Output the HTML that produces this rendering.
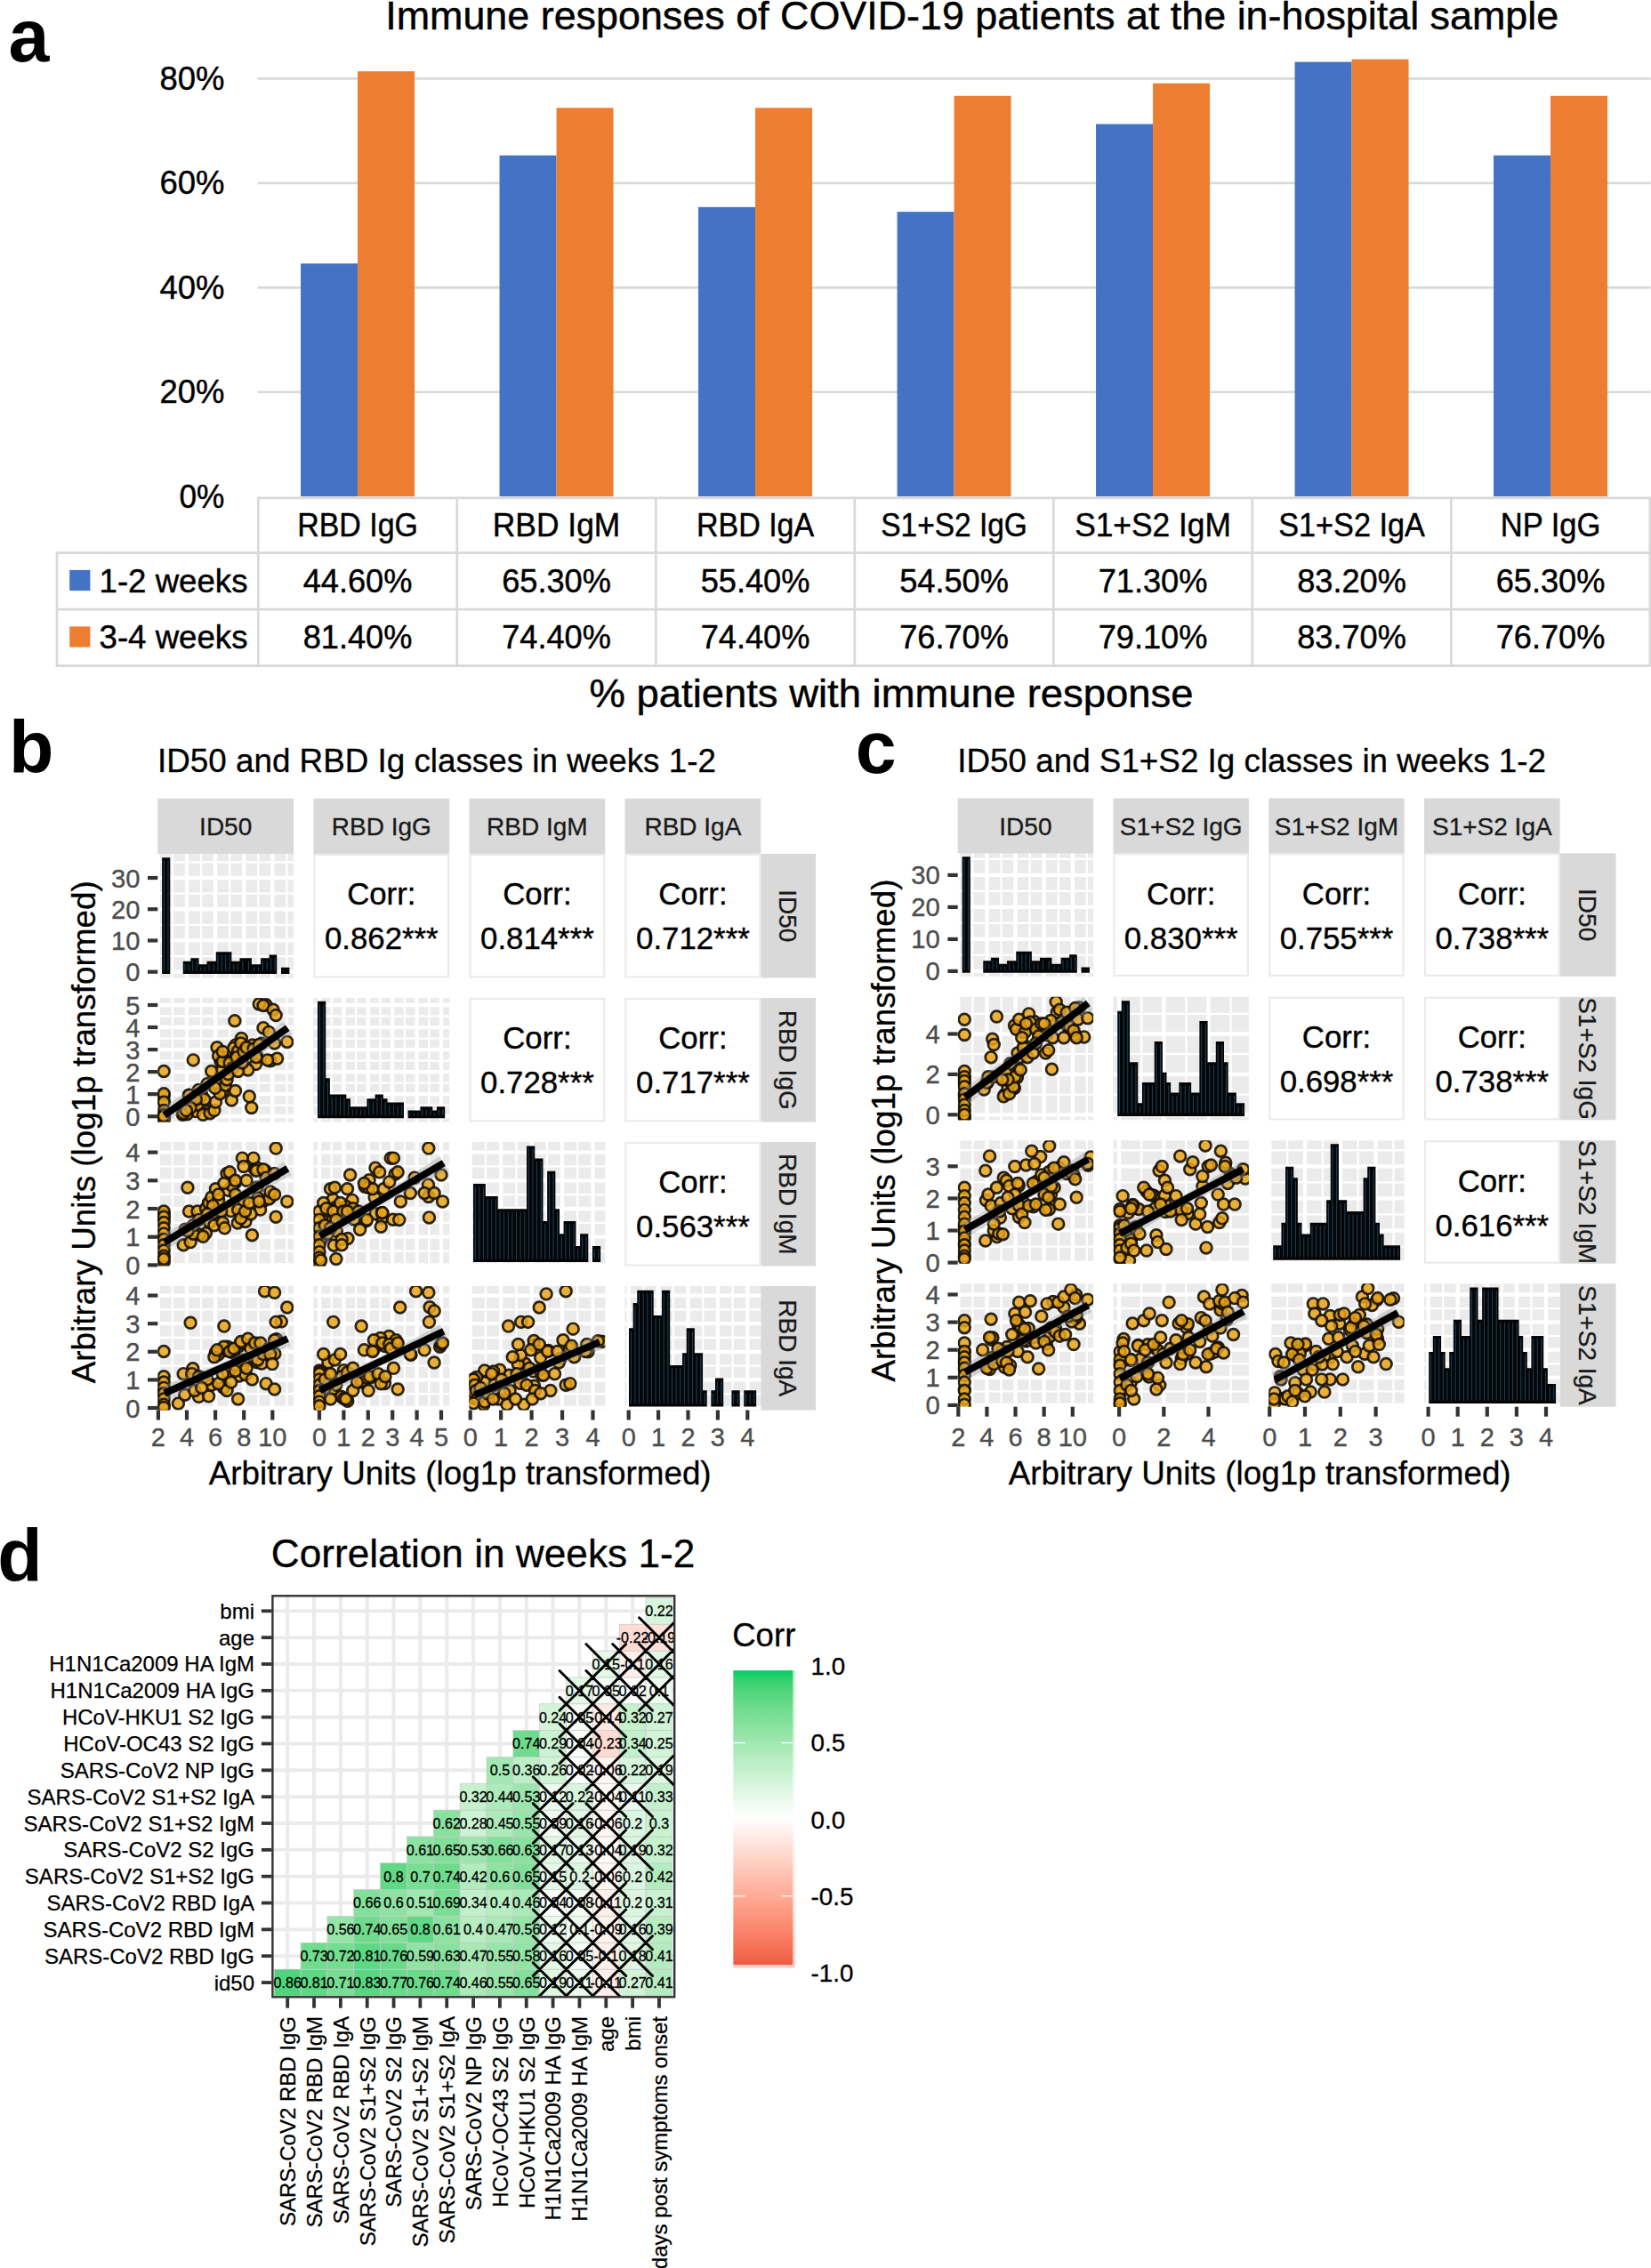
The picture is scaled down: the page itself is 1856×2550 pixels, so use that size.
<!DOCTYPE html>
<html lang="en"><head><meta charset="utf-8"><title>Figure</title>
<style>
html,body{margin:0;padding:0;background:#fff}
body{width:1856px;height:2550px;overflow:hidden}
svg{display:block;font-family:"Liberation Sans",sans-serif}
</style></head><body>
<svg width="1856" height="2550" viewBox="0 0 1856 2550">
<rect width="1856" height="2550" fill="#fff"/>
<g id="pa">
<line x1="289.6" y1="440.75" x2="1855.5" y2="440.75" stroke="#D9D9D9" stroke-width="2.7"/>
<line x1="289.6" y1="323.3" x2="1855.5" y2="323.3" stroke="#D9D9D9" stroke-width="2.7"/>
<line x1="289.6" y1="205.85" x2="1855.5" y2="205.85" stroke="#D9D9D9" stroke-width="2.7"/>
<line x1="289.6" y1="88.4" x2="1855.5" y2="88.4" stroke="#D9D9D9" stroke-width="2.7"/>
<rect x="338.05" y="296.29" width="64" height="261.91" fill="#4472C4"/>
<rect x="402.05" y="80.18" width="64" height="478.02" fill="#ED7D31"/>
<rect x="561.55" y="174.73" width="64" height="383.47" fill="#4472C4"/>
<rect x="625.55" y="121.29" width="64" height="436.91" fill="#ED7D31"/>
<rect x="785.05" y="232.86" width="64" height="325.34" fill="#4472C4"/>
<rect x="849.05" y="121.29" width="64" height="436.91" fill="#ED7D31"/>
<rect x="1008.55" y="238.15" width="64" height="320.05" fill="#4472C4"/>
<rect x="1072.55" y="107.78" width="64" height="450.42" fill="#ED7D31"/>
<rect x="1232.05" y="139.49" width="64" height="418.71" fill="#4472C4"/>
<rect x="1296.05" y="93.69" width="64" height="464.51" fill="#ED7D31"/>
<rect x="1455.55" y="69.61" width="64" height="488.59" fill="#4472C4"/>
<rect x="1519.55" y="66.67" width="64" height="491.53" fill="#ED7D31"/>
<rect x="1679.05" y="174.73" width="64" height="383.47" fill="#4472C4"/>
<rect x="1743.05" y="107.78" width="64" height="450.42" fill="#ED7D31"/>
<line x1="289.1" y1="559.9" x2="1855.5" y2="559.9" stroke="#D9D9D9" stroke-width="2.7"/>
<line x1="62.8" y1="621.6" x2="1855.5" y2="621.6" stroke="#D9D9D9" stroke-width="2.7"/>
<line x1="62.8" y1="685.1" x2="1855.5" y2="685.1" stroke="#D9D9D9" stroke-width="2.7"/>
<line x1="62.8" y1="748.6" x2="1855.5" y2="748.6" stroke="#D9D9D9" stroke-width="2.7"/>
<line x1="290.3" y1="559.9" x2="290.3" y2="748.6" stroke="#D9D9D9" stroke-width="2.7"/>
<line x1="513.8" y1="559.9" x2="513.8" y2="748.6" stroke="#D9D9D9" stroke-width="2.7"/>
<line x1="737.3" y1="559.9" x2="737.3" y2="748.6" stroke="#D9D9D9" stroke-width="2.7"/>
<line x1="960.8" y1="559.9" x2="960.8" y2="748.6" stroke="#D9D9D9" stroke-width="2.7"/>
<line x1="1184.3" y1="559.9" x2="1184.3" y2="748.6" stroke="#D9D9D9" stroke-width="2.7"/>
<line x1="1407.8" y1="559.9" x2="1407.8" y2="748.6" stroke="#D9D9D9" stroke-width="2.7"/>
<line x1="1631.3" y1="559.9" x2="1631.3" y2="748.6" stroke="#D9D9D9" stroke-width="2.7"/>
<line x1="1854.8" y1="559.9" x2="1854.8" y2="748.6" stroke="#D9D9D9" stroke-width="2.7"/>
<line x1="64" y1="621.6" x2="64" y2="748.6" stroke="#D9D9D9" stroke-width="2.7"/>
<text x="252.5" y="570.5" font-size="37" text-anchor="end" stroke="#000" stroke-width="0.45" textLength="51" lengthAdjust="spacingAndGlyphs">0%</text>
<text x="252.5" y="453.05" font-size="37" text-anchor="end" stroke="#000" stroke-width="0.45" textLength="73" lengthAdjust="spacingAndGlyphs">20%</text>
<text x="252.5" y="335.6" font-size="37" text-anchor="end" stroke="#000" stroke-width="0.45" textLength="73" lengthAdjust="spacingAndGlyphs">40%</text>
<text x="252.5" y="218.15" font-size="37" text-anchor="end" stroke="#000" stroke-width="0.45" textLength="73" lengthAdjust="spacingAndGlyphs">60%</text>
<text x="252.5" y="100.7" font-size="37" text-anchor="end" stroke="#000" stroke-width="0.45" textLength="73" lengthAdjust="spacingAndGlyphs">80%</text>
<text x="402.05" y="602.5" font-size="37" text-anchor="middle" stroke="#000" stroke-width="0.45" textLength="135.7" lengthAdjust="spacingAndGlyphs">RBD IgG</text>
<text x="402.05" y="666.2" font-size="37" text-anchor="middle" stroke="#000" stroke-width="0.45" textLength="122.8" lengthAdjust="spacingAndGlyphs">44.60%</text>
<text x="402.05" y="729.4" font-size="37" text-anchor="middle" stroke="#000" stroke-width="0.45" textLength="122.8" lengthAdjust="spacingAndGlyphs">81.40%</text>
<text x="625.55" y="602.5" font-size="37" text-anchor="middle" stroke="#000" stroke-width="0.45" textLength="143.5" lengthAdjust="spacingAndGlyphs">RBD IgM</text>
<text x="625.55" y="666.2" font-size="37" text-anchor="middle" stroke="#000" stroke-width="0.45" textLength="122.8" lengthAdjust="spacingAndGlyphs">65.30%</text>
<text x="625.55" y="729.4" font-size="37" text-anchor="middle" stroke="#000" stroke-width="0.45" textLength="122.8" lengthAdjust="spacingAndGlyphs">74.40%</text>
<text x="849.05" y="602.5" font-size="37" text-anchor="middle" stroke="#000" stroke-width="0.45" textLength="132.3" lengthAdjust="spacingAndGlyphs">RBD IgA</text>
<text x="849.05" y="666.2" font-size="37" text-anchor="middle" stroke="#000" stroke-width="0.45" textLength="122.8" lengthAdjust="spacingAndGlyphs">55.40%</text>
<text x="849.05" y="729.4" font-size="37" text-anchor="middle" stroke="#000" stroke-width="0.45" textLength="122.8" lengthAdjust="spacingAndGlyphs">74.40%</text>
<text x="1072.55" y="602.5" font-size="37" text-anchor="middle" stroke="#000" stroke-width="0.45" textLength="164.6" lengthAdjust="spacingAndGlyphs">S1+S2 IgG</text>
<text x="1072.55" y="666.2" font-size="37" text-anchor="middle" stroke="#000" stroke-width="0.45" textLength="122.8" lengthAdjust="spacingAndGlyphs">54.50%</text>
<text x="1072.55" y="729.4" font-size="37" text-anchor="middle" stroke="#000" stroke-width="0.45" textLength="122.8" lengthAdjust="spacingAndGlyphs">76.70%</text>
<text x="1296.05" y="602.5" font-size="37" text-anchor="middle" stroke="#000" stroke-width="0.45" textLength="175.8" lengthAdjust="spacingAndGlyphs">S1+S2 IgM</text>
<text x="1296.05" y="666.2" font-size="37" text-anchor="middle" stroke="#000" stroke-width="0.45" textLength="122.8" lengthAdjust="spacingAndGlyphs">71.30%</text>
<text x="1296.05" y="729.4" font-size="37" text-anchor="middle" stroke="#000" stroke-width="0.45" textLength="122.8" lengthAdjust="spacingAndGlyphs">79.10%</text>
<text x="1519.55" y="602.5" font-size="37" text-anchor="middle" stroke="#000" stroke-width="0.45" textLength="164.6" lengthAdjust="spacingAndGlyphs">S1+S2 IgA</text>
<text x="1519.55" y="666.2" font-size="37" text-anchor="middle" stroke="#000" stroke-width="0.45" textLength="122.8" lengthAdjust="spacingAndGlyphs">83.20%</text>
<text x="1519.55" y="729.4" font-size="37" text-anchor="middle" stroke="#000" stroke-width="0.45" textLength="122.8" lengthAdjust="spacingAndGlyphs">83.70%</text>
<text x="1743.05" y="602.5" font-size="37" text-anchor="middle" stroke="#000" stroke-width="0.45" textLength="112.7" lengthAdjust="spacingAndGlyphs">NP IgG</text>
<text x="1743.05" y="666.2" font-size="37" text-anchor="middle" stroke="#000" stroke-width="0.45" textLength="122.8" lengthAdjust="spacingAndGlyphs">65.30%</text>
<text x="1743.05" y="729.4" font-size="37" text-anchor="middle" stroke="#000" stroke-width="0.45" textLength="122.8" lengthAdjust="spacingAndGlyphs">76.70%</text>
<rect x="78.2" y="640.9" width="23.2" height="23.2" fill="#4472C4"/>
<rect x="78.2" y="704.4" width="23.2" height="23.2" fill="#ED7D31"/>
<text x="111.5" y="666.2" font-size="37" stroke="#000" stroke-width="0.45" textLength="167" lengthAdjust="spacingAndGlyphs">1-2 weeks</text>
<text x="111.5" y="729.4" font-size="37" stroke="#000" stroke-width="0.45" textLength="167" lengthAdjust="spacingAndGlyphs">3-4 weeks</text>
<text x="433.2" y="33.4" font-size="44.4" stroke="#000" stroke-width="0.45" textLength="1319" lengthAdjust="spacingAndGlyphs">Immune responses of COVID-19 patients at the in-hospital sample</text>
<text x="662.5" y="794.5" font-size="44.4" stroke="#000" stroke-width="0.45" textLength="679" lengthAdjust="spacingAndGlyphs">% patients with immune response</text>
<text x="9.6" y="68.7" font-size="82.5" font-weight="bold">a</text>
</g>
<g id="pb">
<defs>
<clipPath id="clb00"><rect x="177.3" y="960" width="152.8" height="139.5"/></clipPath>
<clipPath id="clb01"><rect x="352.4" y="960" width="152.8" height="139.5"/></clipPath>
<clipPath id="clb02"><rect x="527.5" y="960" width="152.8" height="139.5"/></clipPath>
<clipPath id="clb03"><rect x="702.5" y="960" width="152.8" height="139.5"/></clipPath>
<clipPath id="clb10"><rect x="177.3" y="1122" width="152.8" height="139.5"/></clipPath>
<clipPath id="clb11"><rect x="352.4" y="1122" width="152.8" height="139.5"/></clipPath>
<clipPath id="clb12"><rect x="527.5" y="1122" width="152.8" height="139.5"/></clipPath>
<clipPath id="clb13"><rect x="702.5" y="1122" width="152.8" height="139.5"/></clipPath>
<clipPath id="clb20"><rect x="177.3" y="1284" width="152.8" height="139.5"/></clipPath>
<clipPath id="clb21"><rect x="352.4" y="1284" width="152.8" height="139.5"/></clipPath>
<clipPath id="clb22"><rect x="527.5" y="1284" width="152.8" height="139.5"/></clipPath>
<clipPath id="clb23"><rect x="702.5" y="1284" width="152.8" height="139.5"/></clipPath>
<clipPath id="clb30"><rect x="177.3" y="1446" width="152.8" height="139.5"/></clipPath>
<clipPath id="clb31"><rect x="352.4" y="1446" width="152.8" height="139.5"/></clipPath>
<clipPath id="clb32"><rect x="527.5" y="1446" width="152.8" height="139.5"/></clipPath>
<clipPath id="clb33"><rect x="702.5" y="1446" width="152.8" height="139.5"/></clipPath>
<clipPath id="csb0"><rect x="855.2" y="960" width="61.8" height="139.5"/></clipPath>
<clipPath id="csb1"><rect x="855.2" y="1122" width="61.8" height="139.5"/></clipPath>
<clipPath id="csb2"><rect x="855.2" y="1284" width="61.8" height="139.5"/></clipPath>
<clipPath id="csb3"><rect x="855.2" y="1446" width="61.8" height="139.5"/></clipPath>
</defs>
<text x="177" y="867.5" font-size="36.8" stroke="#000" stroke-width="0.3">ID50 and RBD Ig classes in weeks 1-2</text>
<text x="10" y="869.2" font-size="82.5" font-weight="bold">b</text>
<rect x="177.3" y="897.8" width="152.8" height="62.1" fill="#D9D9D9"/>
<text x="253.7" y="938.8" font-size="28" text-anchor="middle" fill="#1A1A1A" stroke="#1A1A1A" stroke-width="0.3">ID50</text>
<rect x="352.4" y="897.8" width="152.8" height="62.1" fill="#D9D9D9"/>
<text x="428.8" y="938.8" font-size="28" text-anchor="middle" fill="#1A1A1A" stroke="#1A1A1A" stroke-width="0.3">RBD IgG</text>
<rect x="527.5" y="897.8" width="152.8" height="62.1" fill="#D9D9D9"/>
<text x="603.9" y="938.8" font-size="28" text-anchor="middle" fill="#1A1A1A" stroke="#1A1A1A" stroke-width="0.3">RBD IgM</text>
<rect x="702.5" y="897.8" width="152.8" height="62.1" fill="#D9D9D9"/>
<text x="778.9" y="938.8" font-size="28" text-anchor="middle" fill="#1A1A1A" stroke="#1A1A1A" stroke-width="0.3">RBD IgA</text>
<rect x="855.2" y="960" width="61.8" height="139.5" fill="#D9D9D9"/>
<g clip-path="url(#csb0)">
<text x="875.9" y="1029.75" font-size="28" text-anchor="middle" fill="#1A1A1A" transform="rotate(90 875.9 1029.75)" stroke="#1A1A1A" stroke-width="0.3">ID50</text>
</g>
<rect x="855.2" y="1122" width="61.8" height="139.5" fill="#D9D9D9"/>
<g clip-path="url(#csb1)">
<text x="875.9" y="1191.75" font-size="28" text-anchor="middle" fill="#1A1A1A" transform="rotate(90 875.9 1191.75)" stroke="#1A1A1A" stroke-width="0.3">RBD IgG</text>
</g>
<rect x="855.2" y="1284" width="61.8" height="139.5" fill="#D9D9D9"/>
<g clip-path="url(#csb2)">
<text x="875.9" y="1353.75" font-size="28" text-anchor="middle" fill="#1A1A1A" transform="rotate(90 875.9 1353.75)" stroke="#1A1A1A" stroke-width="0.3">RBD IgM</text>
</g>
<rect x="855.2" y="1446" width="61.8" height="139.5" fill="#D9D9D9"/>
<g clip-path="url(#csb3)">
<text x="875.9" y="1515.75" font-size="28" text-anchor="middle" fill="#1A1A1A" transform="rotate(90 875.9 1515.75)" stroke="#1A1A1A" stroke-width="0.3">RBD IgA</text>
</g>
<rect x="177.3" y="960" width="152.8" height="139.5" fill="#EBEBEB"/>
<line x1="193.95" y1="960" x2="193.95" y2="1099.5" stroke="#fff" stroke-width="2.3"/>
<line x1="226.05" y1="960" x2="226.05" y2="1099.5" stroke="#fff" stroke-width="2.3"/>
<line x1="258.15" y1="960" x2="258.15" y2="1099.5" stroke="#fff" stroke-width="2.3"/>
<line x1="290.25" y1="960" x2="290.25" y2="1099.5" stroke="#fff" stroke-width="2.3"/>
<line x1="322.35" y1="960" x2="322.35" y2="1099.5" stroke="#fff" stroke-width="2.3"/>
<line x1="177.3" y1="1075.09" x2="330.1" y2="1075.09" stroke="#fff" stroke-width="2.3"/>
<line x1="177.3" y1="1039.86" x2="330.1" y2="1039.86" stroke="#fff" stroke-width="2.3"/>
<line x1="177.3" y1="1004.62" x2="330.1" y2="1004.62" stroke="#fff" stroke-width="2.3"/>
<line x1="177.3" y1="969.39" x2="330.1" y2="969.39" stroke="#fff" stroke-width="2.3"/>
<line x1="177.9" y1="960" x2="177.9" y2="1099.5" stroke="#fff" stroke-width="4.3"/>
<line x1="210" y1="960" x2="210" y2="1099.5" stroke="#fff" stroke-width="4.3"/>
<line x1="242.1" y1="960" x2="242.1" y2="1099.5" stroke="#fff" stroke-width="4.3"/>
<line x1="274.2" y1="960" x2="274.2" y2="1099.5" stroke="#fff" stroke-width="4.3"/>
<line x1="306.3" y1="960" x2="306.3" y2="1099.5" stroke="#fff" stroke-width="4.3"/>
<line x1="177.3" y1="1092.7" x2="330.1" y2="1092.7" stroke="#fff" stroke-width="4.3"/>
<line x1="177.3" y1="1057.47" x2="330.1" y2="1057.47" stroke="#fff" stroke-width="4.3"/>
<line x1="177.3" y1="1022.24" x2="330.1" y2="1022.24" stroke="#fff" stroke-width="4.3"/>
<line x1="177.3" y1="987.01" x2="330.1" y2="987.01" stroke="#fff" stroke-width="4.3"/>
<rect x="353.4" y="961" width="150.8" height="137.5" fill="#fff" stroke="#EBEBEB" stroke-width="2.2"/>
<text x="428.8" y="1017.3" font-size="34.8" text-anchor="middle" stroke="#000" stroke-width="0.4">Corr:</text>
<text x="428.8" y="1067.3" font-size="34.8" text-anchor="middle" stroke="#000" stroke-width="0.4">0.862***</text>
<rect x="528.5" y="961" width="150.8" height="137.5" fill="#fff" stroke="#EBEBEB" stroke-width="2.2"/>
<text x="603.9" y="1017.3" font-size="34.8" text-anchor="middle" stroke="#000" stroke-width="0.4">Corr:</text>
<text x="603.9" y="1067.3" font-size="34.8" text-anchor="middle" stroke="#000" stroke-width="0.4">0.814***</text>
<rect x="703.5" y="961" width="150.8" height="137.5" fill="#fff" stroke="#EBEBEB" stroke-width="2.2"/>
<text x="778.9" y="1017.3" font-size="34.8" text-anchor="middle" stroke="#000" stroke-width="0.4">Corr:</text>
<text x="778.9" y="1067.3" font-size="34.8" text-anchor="middle" stroke="#000" stroke-width="0.4">0.712***</text>
<rect x="177.3" y="1122" width="152.8" height="139.5" fill="#EBEBEB"/>
<line x1="193.95" y1="1122" x2="193.95" y2="1261.5" stroke="#fff" stroke-width="2.3"/>
<line x1="226.05" y1="1122" x2="226.05" y2="1261.5" stroke="#fff" stroke-width="2.3"/>
<line x1="258.15" y1="1122" x2="258.15" y2="1261.5" stroke="#fff" stroke-width="2.3"/>
<line x1="290.25" y1="1122" x2="290.25" y2="1261.5" stroke="#fff" stroke-width="2.3"/>
<line x1="322.35" y1="1122" x2="322.35" y2="1261.5" stroke="#fff" stroke-width="2.3"/>
<line x1="177.3" y1="1242.68" x2="330.1" y2="1242.68" stroke="#fff" stroke-width="2.3"/>
<line x1="177.3" y1="1217.64" x2="330.1" y2="1217.64" stroke="#fff" stroke-width="2.3"/>
<line x1="177.3" y1="1192.6" x2="330.1" y2="1192.6" stroke="#fff" stroke-width="2.3"/>
<line x1="177.3" y1="1167.56" x2="330.1" y2="1167.56" stroke="#fff" stroke-width="2.3"/>
<line x1="177.3" y1="1142.52" x2="330.1" y2="1142.52" stroke="#fff" stroke-width="2.3"/>
<line x1="177.9" y1="1122" x2="177.9" y2="1261.5" stroke="#fff" stroke-width="4.3"/>
<line x1="210" y1="1122" x2="210" y2="1261.5" stroke="#fff" stroke-width="4.3"/>
<line x1="242.1" y1="1122" x2="242.1" y2="1261.5" stroke="#fff" stroke-width="4.3"/>
<line x1="274.2" y1="1122" x2="274.2" y2="1261.5" stroke="#fff" stroke-width="4.3"/>
<line x1="306.3" y1="1122" x2="306.3" y2="1261.5" stroke="#fff" stroke-width="4.3"/>
<line x1="177.3" y1="1255.2" x2="330.1" y2="1255.2" stroke="#fff" stroke-width="4.3"/>
<line x1="177.3" y1="1230.16" x2="330.1" y2="1230.16" stroke="#fff" stroke-width="4.3"/>
<line x1="177.3" y1="1205.12" x2="330.1" y2="1205.12" stroke="#fff" stroke-width="4.3"/>
<line x1="177.3" y1="1180.08" x2="330.1" y2="1180.08" stroke="#fff" stroke-width="4.3"/>
<line x1="177.3" y1="1155.04" x2="330.1" y2="1155.04" stroke="#fff" stroke-width="4.3"/>
<line x1="177.3" y1="1130" x2="330.1" y2="1130" stroke="#fff" stroke-width="4.3"/>
<rect x="352.4" y="1122" width="152.8" height="139.5" fill="#EBEBEB"/>
<line x1="372.7" y1="1122" x2="372.7" y2="1261.5" stroke="#fff" stroke-width="2.3"/>
<line x1="400.1" y1="1122" x2="400.1" y2="1261.5" stroke="#fff" stroke-width="2.3"/>
<line x1="427.5" y1="1122" x2="427.5" y2="1261.5" stroke="#fff" stroke-width="2.3"/>
<line x1="454.9" y1="1122" x2="454.9" y2="1261.5" stroke="#fff" stroke-width="2.3"/>
<line x1="482.3" y1="1122" x2="482.3" y2="1261.5" stroke="#fff" stroke-width="2.3"/>
<line x1="352.4" y1="1242.68" x2="505.2" y2="1242.68" stroke="#fff" stroke-width="2.3"/>
<line x1="352.4" y1="1217.64" x2="505.2" y2="1217.64" stroke="#fff" stroke-width="2.3"/>
<line x1="352.4" y1="1192.6" x2="505.2" y2="1192.6" stroke="#fff" stroke-width="2.3"/>
<line x1="352.4" y1="1167.56" x2="505.2" y2="1167.56" stroke="#fff" stroke-width="2.3"/>
<line x1="352.4" y1="1142.52" x2="505.2" y2="1142.52" stroke="#fff" stroke-width="2.3"/>
<line x1="359" y1="1122" x2="359" y2="1261.5" stroke="#fff" stroke-width="4.3"/>
<line x1="386.4" y1="1122" x2="386.4" y2="1261.5" stroke="#fff" stroke-width="4.3"/>
<line x1="413.8" y1="1122" x2="413.8" y2="1261.5" stroke="#fff" stroke-width="4.3"/>
<line x1="441.2" y1="1122" x2="441.2" y2="1261.5" stroke="#fff" stroke-width="4.3"/>
<line x1="468.6" y1="1122" x2="468.6" y2="1261.5" stroke="#fff" stroke-width="4.3"/>
<line x1="496" y1="1122" x2="496" y2="1261.5" stroke="#fff" stroke-width="4.3"/>
<line x1="352.4" y1="1255.2" x2="505.2" y2="1255.2" stroke="#fff" stroke-width="4.3"/>
<line x1="352.4" y1="1230.16" x2="505.2" y2="1230.16" stroke="#fff" stroke-width="4.3"/>
<line x1="352.4" y1="1205.12" x2="505.2" y2="1205.12" stroke="#fff" stroke-width="4.3"/>
<line x1="352.4" y1="1180.08" x2="505.2" y2="1180.08" stroke="#fff" stroke-width="4.3"/>
<line x1="352.4" y1="1155.04" x2="505.2" y2="1155.04" stroke="#fff" stroke-width="4.3"/>
<line x1="352.4" y1="1130" x2="505.2" y2="1130" stroke="#fff" stroke-width="4.3"/>
<rect x="528.5" y="1123" width="150.8" height="137.5" fill="#fff" stroke="#EBEBEB" stroke-width="2.2"/>
<text x="603.9" y="1179.3" font-size="34.8" text-anchor="middle" stroke="#000" stroke-width="0.4">Corr:</text>
<text x="603.9" y="1229.3" font-size="34.8" text-anchor="middle" stroke="#000" stroke-width="0.4">0.728***</text>
<rect x="703.5" y="1123" width="150.8" height="137.5" fill="#fff" stroke="#EBEBEB" stroke-width="2.2"/>
<text x="778.9" y="1179.3" font-size="34.8" text-anchor="middle" stroke="#000" stroke-width="0.4">Corr:</text>
<text x="778.9" y="1229.3" font-size="34.8" text-anchor="middle" stroke="#000" stroke-width="0.4">0.717***</text>
<rect x="177.3" y="1284" width="152.8" height="139.5" fill="#EBEBEB"/>
<line x1="193.95" y1="1284" x2="193.95" y2="1423.5" stroke="#fff" stroke-width="2.3"/>
<line x1="226.05" y1="1284" x2="226.05" y2="1423.5" stroke="#fff" stroke-width="2.3"/>
<line x1="258.15" y1="1284" x2="258.15" y2="1423.5" stroke="#fff" stroke-width="2.3"/>
<line x1="290.25" y1="1284" x2="290.25" y2="1423.5" stroke="#fff" stroke-width="2.3"/>
<line x1="322.35" y1="1284" x2="322.35" y2="1423.5" stroke="#fff" stroke-width="2.3"/>
<line x1="177.3" y1="1406.55" x2="330.1" y2="1406.55" stroke="#fff" stroke-width="2.3"/>
<line x1="177.3" y1="1374.85" x2="330.1" y2="1374.85" stroke="#fff" stroke-width="2.3"/>
<line x1="177.3" y1="1343.15" x2="330.1" y2="1343.15" stroke="#fff" stroke-width="2.3"/>
<line x1="177.3" y1="1311.45" x2="330.1" y2="1311.45" stroke="#fff" stroke-width="2.3"/>
<line x1="177.9" y1="1284" x2="177.9" y2="1423.5" stroke="#fff" stroke-width="4.3"/>
<line x1="210" y1="1284" x2="210" y2="1423.5" stroke="#fff" stroke-width="4.3"/>
<line x1="242.1" y1="1284" x2="242.1" y2="1423.5" stroke="#fff" stroke-width="4.3"/>
<line x1="274.2" y1="1284" x2="274.2" y2="1423.5" stroke="#fff" stroke-width="4.3"/>
<line x1="306.3" y1="1284" x2="306.3" y2="1423.5" stroke="#fff" stroke-width="4.3"/>
<line x1="177.3" y1="1422.4" x2="330.1" y2="1422.4" stroke="#fff" stroke-width="4.3"/>
<line x1="177.3" y1="1390.7" x2="330.1" y2="1390.7" stroke="#fff" stroke-width="4.3"/>
<line x1="177.3" y1="1359" x2="330.1" y2="1359" stroke="#fff" stroke-width="4.3"/>
<line x1="177.3" y1="1327.3" x2="330.1" y2="1327.3" stroke="#fff" stroke-width="4.3"/>
<line x1="177.3" y1="1295.6" x2="330.1" y2="1295.6" stroke="#fff" stroke-width="4.3"/>
<rect x="352.4" y="1284" width="152.8" height="139.5" fill="#EBEBEB"/>
<line x1="372.7" y1="1284" x2="372.7" y2="1423.5" stroke="#fff" stroke-width="2.3"/>
<line x1="400.1" y1="1284" x2="400.1" y2="1423.5" stroke="#fff" stroke-width="2.3"/>
<line x1="427.5" y1="1284" x2="427.5" y2="1423.5" stroke="#fff" stroke-width="2.3"/>
<line x1="454.9" y1="1284" x2="454.9" y2="1423.5" stroke="#fff" stroke-width="2.3"/>
<line x1="482.3" y1="1284" x2="482.3" y2="1423.5" stroke="#fff" stroke-width="2.3"/>
<line x1="352.4" y1="1406.55" x2="505.2" y2="1406.55" stroke="#fff" stroke-width="2.3"/>
<line x1="352.4" y1="1374.85" x2="505.2" y2="1374.85" stroke="#fff" stroke-width="2.3"/>
<line x1="352.4" y1="1343.15" x2="505.2" y2="1343.15" stroke="#fff" stroke-width="2.3"/>
<line x1="352.4" y1="1311.45" x2="505.2" y2="1311.45" stroke="#fff" stroke-width="2.3"/>
<line x1="359" y1="1284" x2="359" y2="1423.5" stroke="#fff" stroke-width="4.3"/>
<line x1="386.4" y1="1284" x2="386.4" y2="1423.5" stroke="#fff" stroke-width="4.3"/>
<line x1="413.8" y1="1284" x2="413.8" y2="1423.5" stroke="#fff" stroke-width="4.3"/>
<line x1="441.2" y1="1284" x2="441.2" y2="1423.5" stroke="#fff" stroke-width="4.3"/>
<line x1="468.6" y1="1284" x2="468.6" y2="1423.5" stroke="#fff" stroke-width="4.3"/>
<line x1="496" y1="1284" x2="496" y2="1423.5" stroke="#fff" stroke-width="4.3"/>
<line x1="352.4" y1="1422.4" x2="505.2" y2="1422.4" stroke="#fff" stroke-width="4.3"/>
<line x1="352.4" y1="1390.7" x2="505.2" y2="1390.7" stroke="#fff" stroke-width="4.3"/>
<line x1="352.4" y1="1359" x2="505.2" y2="1359" stroke="#fff" stroke-width="4.3"/>
<line x1="352.4" y1="1327.3" x2="505.2" y2="1327.3" stroke="#fff" stroke-width="4.3"/>
<line x1="352.4" y1="1295.6" x2="505.2" y2="1295.6" stroke="#fff" stroke-width="4.3"/>
<rect x="527.5" y="1284" width="152.8" height="139.5" fill="#EBEBEB"/>
<line x1="545.93" y1="1284" x2="545.93" y2="1423.5" stroke="#fff" stroke-width="2.3"/>
<line x1="580.38" y1="1284" x2="580.38" y2="1423.5" stroke="#fff" stroke-width="2.3"/>
<line x1="614.83" y1="1284" x2="614.83" y2="1423.5" stroke="#fff" stroke-width="2.3"/>
<line x1="649.28" y1="1284" x2="649.28" y2="1423.5" stroke="#fff" stroke-width="2.3"/>
<line x1="527.5" y1="1406.55" x2="680.3" y2="1406.55" stroke="#fff" stroke-width="2.3"/>
<line x1="527.5" y1="1374.85" x2="680.3" y2="1374.85" stroke="#fff" stroke-width="2.3"/>
<line x1="527.5" y1="1343.15" x2="680.3" y2="1343.15" stroke="#fff" stroke-width="2.3"/>
<line x1="527.5" y1="1311.45" x2="680.3" y2="1311.45" stroke="#fff" stroke-width="2.3"/>
<line x1="528.7" y1="1284" x2="528.7" y2="1423.5" stroke="#fff" stroke-width="4.3"/>
<line x1="563.15" y1="1284" x2="563.15" y2="1423.5" stroke="#fff" stroke-width="4.3"/>
<line x1="597.6" y1="1284" x2="597.6" y2="1423.5" stroke="#fff" stroke-width="4.3"/>
<line x1="632.05" y1="1284" x2="632.05" y2="1423.5" stroke="#fff" stroke-width="4.3"/>
<line x1="666.5" y1="1284" x2="666.5" y2="1423.5" stroke="#fff" stroke-width="4.3"/>
<line x1="527.5" y1="1422.4" x2="680.3" y2="1422.4" stroke="#fff" stroke-width="4.3"/>
<line x1="527.5" y1="1390.7" x2="680.3" y2="1390.7" stroke="#fff" stroke-width="4.3"/>
<line x1="527.5" y1="1359" x2="680.3" y2="1359" stroke="#fff" stroke-width="4.3"/>
<line x1="527.5" y1="1327.3" x2="680.3" y2="1327.3" stroke="#fff" stroke-width="4.3"/>
<line x1="527.5" y1="1295.6" x2="680.3" y2="1295.6" stroke="#fff" stroke-width="4.3"/>
<rect x="703.5" y="1285" width="150.8" height="137.5" fill="#fff" stroke="#EBEBEB" stroke-width="2.2"/>
<text x="778.9" y="1341.3" font-size="34.8" text-anchor="middle" stroke="#000" stroke-width="0.4">Corr:</text>
<text x="778.9" y="1391.3" font-size="34.8" text-anchor="middle" stroke="#000" stroke-width="0.4">0.563***</text>
<rect x="177.3" y="1446" width="152.8" height="139.5" fill="#EBEBEB"/>
<line x1="193.95" y1="1446" x2="193.95" y2="1585.5" stroke="#fff" stroke-width="2.3"/>
<line x1="226.05" y1="1446" x2="226.05" y2="1585.5" stroke="#fff" stroke-width="2.3"/>
<line x1="258.15" y1="1446" x2="258.15" y2="1585.5" stroke="#fff" stroke-width="2.3"/>
<line x1="290.25" y1="1446" x2="290.25" y2="1585.5" stroke="#fff" stroke-width="2.3"/>
<line x1="322.35" y1="1446" x2="322.35" y2="1585.5" stroke="#fff" stroke-width="2.3"/>
<line x1="177.3" y1="1567.2" x2="330.1" y2="1567.2" stroke="#fff" stroke-width="2.3"/>
<line x1="177.3" y1="1535.6" x2="330.1" y2="1535.6" stroke="#fff" stroke-width="2.3"/>
<line x1="177.3" y1="1504" x2="330.1" y2="1504" stroke="#fff" stroke-width="2.3"/>
<line x1="177.3" y1="1472.4" x2="330.1" y2="1472.4" stroke="#fff" stroke-width="2.3"/>
<line x1="177.9" y1="1446" x2="177.9" y2="1585.5" stroke="#fff" stroke-width="4.3"/>
<line x1="210" y1="1446" x2="210" y2="1585.5" stroke="#fff" stroke-width="4.3"/>
<line x1="242.1" y1="1446" x2="242.1" y2="1585.5" stroke="#fff" stroke-width="4.3"/>
<line x1="274.2" y1="1446" x2="274.2" y2="1585.5" stroke="#fff" stroke-width="4.3"/>
<line x1="306.3" y1="1446" x2="306.3" y2="1585.5" stroke="#fff" stroke-width="4.3"/>
<line x1="177.3" y1="1583" x2="330.1" y2="1583" stroke="#fff" stroke-width="4.3"/>
<line x1="177.3" y1="1551.4" x2="330.1" y2="1551.4" stroke="#fff" stroke-width="4.3"/>
<line x1="177.3" y1="1519.8" x2="330.1" y2="1519.8" stroke="#fff" stroke-width="4.3"/>
<line x1="177.3" y1="1488.2" x2="330.1" y2="1488.2" stroke="#fff" stroke-width="4.3"/>
<line x1="177.3" y1="1456.6" x2="330.1" y2="1456.6" stroke="#fff" stroke-width="4.3"/>
<rect x="352.4" y="1446" width="152.8" height="139.5" fill="#EBEBEB"/>
<line x1="372.7" y1="1446" x2="372.7" y2="1585.5" stroke="#fff" stroke-width="2.3"/>
<line x1="400.1" y1="1446" x2="400.1" y2="1585.5" stroke="#fff" stroke-width="2.3"/>
<line x1="427.5" y1="1446" x2="427.5" y2="1585.5" stroke="#fff" stroke-width="2.3"/>
<line x1="454.9" y1="1446" x2="454.9" y2="1585.5" stroke="#fff" stroke-width="2.3"/>
<line x1="482.3" y1="1446" x2="482.3" y2="1585.5" stroke="#fff" stroke-width="2.3"/>
<line x1="352.4" y1="1567.2" x2="505.2" y2="1567.2" stroke="#fff" stroke-width="2.3"/>
<line x1="352.4" y1="1535.6" x2="505.2" y2="1535.6" stroke="#fff" stroke-width="2.3"/>
<line x1="352.4" y1="1504" x2="505.2" y2="1504" stroke="#fff" stroke-width="2.3"/>
<line x1="352.4" y1="1472.4" x2="505.2" y2="1472.4" stroke="#fff" stroke-width="2.3"/>
<line x1="359" y1="1446" x2="359" y2="1585.5" stroke="#fff" stroke-width="4.3"/>
<line x1="386.4" y1="1446" x2="386.4" y2="1585.5" stroke="#fff" stroke-width="4.3"/>
<line x1="413.8" y1="1446" x2="413.8" y2="1585.5" stroke="#fff" stroke-width="4.3"/>
<line x1="441.2" y1="1446" x2="441.2" y2="1585.5" stroke="#fff" stroke-width="4.3"/>
<line x1="468.6" y1="1446" x2="468.6" y2="1585.5" stroke="#fff" stroke-width="4.3"/>
<line x1="496" y1="1446" x2="496" y2="1585.5" stroke="#fff" stroke-width="4.3"/>
<line x1="352.4" y1="1583" x2="505.2" y2="1583" stroke="#fff" stroke-width="4.3"/>
<line x1="352.4" y1="1551.4" x2="505.2" y2="1551.4" stroke="#fff" stroke-width="4.3"/>
<line x1="352.4" y1="1519.8" x2="505.2" y2="1519.8" stroke="#fff" stroke-width="4.3"/>
<line x1="352.4" y1="1488.2" x2="505.2" y2="1488.2" stroke="#fff" stroke-width="4.3"/>
<line x1="352.4" y1="1456.6" x2="505.2" y2="1456.6" stroke="#fff" stroke-width="4.3"/>
<rect x="527.5" y="1446" width="152.8" height="139.5" fill="#EBEBEB"/>
<line x1="545.93" y1="1446" x2="545.93" y2="1585.5" stroke="#fff" stroke-width="2.3"/>
<line x1="580.38" y1="1446" x2="580.38" y2="1585.5" stroke="#fff" stroke-width="2.3"/>
<line x1="614.83" y1="1446" x2="614.83" y2="1585.5" stroke="#fff" stroke-width="2.3"/>
<line x1="649.28" y1="1446" x2="649.28" y2="1585.5" stroke="#fff" stroke-width="2.3"/>
<line x1="527.5" y1="1567.2" x2="680.3" y2="1567.2" stroke="#fff" stroke-width="2.3"/>
<line x1="527.5" y1="1535.6" x2="680.3" y2="1535.6" stroke="#fff" stroke-width="2.3"/>
<line x1="527.5" y1="1504" x2="680.3" y2="1504" stroke="#fff" stroke-width="2.3"/>
<line x1="527.5" y1="1472.4" x2="680.3" y2="1472.4" stroke="#fff" stroke-width="2.3"/>
<line x1="528.7" y1="1446" x2="528.7" y2="1585.5" stroke="#fff" stroke-width="4.3"/>
<line x1="563.15" y1="1446" x2="563.15" y2="1585.5" stroke="#fff" stroke-width="4.3"/>
<line x1="597.6" y1="1446" x2="597.6" y2="1585.5" stroke="#fff" stroke-width="4.3"/>
<line x1="632.05" y1="1446" x2="632.05" y2="1585.5" stroke="#fff" stroke-width="4.3"/>
<line x1="666.5" y1="1446" x2="666.5" y2="1585.5" stroke="#fff" stroke-width="4.3"/>
<line x1="527.5" y1="1583" x2="680.3" y2="1583" stroke="#fff" stroke-width="4.3"/>
<line x1="527.5" y1="1551.4" x2="680.3" y2="1551.4" stroke="#fff" stroke-width="4.3"/>
<line x1="527.5" y1="1519.8" x2="680.3" y2="1519.8" stroke="#fff" stroke-width="4.3"/>
<line x1="527.5" y1="1488.2" x2="680.3" y2="1488.2" stroke="#fff" stroke-width="4.3"/>
<line x1="527.5" y1="1456.6" x2="680.3" y2="1456.6" stroke="#fff" stroke-width="4.3"/>
<rect x="702.5" y="1446" width="152.8" height="139.5" fill="#EBEBEB"/>
<line x1="723.4" y1="1446" x2="723.4" y2="1585.5" stroke="#fff" stroke-width="2.3"/>
<line x1="756.8" y1="1446" x2="756.8" y2="1585.5" stroke="#fff" stroke-width="2.3"/>
<line x1="790.2" y1="1446" x2="790.2" y2="1585.5" stroke="#fff" stroke-width="2.3"/>
<line x1="823.6" y1="1446" x2="823.6" y2="1585.5" stroke="#fff" stroke-width="2.3"/>
<line x1="702.5" y1="1567.2" x2="855.3" y2="1567.2" stroke="#fff" stroke-width="2.3"/>
<line x1="702.5" y1="1535.6" x2="855.3" y2="1535.6" stroke="#fff" stroke-width="2.3"/>
<line x1="702.5" y1="1504" x2="855.3" y2="1504" stroke="#fff" stroke-width="2.3"/>
<line x1="702.5" y1="1472.4" x2="855.3" y2="1472.4" stroke="#fff" stroke-width="2.3"/>
<line x1="706.7" y1="1446" x2="706.7" y2="1585.5" stroke="#fff" stroke-width="4.3"/>
<line x1="740.1" y1="1446" x2="740.1" y2="1585.5" stroke="#fff" stroke-width="4.3"/>
<line x1="773.5" y1="1446" x2="773.5" y2="1585.5" stroke="#fff" stroke-width="4.3"/>
<line x1="806.9" y1="1446" x2="806.9" y2="1585.5" stroke="#fff" stroke-width="4.3"/>
<line x1="840.3" y1="1446" x2="840.3" y2="1585.5" stroke="#fff" stroke-width="4.3"/>
<line x1="702.5" y1="1583" x2="855.3" y2="1583" stroke="#fff" stroke-width="4.3"/>
<line x1="702.5" y1="1551.4" x2="855.3" y2="1551.4" stroke="#fff" stroke-width="4.3"/>
<line x1="702.5" y1="1519.8" x2="855.3" y2="1519.8" stroke="#fff" stroke-width="4.3"/>
<line x1="702.5" y1="1488.2" x2="855.3" y2="1488.2" stroke="#fff" stroke-width="4.3"/>
<line x1="702.5" y1="1456.6" x2="855.3" y2="1456.6" stroke="#fff" stroke-width="4.3"/>
<g clip-path="url(#clb00)">
<path d="M182.13 1094.88V964.17H191.26V1094.88ZM205.75 1094.88V1080.71H214.41V1094.88ZM214.41 1094.88V1077.24H223.54V1094.88ZM223.54 1094.88V1084.17H232.52V1094.88ZM232.52 1094.88V1080.71H242.76V1094.88ZM242.76 1094.88V1070.16H251.42V1094.88ZM251.42 1094.88V1070.16H260.39V1094.88ZM260.39 1094.88V1080.71H269.53V1094.88ZM269.53 1094.88V1077.24H276.14V1094.88ZM276.14 1094.88V1077.24H282.91V1094.88ZM282.91 1094.88V1084.17H293.15V1094.88ZM293.15 1094.88V1077.24H302.6V1094.88ZM302.6 1094.88V1073.62H311.26V1094.88ZM315.98 1094.88V1087.8H325.43V1094.88Z" fill="#050505"/>
<path d="M184.41 1091.58V967.47M188.98 1091.58V967.47M207.91 1091.58V1084.01M212.24 1091.58V1084.01M216.69 1091.58V1080.54M221.26 1091.58V1080.54M225.79 1091.58V1087.47M230.28 1091.58V1087.47M235.08 1091.58V1084.01M240.2 1091.58V1084.01M244.92 1091.58V1073.46M249.25 1091.58V1073.46M253.66 1091.58V1073.46M258.15 1091.58V1073.46M262.68 1091.58V1084.01M267.24 1091.58V1084.01M272.83 1091.58V1080.54M279.53 1091.58V1080.54M285.47 1091.58V1087.47M290.59 1091.58V1087.47M295.51 1091.58V1080.54M300.24 1091.58V1080.54M304.76 1091.58V1076.92M309.09 1091.58V1076.92M318.35 1091.58V1091.1M323.07 1091.58V1091.1" stroke="#2D6E9E" stroke-width="0.9" fill="none" opacity="0.65"/>
</g>
<g clip-path="url(#clb11)">
<path d="M357.01 1257.24V1125.75H361.63V1257.24ZM361.63 1257.24V1125.75H366.24V1257.24ZM366.24 1257.24V1212.36H370.86V1257.24ZM370.86 1257.24V1230.47H375.48V1257.24ZM375.48 1257.24V1230.47H380.1V1257.24ZM380.1 1257.24V1230.47H384.71V1257.24ZM384.71 1257.24V1230.47H389.33V1257.24ZM389.33 1257.24V1235.2H393.95V1257.24ZM393.95 1257.24V1244.17H398.57V1257.24ZM398.57 1257.24V1244.17H403.19V1257.24ZM403.19 1257.24V1244.17H407.8V1257.24ZM407.8 1257.24V1244.17H412.42V1257.24ZM412.42 1257.24V1235.2H417.04V1257.24ZM417.04 1257.24V1235.2H421.66V1257.24ZM421.66 1257.24V1230.47H426.27V1257.24ZM426.27 1257.24V1230.47H430.89V1257.24ZM430.89 1257.24V1235.2H435.51V1257.24ZM435.51 1257.24V1239.61H440.13V1257.24ZM440.13 1257.24V1239.61H444.74V1257.24ZM444.74 1257.24V1239.61H449.36V1257.24ZM449.36 1257.24V1239.61H453.98V1257.24ZM458.6 1257.24V1248.58H463.22V1257.24ZM463.22 1257.24V1248.58H467.83V1257.24ZM467.83 1257.24V1248.58H472.45V1257.24ZM472.45 1257.24V1244.17H477.07V1257.24ZM477.07 1257.24V1244.17H481.69V1257.24ZM481.69 1257.24V1244.17H486.3V1257.24ZM486.3 1257.24V1248.58H490.92V1257.24ZM490.92 1257.24V1244.17H495.54V1257.24ZM495.54 1257.24V1244.17H500.16V1257.24Z" fill="#050505"/>
<path d="M359.32 1253.94V1129.05M363.93 1253.94V1129.05M368.55 1253.94V1215.66M373.17 1253.94V1233.77M377.79 1253.94V1233.77M382.41 1253.94V1233.77M387.02 1253.94V1233.77M391.64 1253.94V1238.5M396.26 1253.94V1247.47M400.88 1253.94V1247.47M405.49 1253.94V1247.47M410.11 1253.94V1247.47M414.73 1253.94V1238.5M419.35 1253.94V1238.5M423.96 1253.94V1233.77M428.58 1253.94V1233.77M433.2 1253.94V1238.5M437.82 1253.94V1242.91M442.44 1253.94V1242.91M447.05 1253.94V1242.91M451.67 1253.94V1242.91M460.91 1253.94V1251.88M465.52 1253.94V1251.88M470.14 1253.94V1251.88M474.76 1253.94V1247.47M479.38 1253.94V1247.47M484 1253.94V1247.47M488.61 1253.94V1251.88M493.23 1253.94V1247.47M497.85 1253.94V1247.47" stroke="#2D6E9E" stroke-width="0.9" fill="none" opacity="0.65"/>
</g>
<g clip-path="url(#clb22)">
<path d="M532.01 1419.09V1330.91H536.63V1419.09ZM536.63 1419.09V1330.91H541.24V1419.09ZM541.24 1419.09V1330.91H545.86V1419.09ZM545.86 1419.09V1345.08H550.48V1419.09ZM550.48 1419.09V1345.08H555.1V1419.09ZM555.1 1419.09V1345.08H559.71V1419.09ZM559.71 1419.09V1359.25H564.33V1419.09ZM564.33 1419.09V1359.25H568.95V1419.09ZM568.95 1419.09V1359.25H573.57V1419.09ZM573.57 1419.09V1359.25H578.19V1419.09ZM578.19 1419.09V1359.25H582.8V1419.09ZM582.8 1419.09V1359.25H587.42V1419.09ZM587.42 1419.09V1359.25H592.04V1419.09ZM592.04 1419.09V1288.39H596.66V1419.09ZM596.66 1419.09V1288.39H601.27V1419.09ZM601.27 1419.09V1302.56H605.89V1419.09ZM605.89 1419.09V1302.56H610.51V1419.09ZM610.51 1419.09V1373.11H615.13V1419.09ZM615.13 1419.09V1316.73H619.74V1419.09ZM619.74 1419.09V1316.73H624.36V1419.09ZM624.36 1419.09V1359.25H628.98V1419.09ZM628.98 1419.09V1387.28H633.6V1419.09ZM633.6 1419.09V1373.11H638.22V1419.09ZM638.22 1419.09V1373.11H642.83V1419.09ZM642.83 1419.09V1373.11H647.45V1419.09ZM647.45 1419.09V1400.98H652.07V1419.09ZM652.07 1419.09V1387.28H656.69V1419.09ZM656.69 1419.09V1387.28H661.3V1419.09ZM665.92 1419.09V1400.98H670.54V1419.09ZM670.54 1419.09V1400.98H675.16V1419.09Z" fill="#050505"/>
<path d="M534.32 1415.79V1334.21M538.93 1415.79V1334.21M543.55 1415.79V1334.21M548.17 1415.79V1348.38M552.79 1415.79V1348.38M557.41 1415.79V1348.38M562.02 1415.79V1362.55M566.64 1415.79V1362.55M571.26 1415.79V1362.55M575.88 1415.79V1362.55M580.49 1415.79V1362.55M585.11 1415.79V1362.55M589.73 1415.79V1362.55M594.35 1415.79V1291.69M598.96 1415.79V1291.69M603.58 1415.79V1305.86M608.2 1415.79V1305.86M612.82 1415.79V1376.41M617.44 1415.79V1320.03M622.05 1415.79V1320.03M626.67 1415.79V1362.55M631.29 1415.79V1390.58M635.91 1415.79V1376.41M640.52 1415.79V1376.41M645.14 1415.79V1376.41M649.76 1415.79V1404.28M654.38 1415.79V1390.58M659 1415.79V1390.58M668.23 1415.79V1404.28M672.85 1415.79V1404.28" stroke="#2D6E9E" stroke-width="0.9" fill="none" opacity="0.65"/>
</g>
<g clip-path="url(#clb33)">
<path d="M707.01 1581.46V1493.27H711.63V1581.46ZM711.63 1581.46V1464.92H716.24V1581.46ZM716.24 1581.46V1450.75H720.86V1581.46ZM720.86 1581.46V1450.75H725.48V1581.46ZM725.48 1581.46V1450.75H730.1V1581.46ZM730.1 1581.46V1450.75H734.71V1581.46ZM734.71 1581.46V1479.09H739.33V1581.46ZM739.33 1581.46V1479.09H743.95V1581.46ZM743.95 1581.46V1450.75H748.57V1581.46ZM748.57 1581.46V1450.75H753.19V1581.46ZM753.19 1581.46V1535H757.8V1581.46ZM757.8 1581.46V1535H762.42V1581.46ZM762.42 1581.46V1535H767.04V1581.46ZM767.04 1581.46V1521.14H771.66V1581.46ZM771.66 1581.46V1493.27H776.27V1581.46ZM776.27 1581.46V1493.27H780.89V1581.46ZM780.89 1581.46V1521.14H785.51V1581.46ZM785.51 1581.46V1521.14H790.13V1581.46ZM790.13 1581.46V1563.35H794.74V1581.46ZM799.36 1581.46V1563.35H803.98V1581.46ZM803.98 1581.46V1549.49H808.6V1581.46ZM808.6 1581.46V1549.49H813.22V1581.46ZM822.45 1581.46V1563.35H827.07V1581.46ZM827.07 1581.46V1563.35H831.69V1581.46ZM836.3 1581.46V1563.35H840.92V1581.46ZM840.92 1581.46V1563.35H845.54V1581.46ZM845.54 1581.46V1563.35H850.16V1581.46Z" fill="#050505"/>
<path d="M709.32 1578.16V1496.57M713.93 1578.16V1468.22M718.55 1578.16V1454.05M723.17 1578.16V1454.05M727.79 1578.16V1454.05M732.41 1578.16V1454.05M737.02 1578.16V1482.39M741.64 1578.16V1482.39M746.26 1578.16V1454.05M750.88 1578.16V1454.05M755.49 1578.16V1538.3M760.11 1578.16V1538.3M764.73 1578.16V1538.3M769.35 1578.16V1524.44M773.96 1578.16V1496.57M778.58 1578.16V1496.57M783.2 1578.16V1524.44M787.82 1578.16V1524.44M792.44 1578.16V1566.65M801.67 1578.16V1566.65M806.29 1578.16V1552.79M810.91 1578.16V1552.79M824.76 1578.16V1566.65M829.38 1578.16V1566.65M838.61 1578.16V1566.65M843.23 1578.16V1566.65M847.85 1578.16V1566.65" stroke="#2D6E9E" stroke-width="0.9" fill="none" opacity="0.65"/>
</g>
<g clip-path="url(#clb10)">
<g fill="#E8A317" fill-opacity="0.85" stroke="#150f05" stroke-opacity="0.9" stroke-width="2.7">
<circle cx="184.17" cy="1258.5" r="6.4"/><circle cx="264.87" cy="1174.89" r="6.4"/><circle cx="271.96" cy="1177.73" r="6.4"/><circle cx="288.24" cy="1186.47" r="6.4"/><circle cx="217.9" cy="1241.17" r="6.4"/><circle cx="212.42" cy="1231.4" r="6.4"/><circle cx="205.36" cy="1253.28" r="6.4"/><circle cx="184.17" cy="1231.65" r="6.4"/><circle cx="220.1" cy="1249.59" r="6.4"/><circle cx="184.17" cy="1238.11" r="6.4"/><circle cx="304.09" cy="1192.74" r="6.4"/><circle cx="283.91" cy="1175.01" r="6.4"/><circle cx="226.5" cy="1230.68" r="6.4"/><circle cx="271.4" cy="1167.57" r="6.4"/><circle cx="293.94" cy="1173.18" r="6.4"/><circle cx="260.33" cy="1237.01" r="6.4"/><circle cx="210.19" cy="1252.75" r="6.4"/><circle cx="299.05" cy="1129.78" r="6.4"/><circle cx="262.69" cy="1178.27" r="6.4"/><circle cx="250.54" cy="1226.37" r="6.4"/><circle cx="245.42" cy="1220.2" r="6.4"/><circle cx="263.82" cy="1189.66" r="6.4"/><circle cx="234.83" cy="1248.94" r="6.4"/><circle cx="287.49" cy="1196.5" r="6.4"/><circle cx="184.17" cy="1258.5" r="6.4"/><circle cx="311.57" cy="1190.23" r="6.4"/><circle cx="223.29" cy="1225.5" r="6.4"/><circle cx="250.43" cy="1188.21" r="6.4"/><circle cx="248.02" cy="1193.54" r="6.4"/><circle cx="267.56" cy="1181.78" r="6.4"/><circle cx="184.17" cy="1204.49" r="6.4"/><circle cx="184.17" cy="1229.69" r="6.4"/><circle cx="184.17" cy="1239.13" r="6.4"/><circle cx="184.17" cy="1248.58" r="6.4"/><circle cx="184.17" cy="1253.31" r="6.4"/><circle cx="184.17" cy="1254.88" r="6.4"/><circle cx="206.22" cy="1251.73" r="6.4"/><circle cx="212.52" cy="1231.26" r="6.4"/><circle cx="217.24" cy="1191.89" r="6.4"/><circle cx="221.97" cy="1242.28" r="6.4"/><circle cx="225.12" cy="1234.41" r="6.4"/><circle cx="228.27" cy="1253.31" r="6.4"/><circle cx="232.99" cy="1218.66" r="6.4"/><circle cx="236.14" cy="1251.73" r="6.4"/><circle cx="240.87" cy="1248.58" r="6.4"/><circle cx="242.44" cy="1239.13" r="6.4"/><circle cx="244.02" cy="1177.72" r="6.4"/><circle cx="245.59" cy="1187.17" r="6.4"/><circle cx="247.17" cy="1229.69" r="6.4"/><circle cx="248.74" cy="1204.49" r="6.4"/><circle cx="250.31" cy="1193.46" r="6.4"/><circle cx="253.46" cy="1220.24" r="6.4"/><circle cx="255.04" cy="1213.94" r="6.4"/><circle cx="258.19" cy="1195.04" r="6.4"/><circle cx="261.34" cy="1201.34" r="6.4"/><circle cx="263.86" cy="1147.8" r="6.4"/><circle cx="264.49" cy="1226.54" r="6.4"/><circle cx="266.06" cy="1188.74" r="6.4"/><circle cx="270.79" cy="1172.99" r="6.4"/><circle cx="273.94" cy="1182.44" r="6.4"/><circle cx="277.09" cy="1177.72" r="6.4"/><circle cx="278.66" cy="1202.91" r="6.4"/><circle cx="280.24" cy="1232.83" r="6.4"/><circle cx="282.76" cy="1245.43" r="6.4"/><circle cx="284.96" cy="1179.29" r="6.4"/><circle cx="288.11" cy="1188.74" r="6.4"/><circle cx="291.26" cy="1174.57" r="6.4"/><circle cx="295.98" cy="1155.67" r="6.4"/><circle cx="300.71" cy="1191.89" r="6.4"/><circle cx="302.28" cy="1160.39" r="6.4"/><circle cx="291.26" cy="1128.9" r="6.4"/><circle cx="295.98" cy="1130.47" r="6.4"/><circle cx="307.01" cy="1135.2" r="6.4"/><circle cx="310.16" cy="1141.5" r="6.4"/><circle cx="308.58" cy="1172.99" r="6.4"/><circle cx="322.76" cy="1171.42" r="6.4"/><circle cx="237.72" cy="1204.49" r="6.4"/><circle cx="229.84" cy="1235.98" r="6.4"/><circle cx="220.39" cy="1235.98" r="6.4"/><circle cx="214.09" cy="1245.43" r="6.4"/><circle cx="209.37" cy="1248.58" r="6.4"/><circle cx="241.81" cy="1223.39" r="6.4"/><circle cx="250.31" cy="1182.44" r="6.4"/><circle cx="256.61" cy="1207.64" r="6.4"/><circle cx="267.64" cy="1204.49" r="6.4"/><circle cx="272.36" cy="1195.04" r="6.4"/>
</g>
<path d="M189.9 1261.27L256.71 1208.65L328.4 1162.87L318.2 1148.53L251.39 1201.15L179.7 1246.93Z" fill="#999" fill-opacity="0.36"/>
<line x1="184.8" y1="1254.1" x2="323.3" y2="1155.7" stroke="#000" stroke-width="8"/>
</g>
<g clip-path="url(#clb20)">
<g fill="#E8A317" fill-opacity="0.85" stroke="#150f05" stroke-opacity="0.9" stroke-width="2.7">
<circle cx="298.28" cy="1316.38" r="6.4"/><circle cx="274.26" cy="1350.41" r="6.4"/><circle cx="303.78" cy="1346.02" r="6.4"/><circle cx="267.22" cy="1375.02" r="6.4"/><circle cx="295.72" cy="1350.69" r="6.4"/><circle cx="275.96" cy="1373.52" r="6.4"/><circle cx="217.16" cy="1386.67" r="6.4"/><circle cx="246.26" cy="1370.04" r="6.4"/><circle cx="275.31" cy="1362.18" r="6.4"/><circle cx="292.62" cy="1360.09" r="6.4"/><circle cx="231.43" cy="1386.61" r="6.4"/><circle cx="286.08" cy="1314.3" r="6.4"/><circle cx="235.81" cy="1374.27" r="6.4"/><circle cx="234.6" cy="1352.66" r="6.4"/><circle cx="302.43" cy="1347.97" r="6.4"/><circle cx="184.17" cy="1370.21" r="6.4"/><circle cx="259.62" cy="1361.58" r="6.4"/><circle cx="289.06" cy="1335.07" r="6.4"/><circle cx="242.36" cy="1362.79" r="6.4"/><circle cx="184.17" cy="1365.48" r="6.4"/><circle cx="289.07" cy="1313.34" r="6.4"/><circle cx="243.78" cy="1362.56" r="6.4"/><circle cx="208.21" cy="1382.22" r="6.4"/><circle cx="184.17" cy="1418.82" r="6.4"/><circle cx="224.26" cy="1387.96" r="6.4"/><circle cx="184.17" cy="1391.59" r="6.4"/><circle cx="289.97" cy="1346.96" r="6.4"/><circle cx="281.93" cy="1364.92" r="6.4"/><circle cx="264.4" cy="1329.75" r="6.4"/><circle cx="239.04" cy="1364.03" r="6.4"/><circle cx="184.17" cy="1361.97" r="6.4"/><circle cx="184.17" cy="1368.27" r="6.4"/><circle cx="184.17" cy="1374.57" r="6.4"/><circle cx="184.17" cy="1380.87" r="6.4"/><circle cx="184.17" cy="1387.17" r="6.4"/><circle cx="184.17" cy="1393.46" r="6.4"/><circle cx="184.17" cy="1399.76" r="6.4"/><circle cx="184.17" cy="1406.06" r="6.4"/><circle cx="184.17" cy="1412.36" r="6.4"/><circle cx="184.17" cy="1415.51" r="6.4"/><circle cx="206.22" cy="1399.76" r="6.4"/><circle cx="210.94" cy="1335.2" r="6.4"/><circle cx="212.52" cy="1361.97" r="6.4"/><circle cx="214.09" cy="1396.61" r="6.4"/><circle cx="217.24" cy="1387.17" r="6.4"/><circle cx="221.97" cy="1361.97" r="6.4"/><circle cx="228.27" cy="1390.31" r="6.4"/><circle cx="231.42" cy="1358.82" r="6.4"/><circle cx="234.57" cy="1352.52" r="6.4"/><circle cx="237.72" cy="1346.22" r="6.4"/><circle cx="240.87" cy="1377.72" r="6.4"/><circle cx="242.44" cy="1336.77" r="6.4"/><circle cx="245.59" cy="1349.37" r="6.4"/><circle cx="248.74" cy="1361.97" r="6.4"/><circle cx="250.31" cy="1374.57" r="6.4"/><circle cx="252.52" cy="1380.87" r="6.4"/><circle cx="255.04" cy="1319.45" r="6.4"/><circle cx="256.61" cy="1338.35" r="6.4"/><circle cx="258.19" cy="1317.87" r="6.4"/><circle cx="261.34" cy="1333.62" r="6.4"/><circle cx="264.49" cy="1343.07" r="6.4"/><circle cx="267.64" cy="1360.39" r="6.4"/><circle cx="270.79" cy="1369.84" r="6.4"/><circle cx="272.36" cy="1302.13" r="6.4"/><circle cx="273.94" cy="1311.57" r="6.4"/><circle cx="275.51" cy="1361.97" r="6.4"/><circle cx="277.09" cy="1327.32" r="6.4"/><circle cx="280.24" cy="1352.52" r="6.4"/><circle cx="283.39" cy="1388.74" r="6.4"/><circle cx="284.96" cy="1302.13" r="6.4"/><circle cx="288.11" cy="1316.3" r="6.4"/><circle cx="291.26" cy="1350.94" r="6.4"/><circle cx="295.98" cy="1314.72" r="6.4"/><circle cx="299.13" cy="1324.17" r="6.4"/><circle cx="303.86" cy="1339.92" r="6.4"/><circle cx="308.58" cy="1343.07" r="6.4"/><circle cx="310.16" cy="1368.27" r="6.4"/><circle cx="310.16" cy="1291.1" r="6.4"/><circle cx="322.76" cy="1350.94" r="6.4"/><circle cx="308.58" cy="1319.45" r="6.4"/><circle cx="264.49" cy="1327.32" r="6.4"/><circle cx="251.89" cy="1330.47" r="6.4"/><circle cx="245.59" cy="1343.07" r="6.4"/><circle cx="239.29" cy="1355.67" r="6.4"/><circle cx="232.99" cy="1365.12" r="6.4"/><circle cx="223.54" cy="1371.42" r="6.4"/><circle cx="217.24" cy="1377.72" r="6.4"/><circle cx="210.94" cy="1384.02" r="6.4"/>
</g>
<path d="M189.33 1404.35L256.42 1359.19L327.83 1321.25L318.77 1306.15L251.68 1351.31L180.27 1389.25Z" fill="#999" fill-opacity="0.36"/>
<line x1="184.8" y1="1396.8" x2="323.3" y2="1313.7" stroke="#000" stroke-width="8"/>
</g>
<g clip-path="url(#clb21)">
<g fill="#E8A317" fill-opacity="0.85" stroke="#150f05" stroke-opacity="0.9" stroke-width="2.7">
<circle cx="382.39" cy="1358.62" r="6.4"/><circle cx="396" cy="1349.38" r="6.4"/><circle cx="374.18" cy="1348.41" r="6.4"/><circle cx="415.1" cy="1326.73" r="6.4"/><circle cx="410.24" cy="1334.22" r="6.4"/><circle cx="390.99" cy="1392.55" r="6.4"/><circle cx="481.46" cy="1331.98" r="6.4"/><circle cx="394.13" cy="1366.35" r="6.4"/><circle cx="374.08" cy="1375.71" r="6.4"/><circle cx="429.25" cy="1369.75" r="6.4"/><circle cx="376.76" cy="1357.63" r="6.4"/><circle cx="358.98" cy="1420.5" r="6.4"/><circle cx="421.07" cy="1346.32" r="6.4"/><circle cx="360.74" cy="1385.02" r="6.4"/><circle cx="387.87" cy="1363.57" r="6.4"/><circle cx="422.15" cy="1364.63" r="6.4"/><circle cx="375.34" cy="1400.28" r="6.4"/><circle cx="411.41" cy="1372.88" r="6.4"/><circle cx="365.84" cy="1373.38" r="6.4"/><circle cx="429.35" cy="1363.81" r="6.4"/><circle cx="441.74" cy="1371.23" r="6.4"/><circle cx="398.06" cy="1371" r="6.4"/><circle cx="378.39" cy="1384.37" r="6.4"/><circle cx="373.68" cy="1360.03" r="6.4"/><circle cx="389.38" cy="1356.76" r="6.4"/><circle cx="444.13" cy="1320.18" r="6.4"/><circle cx="374.02" cy="1371.67" r="6.4"/><circle cx="361.22" cy="1392.95" r="6.4"/><circle cx="359.12" cy="1415.61" r="6.4"/><circle cx="481.79" cy="1345.5" r="6.4"/><circle cx="358.98" cy="1361.97" r="6.4"/><circle cx="358.98" cy="1371.42" r="6.4"/><circle cx="358.98" cy="1380.87" r="6.4"/><circle cx="358.98" cy="1390.31" r="6.4"/><circle cx="358.98" cy="1399.76" r="6.4"/><circle cx="358.98" cy="1407.64" r="6.4"/><circle cx="358.98" cy="1413.94" r="6.4"/><circle cx="360.55" cy="1417.09" r="6.4"/><circle cx="363.7" cy="1352.52" r="6.4"/><circle cx="366.85" cy="1358.82" r="6.4"/><circle cx="365.28" cy="1377.72" r="6.4"/><circle cx="368.43" cy="1387.17" r="6.4"/><circle cx="371.57" cy="1336.77" r="6.4"/><circle cx="376.3" cy="1335.2" r="6.4"/><circle cx="374.72" cy="1361.97" r="6.4"/><circle cx="377.87" cy="1415.51" r="6.4"/><circle cx="382.6" cy="1352.52" r="6.4"/><circle cx="384.17" cy="1393.46" r="6.4"/><circle cx="385.75" cy="1361.97" r="6.4"/><circle cx="390.47" cy="1336.77" r="6.4"/><circle cx="393.62" cy="1321.02" r="6.4"/><circle cx="396.77" cy="1358.82" r="6.4"/><circle cx="404.65" cy="1382.44" r="6.4"/><circle cx="412.52" cy="1371.42" r="6.4"/><circle cx="414.09" cy="1335.2" r="6.4"/><circle cx="418.82" cy="1336.77" r="6.4"/><circle cx="421.97" cy="1313.15" r="6.4"/><circle cx="426.69" cy="1317.87" r="6.4"/><circle cx="428.27" cy="1379.29" r="6.4"/><circle cx="429.84" cy="1363.54" r="6.4"/><circle cx="431.42" cy="1336.77" r="6.4"/><circle cx="437.72" cy="1328.9" r="6.4"/><circle cx="439.29" cy="1302.13" r="6.4"/><circle cx="442.44" cy="1302.13" r="6.4"/><circle cx="447.17" cy="1317.87" r="6.4"/><circle cx="448.74" cy="1371.42" r="6.4"/><circle cx="450.31" cy="1350.94" r="6.4"/><circle cx="461.34" cy="1341.5" r="6.4"/><circle cx="466.06" cy="1324.17" r="6.4"/><circle cx="477.09" cy="1341.5" r="6.4"/><circle cx="481.81" cy="1291.1" r="6.4"/><circle cx="482.44" cy="1368.9" r="6.4"/><circle cx="488.11" cy="1341.5" r="6.4"/><circle cx="495.98" cy="1321.02" r="6.4"/><circle cx="497.56" cy="1350.94" r="6.4"/><circle cx="409.37" cy="1330.47" r="6.4"/><circle cx="403.07" cy="1361.97" r="6.4"/><circle cx="390.47" cy="1361.97" r="6.4"/><circle cx="377.87" cy="1371.42" r="6.4"/><circle cx="371.57" cy="1380.87" r="6.4"/><circle cx="384.17" cy="1399.76" r="6.4"/>
</g>
<path d="M363.97 1397.38L431.49 1352.66L503.27 1315.18L494.33 1300.02L426.81 1344.74L355.03 1382.22Z" fill="#999" fill-opacity="0.36"/>
<line x1="359.5" y1="1389.8" x2="498.8" y2="1307.6" stroke="#000" stroke-width="8"/>
</g>
<g clip-path="url(#clb30)">
<g fill="#E8A317" fill-opacity="0.85" stroke="#150f05" stroke-opacity="0.9" stroke-width="2.7">
<circle cx="264.61" cy="1535.66" r="6.4"/><circle cx="289.03" cy="1531.69" r="6.4"/><circle cx="262.59" cy="1520.97" r="6.4"/><circle cx="260.19" cy="1520" r="6.4"/><circle cx="294.14" cy="1533.08" r="6.4"/><circle cx="259.5" cy="1518.15" r="6.4"/><circle cx="268.25" cy="1513.91" r="6.4"/><circle cx="200.39" cy="1577.96" r="6.4"/><circle cx="216.81" cy="1538.71" r="6.4"/><circle cx="184.17" cy="1564.62" r="6.4"/><circle cx="223.43" cy="1570.34" r="6.4"/><circle cx="274.04" cy="1531.87" r="6.4"/><circle cx="252.09" cy="1559.41" r="6.4"/><circle cx="251.44" cy="1518.75" r="6.4"/><circle cx="316.26" cy="1485.87" r="6.4"/><circle cx="268.84" cy="1546.93" r="6.4"/><circle cx="256.36" cy="1543.42" r="6.4"/><circle cx="276.02" cy="1545.67" r="6.4"/><circle cx="245" cy="1523.35" r="6.4"/><circle cx="255.8" cy="1514.3" r="6.4"/><circle cx="251.6" cy="1514.31" r="6.4"/><circle cx="268.25" cy="1533.72" r="6.4"/><circle cx="308.8" cy="1522.02" r="6.4"/><circle cx="265.22" cy="1534.65" r="6.4"/><circle cx="272.82" cy="1535.31" r="6.4"/><circle cx="270.71" cy="1510.45" r="6.4"/><circle cx="251.27" cy="1560.3" r="6.4"/><circle cx="310.73" cy="1505.72" r="6.4"/><circle cx="283.78" cy="1510.15" r="6.4"/><circle cx="242.27" cy="1520.92" r="6.4"/><circle cx="184.17" cy="1519.45" r="6.4"/><circle cx="184.17" cy="1547.8" r="6.4"/><circle cx="184.17" cy="1554.09" r="6.4"/><circle cx="184.17" cy="1560.39" r="6.4"/><circle cx="184.17" cy="1566.69" r="6.4"/><circle cx="184.17" cy="1572.99" r="6.4"/><circle cx="184.17" cy="1579.29" r="6.4"/><circle cx="184.17" cy="1582.44" r="6.4"/><circle cx="206.22" cy="1544.65" r="6.4"/><circle cx="207.8" cy="1568.27" r="6.4"/><circle cx="214.09" cy="1487.32" r="6.4"/><circle cx="215.67" cy="1544.65" r="6.4"/><circle cx="218.82" cy="1563.54" r="6.4"/><circle cx="223.54" cy="1547.8" r="6.4"/><circle cx="228.27" cy="1549.37" r="6.4"/><circle cx="234.57" cy="1569.84" r="6.4"/><circle cx="237.72" cy="1557.24" r="6.4"/><circle cx="240.87" cy="1525.75" r="6.4"/><circle cx="244.02" cy="1517.87" r="6.4"/><circle cx="245.59" cy="1555.67" r="6.4"/><circle cx="250.31" cy="1544.65" r="6.4"/><circle cx="251.89" cy="1491.1" r="6.4"/><circle cx="255.04" cy="1563.54" r="6.4"/><circle cx="258.19" cy="1519.45" r="6.4"/><circle cx="259.76" cy="1554.09" r="6.4"/><circle cx="262.91" cy="1516.3" r="6.4"/><circle cx="264.49" cy="1541.5" r="6.4"/><circle cx="267.64" cy="1572.99" r="6.4"/><circle cx="270.79" cy="1508.43" r="6.4"/><circle cx="273.94" cy="1528.9" r="6.4"/><circle cx="277.09" cy="1538.35" r="6.4"/><circle cx="278.66" cy="1505.28" r="6.4"/><circle cx="281.81" cy="1516.3" r="6.4"/><circle cx="283.39" cy="1550.94" r="6.4"/><circle cx="286.54" cy="1510" r="6.4"/><circle cx="289.69" cy="1528.9" r="6.4"/><circle cx="292.83" cy="1510" r="6.4"/><circle cx="295.98" cy="1522.6" r="6.4"/><circle cx="299.13" cy="1555.67" r="6.4"/><circle cx="302.28" cy="1516.3" r="6.4"/><circle cx="303.86" cy="1522.6" r="6.4"/><circle cx="306.06" cy="1533.62" r="6.4"/><circle cx="308.58" cy="1561.97" r="6.4"/><circle cx="308.58" cy="1506.85" r="6.4"/><circle cx="310.16" cy="1486.38" r="6.4"/><circle cx="297.56" cy="1451.73" r="6.4"/><circle cx="308.58" cy="1453.31" r="6.4"/><circle cx="322.76" cy="1470" r="6.4"/><circle cx="232.99" cy="1550.94" r="6.4"/><circle cx="226.69" cy="1560.39" r="6.4"/>
</g>
<path d="M188.36 1574.55L255.91 1540.06L326.86 1513.25L319.74 1497.15L252.19 1531.64L181.24 1558.45Z" fill="#999" fill-opacity="0.36"/>
<line x1="184.8" y1="1566.5" x2="323.3" y2="1505.2" stroke="#000" stroke-width="8"/>
</g>
<g clip-path="url(#clb31)">
<g fill="#E8A317" fill-opacity="0.85" stroke="#150f05" stroke-opacity="0.9" stroke-width="2.7">
<circle cx="483.1" cy="1469.85" r="6.4"/><circle cx="488.16" cy="1473.98" r="6.4"/><circle cx="461.91" cy="1523.34" r="6.4"/><circle cx="437.36" cy="1502.53" r="6.4"/><circle cx="432.76" cy="1513.55" r="6.4"/><circle cx="427.79" cy="1504.58" r="6.4"/><circle cx="494.56" cy="1514.17" r="6.4"/><circle cx="373.95" cy="1561.88" r="6.4"/><circle cx="405.87" cy="1553.92" r="6.4"/><circle cx="360.44" cy="1543.65" r="6.4"/><circle cx="358.98" cy="1540.95" r="6.4"/><circle cx="416.04" cy="1549" r="6.4"/><circle cx="432.5" cy="1555.56" r="6.4"/><circle cx="358.98" cy="1573.78" r="6.4"/><circle cx="407.26" cy="1552.87" r="6.4"/><circle cx="360.25" cy="1560.39" r="6.4"/><circle cx="383.7" cy="1570.34" r="6.4"/><circle cx="446.63" cy="1510.47" r="6.4"/><circle cx="445.15" cy="1506.64" r="6.4"/><circle cx="358.98" cy="1562.42" r="6.4"/><circle cx="361.6" cy="1566.66" r="6.4"/><circle cx="412.51" cy="1549.29" r="6.4"/><circle cx="364.7" cy="1561.98" r="6.4"/><circle cx="370.62" cy="1545.91" r="6.4"/><circle cx="420.27" cy="1517.58" r="6.4"/><circle cx="360.25" cy="1542.98" r="6.4"/><circle cx="368.94" cy="1531.98" r="6.4"/><circle cx="390.74" cy="1575.24" r="6.4"/><circle cx="386.64" cy="1572.42" r="6.4"/><circle cx="386.43" cy="1540.66" r="6.4"/><circle cx="358.98" cy="1544.65" r="6.4"/><circle cx="358.98" cy="1550.94" r="6.4"/><circle cx="358.98" cy="1557.24" r="6.4"/><circle cx="358.98" cy="1563.54" r="6.4"/><circle cx="358.98" cy="1569.84" r="6.4"/><circle cx="358.98" cy="1576.14" r="6.4"/><circle cx="358.98" cy="1580.87" r="6.4"/><circle cx="363.7" cy="1522.6" r="6.4"/><circle cx="365.28" cy="1550.94" r="6.4"/><circle cx="374.72" cy="1486.38" r="6.4"/><circle cx="376.3" cy="1528.9" r="6.4"/><circle cx="382.6" cy="1522.6" r="6.4"/><circle cx="371.57" cy="1572.99" r="6.4"/><circle cx="377.87" cy="1557.24" r="6.4"/><circle cx="384.17" cy="1547.8" r="6.4"/><circle cx="388.9" cy="1572.99" r="6.4"/><circle cx="390.47" cy="1543.07" r="6.4"/><circle cx="396.77" cy="1563.54" r="6.4"/><circle cx="401.5" cy="1554.09" r="6.4"/><circle cx="406.22" cy="1491.1" r="6.4"/><circle cx="409.37" cy="1517.87" r="6.4"/><circle cx="414.09" cy="1563.54" r="6.4"/><circle cx="415.67" cy="1547.8" r="6.4"/><circle cx="418.82" cy="1519.45" r="6.4"/><circle cx="420.39" cy="1506.85" r="6.4"/><circle cx="425.12" cy="1544.65" r="6.4"/><circle cx="428.27" cy="1555.67" r="6.4"/><circle cx="429.84" cy="1510" r="6.4"/><circle cx="432.99" cy="1547.8" r="6.4"/><circle cx="437.72" cy="1511.57" r="6.4"/><circle cx="439.29" cy="1516.3" r="6.4"/><circle cx="442.44" cy="1538.35" r="6.4"/><circle cx="447.17" cy="1510" r="6.4"/><circle cx="447.17" cy="1561.97" r="6.4"/><circle cx="449.69" cy="1470" r="6.4"/><circle cx="461.34" cy="1522.6" r="6.4"/><circle cx="467.64" cy="1451.73" r="6.4"/><circle cx="477.09" cy="1517.87" r="6.4"/><circle cx="481.81" cy="1453.31" r="6.4"/><circle cx="482.44" cy="1486.38" r="6.4"/><circle cx="488.11" cy="1532.05" r="6.4"/><circle cx="495.98" cy="1511.57" r="6.4"/><circle cx="497.56" cy="1510" r="6.4"/><circle cx="371.57" cy="1544.65" r="6.4"/><circle cx="396.77" cy="1538.35" r="6.4"/>
</g>
<path d="M363.28 1571.15L431.13 1534.2L502.58 1504.85L495.02 1488.95L427.17 1525.9L355.72 1555.25Z" fill="#999" fill-opacity="0.36"/>
<line x1="359.5" y1="1563.2" x2="498.8" y2="1496.9" stroke="#000" stroke-width="8"/>
</g>
<g clip-path="url(#clb32)">
<g fill="#E8A317" fill-opacity="0.85" stroke="#150f05" stroke-opacity="0.9" stroke-width="2.7">
<circle cx="607.65" cy="1526.58" r="6.4"/><circle cx="544.26" cy="1566.51" r="6.4"/><circle cx="600.25" cy="1512.27" r="6.4"/><circle cx="599.76" cy="1541.83" r="6.4"/><circle cx="543.81" cy="1579.32" r="6.4"/><circle cx="585.37" cy="1549.03" r="6.4"/><circle cx="616.25" cy="1518.59" r="6.4"/><circle cx="544.74" cy="1540.95" r="6.4"/><circle cx="590.43" cy="1533.29" r="6.4"/><circle cx="600.47" cy="1558.2" r="6.4"/><circle cx="572.39" cy="1546.37" r="6.4"/><circle cx="644.2" cy="1494.14" r="6.4"/><circle cx="561.85" cy="1540.34" r="6.4"/><circle cx="640.2" cy="1515.8" r="6.4"/><circle cx="677.04" cy="1508.41" r="6.4"/><circle cx="532.65" cy="1553.19" r="6.4"/><circle cx="582.37" cy="1533.8" r="6.4"/><circle cx="630.18" cy="1527.26" r="6.4"/><circle cx="661.09" cy="1519.84" r="6.4"/><circle cx="532.2" cy="1571.66" r="6.4"/><circle cx="584.79" cy="1555.25" r="6.4"/><circle cx="608.84" cy="1546.02" r="6.4"/><circle cx="554.72" cy="1542.05" r="6.4"/><circle cx="545.14" cy="1554.6" r="6.4"/><circle cx="535.68" cy="1548.56" r="6.4"/><circle cx="532.2" cy="1550.75" r="6.4"/><circle cx="607.04" cy="1539.8" r="6.4"/><circle cx="532.2" cy="1565.16" r="6.4"/><circle cx="585.38" cy="1523.75" r="6.4"/><circle cx="600.19" cy="1507.58" r="6.4"/><circle cx="532.2" cy="1550.94" r="6.4"/><circle cx="533.78" cy="1557.24" r="6.4"/><circle cx="535.35" cy="1563.54" r="6.4"/><circle cx="536.93" cy="1572.99" r="6.4"/><circle cx="532.2" cy="1577.72" r="6.4"/><circle cx="540.08" cy="1560.39" r="6.4"/><circle cx="544.8" cy="1576.14" r="6.4"/><circle cx="552.68" cy="1544.65" r="6.4"/><circle cx="555.83" cy="1557.24" r="6.4"/><circle cx="560.55" cy="1572.99" r="6.4"/><circle cx="563.7" cy="1550.94" r="6.4"/><circle cx="570" cy="1579.29" r="6.4"/><circle cx="571.57" cy="1491.1" r="6.4"/><circle cx="573.15" cy="1563.54" r="6.4"/><circle cx="576.3" cy="1525.75" r="6.4"/><circle cx="581.02" cy="1544.65" r="6.4"/><circle cx="582.6" cy="1511.57" r="6.4"/><circle cx="585.75" cy="1486.38" r="6.4"/><circle cx="588.9" cy="1579.29" r="6.4"/><circle cx="593.62" cy="1486.38" r="6.4"/><circle cx="592.05" cy="1557.24" r="6.4"/><circle cx="595.2" cy="1538.35" r="6.4"/><circle cx="596.77" cy="1517.87" r="6.4"/><circle cx="601.5" cy="1563.54" r="6.4"/><circle cx="606.22" cy="1470" r="6.4"/><circle cx="606.22" cy="1511.57" r="6.4"/><circle cx="610.94" cy="1546.22" r="6.4"/><circle cx="614.09" cy="1454.88" r="6.4"/><circle cx="615.67" cy="1519.45" r="6.4"/><circle cx="618.82" cy="1563.54" r="6.4"/><circle cx="623.54" cy="1544.65" r="6.4"/><circle cx="626.69" cy="1519.45" r="6.4"/><circle cx="628.27" cy="1532.05" r="6.4"/><circle cx="632.99" cy="1506.85" r="6.4"/><circle cx="636.14" cy="1451.73" r="6.4"/><circle cx="636.14" cy="1557.24" r="6.4"/><circle cx="640.87" cy="1555.67" r="6.4"/><circle cx="642.44" cy="1513.15" r="6.4"/><circle cx="645.59" cy="1525.75" r="6.4"/><circle cx="658.19" cy="1519.45" r="6.4"/><circle cx="659.76" cy="1511.57" r="6.4"/><circle cx="672.36" cy="1507.8" r="6.4"/><circle cx="547.95" cy="1566.69" r="6.4"/><circle cx="554.25" cy="1572.99" r="6.4"/><circle cx="566.85" cy="1566.69" r="6.4"/><circle cx="579.45" cy="1572.99" r="6.4"/><circle cx="598.35" cy="1572.99" r="6.4"/><circle cx="607.8" cy="1566.69" r="6.4"/>
</g>
<path d="M536.83 1576.6L605.54 1542.94L677.53 1517L670.67 1500.8L601.96 1534.46L529.97 1560.4Z" fill="#999" fill-opacity="0.36"/>
<line x1="533.4" y1="1568.5" x2="674.1" y2="1508.9" stroke="#000" stroke-width="8"/>
</g>
<line x1="166" y1="1092.7" x2="177.3" y2="1092.7" stroke="#333333" stroke-width="4.2"/>
<text x="157.4" y="1103.2" font-size="29.2" text-anchor="end" fill="#4D4D4D" stroke="#4D4D4D" stroke-width="0.35">0</text>
<line x1="166" y1="1057.47" x2="177.3" y2="1057.47" stroke="#333333" stroke-width="4.2"/>
<text x="157.4" y="1067.97" font-size="29.2" text-anchor="end" fill="#4D4D4D" stroke="#4D4D4D" stroke-width="0.35">10</text>
<line x1="166" y1="1022.24" x2="177.3" y2="1022.24" stroke="#333333" stroke-width="4.2"/>
<text x="157.4" y="1032.74" font-size="29.2" text-anchor="end" fill="#4D4D4D" stroke="#4D4D4D" stroke-width="0.35">20</text>
<line x1="166" y1="987.01" x2="177.3" y2="987.01" stroke="#333333" stroke-width="4.2"/>
<text x="157.4" y="997.51" font-size="29.2" text-anchor="end" fill="#4D4D4D" stroke="#4D4D4D" stroke-width="0.35">30</text>
<line x1="166" y1="1255.2" x2="177.3" y2="1255.2" stroke="#333333" stroke-width="4.2"/>
<text x="157.4" y="1265.7" font-size="29.2" text-anchor="end" fill="#4D4D4D" stroke="#4D4D4D" stroke-width="0.35">0</text>
<line x1="166" y1="1230.16" x2="177.3" y2="1230.16" stroke="#333333" stroke-width="4.2"/>
<text x="157.4" y="1240.66" font-size="29.2" text-anchor="end" fill="#4D4D4D" stroke="#4D4D4D" stroke-width="0.35">1</text>
<line x1="166" y1="1205.12" x2="177.3" y2="1205.12" stroke="#333333" stroke-width="4.2"/>
<text x="157.4" y="1215.62" font-size="29.2" text-anchor="end" fill="#4D4D4D" stroke="#4D4D4D" stroke-width="0.35">2</text>
<line x1="166" y1="1180.08" x2="177.3" y2="1180.08" stroke="#333333" stroke-width="4.2"/>
<text x="157.4" y="1190.58" font-size="29.2" text-anchor="end" fill="#4D4D4D" stroke="#4D4D4D" stroke-width="0.35">3</text>
<line x1="166" y1="1155.04" x2="177.3" y2="1155.04" stroke="#333333" stroke-width="4.2"/>
<text x="157.4" y="1165.54" font-size="29.2" text-anchor="end" fill="#4D4D4D" stroke="#4D4D4D" stroke-width="0.35">4</text>
<line x1="166" y1="1130" x2="177.3" y2="1130" stroke="#333333" stroke-width="4.2"/>
<text x="157.4" y="1140.5" font-size="29.2" text-anchor="end" fill="#4D4D4D" stroke="#4D4D4D" stroke-width="0.35">5</text>
<line x1="166" y1="1422.4" x2="177.3" y2="1422.4" stroke="#333333" stroke-width="4.2"/>
<text x="157.4" y="1432.9" font-size="29.2" text-anchor="end" fill="#4D4D4D" stroke="#4D4D4D" stroke-width="0.35">0</text>
<line x1="166" y1="1390.7" x2="177.3" y2="1390.7" stroke="#333333" stroke-width="4.2"/>
<text x="157.4" y="1401.2" font-size="29.2" text-anchor="end" fill="#4D4D4D" stroke="#4D4D4D" stroke-width="0.35">1</text>
<line x1="166" y1="1359" x2="177.3" y2="1359" stroke="#333333" stroke-width="4.2"/>
<text x="157.4" y="1369.5" font-size="29.2" text-anchor="end" fill="#4D4D4D" stroke="#4D4D4D" stroke-width="0.35">2</text>
<line x1="166" y1="1327.3" x2="177.3" y2="1327.3" stroke="#333333" stroke-width="4.2"/>
<text x="157.4" y="1337.8" font-size="29.2" text-anchor="end" fill="#4D4D4D" stroke="#4D4D4D" stroke-width="0.35">3</text>
<line x1="166" y1="1295.6" x2="177.3" y2="1295.6" stroke="#333333" stroke-width="4.2"/>
<text x="157.4" y="1306.1" font-size="29.2" text-anchor="end" fill="#4D4D4D" stroke="#4D4D4D" stroke-width="0.35">4</text>
<line x1="166" y1="1583" x2="177.3" y2="1583" stroke="#333333" stroke-width="4.2"/>
<text x="157.4" y="1593.5" font-size="29.2" text-anchor="end" fill="#4D4D4D" stroke="#4D4D4D" stroke-width="0.35">0</text>
<line x1="166" y1="1551.4" x2="177.3" y2="1551.4" stroke="#333333" stroke-width="4.2"/>
<text x="157.4" y="1561.9" font-size="29.2" text-anchor="end" fill="#4D4D4D" stroke="#4D4D4D" stroke-width="0.35">1</text>
<line x1="166" y1="1519.8" x2="177.3" y2="1519.8" stroke="#333333" stroke-width="4.2"/>
<text x="157.4" y="1530.3" font-size="29.2" text-anchor="end" fill="#4D4D4D" stroke="#4D4D4D" stroke-width="0.35">2</text>
<line x1="166" y1="1488.2" x2="177.3" y2="1488.2" stroke="#333333" stroke-width="4.2"/>
<text x="157.4" y="1498.7" font-size="29.2" text-anchor="end" fill="#4D4D4D" stroke="#4D4D4D" stroke-width="0.35">3</text>
<line x1="166" y1="1456.6" x2="177.3" y2="1456.6" stroke="#333333" stroke-width="4.2"/>
<text x="157.4" y="1467.1" font-size="29.2" text-anchor="end" fill="#4D4D4D" stroke="#4D4D4D" stroke-width="0.35">4</text>
<line x1="177.9" y1="1585.5" x2="177.9" y2="1596.5" stroke="#333333" stroke-width="4.2"/>
<text x="177.9" y="1626" font-size="29" text-anchor="middle" fill="#4D4D4D" stroke="#4D4D4D" stroke-width="0.35">2</text>
<line x1="210" y1="1585.5" x2="210" y2="1596.5" stroke="#333333" stroke-width="4.2"/>
<text x="210" y="1626" font-size="29" text-anchor="middle" fill="#4D4D4D" stroke="#4D4D4D" stroke-width="0.35">4</text>
<line x1="242.1" y1="1585.5" x2="242.1" y2="1596.5" stroke="#333333" stroke-width="4.2"/>
<text x="242.1" y="1626" font-size="29" text-anchor="middle" fill="#4D4D4D" stroke="#4D4D4D" stroke-width="0.35">6</text>
<line x1="274.2" y1="1585.5" x2="274.2" y2="1596.5" stroke="#333333" stroke-width="4.2"/>
<text x="274.2" y="1626" font-size="29" text-anchor="middle" fill="#4D4D4D" stroke="#4D4D4D" stroke-width="0.35">8</text>
<line x1="306.3" y1="1585.5" x2="306.3" y2="1596.5" stroke="#333333" stroke-width="4.2"/>
<text x="306.3" y="1626" font-size="29" text-anchor="middle" fill="#4D4D4D" stroke="#4D4D4D" stroke-width="0.35">10</text>
<line x1="359" y1="1585.5" x2="359" y2="1596.5" stroke="#333333" stroke-width="4.2"/>
<text x="359" y="1626" font-size="29" text-anchor="middle" fill="#4D4D4D" stroke="#4D4D4D" stroke-width="0.35">0</text>
<line x1="386.4" y1="1585.5" x2="386.4" y2="1596.5" stroke="#333333" stroke-width="4.2"/>
<text x="386.4" y="1626" font-size="29" text-anchor="middle" fill="#4D4D4D" stroke="#4D4D4D" stroke-width="0.35">1</text>
<line x1="413.8" y1="1585.5" x2="413.8" y2="1596.5" stroke="#333333" stroke-width="4.2"/>
<text x="413.8" y="1626" font-size="29" text-anchor="middle" fill="#4D4D4D" stroke="#4D4D4D" stroke-width="0.35">2</text>
<line x1="441.2" y1="1585.5" x2="441.2" y2="1596.5" stroke="#333333" stroke-width="4.2"/>
<text x="441.2" y="1626" font-size="29" text-anchor="middle" fill="#4D4D4D" stroke="#4D4D4D" stroke-width="0.35">3</text>
<line x1="468.6" y1="1585.5" x2="468.6" y2="1596.5" stroke="#333333" stroke-width="4.2"/>
<text x="468.6" y="1626" font-size="29" text-anchor="middle" fill="#4D4D4D" stroke="#4D4D4D" stroke-width="0.35">4</text>
<line x1="496" y1="1585.5" x2="496" y2="1596.5" stroke="#333333" stroke-width="4.2"/>
<text x="496" y="1626" font-size="29" text-anchor="middle" fill="#4D4D4D" stroke="#4D4D4D" stroke-width="0.35">5</text>
<line x1="528.7" y1="1585.5" x2="528.7" y2="1596.5" stroke="#333333" stroke-width="4.2"/>
<text x="528.7" y="1626" font-size="29" text-anchor="middle" fill="#4D4D4D" stroke="#4D4D4D" stroke-width="0.35">0</text>
<line x1="563.15" y1="1585.5" x2="563.15" y2="1596.5" stroke="#333333" stroke-width="4.2"/>
<text x="563.15" y="1626" font-size="29" text-anchor="middle" fill="#4D4D4D" stroke="#4D4D4D" stroke-width="0.35">1</text>
<line x1="597.6" y1="1585.5" x2="597.6" y2="1596.5" stroke="#333333" stroke-width="4.2"/>
<text x="597.6" y="1626" font-size="29" text-anchor="middle" fill="#4D4D4D" stroke="#4D4D4D" stroke-width="0.35">2</text>
<line x1="632.05" y1="1585.5" x2="632.05" y2="1596.5" stroke="#333333" stroke-width="4.2"/>
<text x="632.05" y="1626" font-size="29" text-anchor="middle" fill="#4D4D4D" stroke="#4D4D4D" stroke-width="0.35">3</text>
<line x1="666.5" y1="1585.5" x2="666.5" y2="1596.5" stroke="#333333" stroke-width="4.2"/>
<text x="666.5" y="1626" font-size="29" text-anchor="middle" fill="#4D4D4D" stroke="#4D4D4D" stroke-width="0.35">4</text>
<line x1="706.7" y1="1585.5" x2="706.7" y2="1596.5" stroke="#333333" stroke-width="4.2"/>
<text x="706.7" y="1626" font-size="29" text-anchor="middle" fill="#4D4D4D" stroke="#4D4D4D" stroke-width="0.35">0</text>
<line x1="740.1" y1="1585.5" x2="740.1" y2="1596.5" stroke="#333333" stroke-width="4.2"/>
<text x="740.1" y="1626" font-size="29" text-anchor="middle" fill="#4D4D4D" stroke="#4D4D4D" stroke-width="0.35">1</text>
<line x1="773.5" y1="1585.5" x2="773.5" y2="1596.5" stroke="#333333" stroke-width="4.2"/>
<text x="773.5" y="1626" font-size="29" text-anchor="middle" fill="#4D4D4D" stroke="#4D4D4D" stroke-width="0.35">2</text>
<line x1="806.9" y1="1585.5" x2="806.9" y2="1596.5" stroke="#333333" stroke-width="4.2"/>
<text x="806.9" y="1626" font-size="29" text-anchor="middle" fill="#4D4D4D" stroke="#4D4D4D" stroke-width="0.35">3</text>
<line x1="840.3" y1="1585.5" x2="840.3" y2="1596.5" stroke="#333333" stroke-width="4.2"/>
<text x="840.3" y="1626" font-size="29" text-anchor="middle" fill="#4D4D4D" stroke="#4D4D4D" stroke-width="0.35">4</text>
<text x="517.2" y="1669" font-size="36.85" text-anchor="middle" stroke="#000" stroke-width="0.3">Arbitrary Units (log1p transformed)</text>
<text x="106.8" y="1272.8" font-size="36.85" text-anchor="middle" stroke="#000" stroke-width="0.3" transform="rotate(-90 106.8 1272.8)">Arbitrary Units (log1p transformed)</text>
</g>
<g id="pc">
<defs>
<clipPath id="clc00"><rect x="1076.7" y="959.4" width="152.4" height="138.5"/></clipPath>
<clipPath id="clc01"><rect x="1251.5" y="959.4" width="152.4" height="138.5"/></clipPath>
<clipPath id="clc02"><rect x="1426.3" y="959.4" width="152.4" height="138.5"/></clipPath>
<clipPath id="clc03"><rect x="1601.1" y="959.4" width="152.4" height="138.5"/></clipPath>
<clipPath id="clc10"><rect x="1076.7" y="1120.8" width="152.4" height="138.5"/></clipPath>
<clipPath id="clc11"><rect x="1251.5" y="1120.8" width="152.4" height="138.5"/></clipPath>
<clipPath id="clc12"><rect x="1426.3" y="1120.8" width="152.4" height="138.5"/></clipPath>
<clipPath id="clc13"><rect x="1601.1" y="1120.8" width="152.4" height="138.5"/></clipPath>
<clipPath id="clc20"><rect x="1076.7" y="1282.2" width="152.4" height="138.5"/></clipPath>
<clipPath id="clc21"><rect x="1251.5" y="1282.2" width="152.4" height="138.5"/></clipPath>
<clipPath id="clc22"><rect x="1426.3" y="1282.2" width="152.4" height="138.5"/></clipPath>
<clipPath id="clc23"><rect x="1601.1" y="1282.2" width="152.4" height="138.5"/></clipPath>
<clipPath id="clc30"><rect x="1076.7" y="1443.2" width="152.4" height="138.5"/></clipPath>
<clipPath id="clc31"><rect x="1251.5" y="1443.2" width="152.4" height="138.5"/></clipPath>
<clipPath id="clc32"><rect x="1426.3" y="1443.2" width="152.4" height="138.5"/></clipPath>
<clipPath id="clc33"><rect x="1601.1" y="1443.2" width="152.4" height="138.5"/></clipPath>
<clipPath id="csc0"><rect x="1753.5" y="959.4" width="63" height="138.5"/></clipPath>
<clipPath id="csc1"><rect x="1753.5" y="1120.8" width="63" height="138.5"/></clipPath>
<clipPath id="csc2"><rect x="1753.5" y="1282.2" width="63" height="138.5"/></clipPath>
<clipPath id="csc3"><rect x="1753.5" y="1443.2" width="63" height="138.5"/></clipPath>
</defs>
<text x="1076.3" y="867.5" font-size="36.8" stroke="#000" stroke-width="0.3">ID50 and S1+S2 Ig classes in weeks 1-2</text>
<text x="961.8" y="869" font-size="82.5" font-weight="bold">c</text>
<rect x="1076.7" y="897.6" width="152.4" height="62.3" fill="#D9D9D9"/>
<text x="1152.9" y="938.6" font-size="28" text-anchor="middle" fill="#1A1A1A" stroke="#1A1A1A" stroke-width="0.3">ID50</text>
<rect x="1251.5" y="897.6" width="152.4" height="62.3" fill="#D9D9D9"/>
<text x="1327.7" y="938.6" font-size="28" text-anchor="middle" fill="#1A1A1A" stroke="#1A1A1A" stroke-width="0.3">S1+S2 IgG</text>
<rect x="1426.3" y="897.6" width="152.4" height="62.3" fill="#D9D9D9"/>
<text x="1502.5" y="938.6" font-size="28" text-anchor="middle" fill="#1A1A1A" stroke="#1A1A1A" stroke-width="0.3">S1+S2 IgM</text>
<rect x="1601.1" y="897.6" width="152.4" height="62.3" fill="#D9D9D9"/>
<text x="1677.3" y="938.6" font-size="28" text-anchor="middle" fill="#1A1A1A" stroke="#1A1A1A" stroke-width="0.3">S1+S2 IgA</text>
<rect x="1753.5" y="959.4" width="63" height="138.5" fill="#D9D9D9"/>
<g clip-path="url(#csc0)">
<text x="1774.8" y="1028.65" font-size="28" text-anchor="middle" fill="#1A1A1A" transform="rotate(90 1774.8 1028.65)" stroke="#1A1A1A" stroke-width="0.3">ID50</text>
</g>
<rect x="1753.5" y="1120.8" width="63" height="138.5" fill="#D9D9D9"/>
<g clip-path="url(#csc1)">
<text x="1774.8" y="1190.05" font-size="28" text-anchor="middle" fill="#1A1A1A" transform="rotate(90 1774.8 1190.05)" stroke="#1A1A1A" stroke-width="0.3">S1+S2 IgG</text>
</g>
<rect x="1753.5" y="1282.2" width="63" height="138.5" fill="#D9D9D9"/>
<g clip-path="url(#csc2)">
<text x="1774.8" y="1351.45" font-size="28" text-anchor="middle" fill="#1A1A1A" transform="rotate(90 1774.8 1351.45)" stroke="#1A1A1A" stroke-width="0.3">S1+S2 IgM</text>
</g>
<rect x="1753.5" y="1443.2" width="63" height="138.5" fill="#D9D9D9"/>
<g clip-path="url(#csc3)">
<text x="1774.8" y="1512.45" font-size="28" text-anchor="middle" fill="#1A1A1A" transform="rotate(90 1774.8 1512.45)" stroke="#1A1A1A" stroke-width="0.3">S1+S2 IgA</text>
</g>
<rect x="1076.7" y="959.4" width="152.4" height="138.5" fill="#EBEBEB"/>
<line x1="1093.36" y1="959.4" x2="1093.36" y2="1097.9" stroke="#fff" stroke-width="2.3"/>
<line x1="1125.48" y1="959.4" x2="1125.48" y2="1097.9" stroke="#fff" stroke-width="2.3"/>
<line x1="1157.6" y1="959.4" x2="1157.6" y2="1097.9" stroke="#fff" stroke-width="2.3"/>
<line x1="1189.72" y1="959.4" x2="1189.72" y2="1097.9" stroke="#fff" stroke-width="2.3"/>
<line x1="1221.84" y1="959.4" x2="1221.84" y2="1097.9" stroke="#fff" stroke-width="2.3"/>
<line x1="1076.7" y1="1073.9" x2="1229.1" y2="1073.9" stroke="#fff" stroke-width="2.3"/>
<line x1="1076.7" y1="1037.9" x2="1229.1" y2="1037.9" stroke="#fff" stroke-width="2.3"/>
<line x1="1076.7" y1="1001.9" x2="1229.1" y2="1001.9" stroke="#fff" stroke-width="2.3"/>
<line x1="1076.7" y1="965.9" x2="1229.1" y2="965.9" stroke="#fff" stroke-width="2.3"/>
<line x1="1077.3" y1="959.4" x2="1077.3" y2="1097.9" stroke="#fff" stroke-width="4.3"/>
<line x1="1109.42" y1="959.4" x2="1109.42" y2="1097.9" stroke="#fff" stroke-width="4.3"/>
<line x1="1141.54" y1="959.4" x2="1141.54" y2="1097.9" stroke="#fff" stroke-width="4.3"/>
<line x1="1173.66" y1="959.4" x2="1173.66" y2="1097.9" stroke="#fff" stroke-width="4.3"/>
<line x1="1205.78" y1="959.4" x2="1205.78" y2="1097.9" stroke="#fff" stroke-width="4.3"/>
<line x1="1076.7" y1="1091.9" x2="1229.1" y2="1091.9" stroke="#fff" stroke-width="4.3"/>
<line x1="1076.7" y1="1055.9" x2="1229.1" y2="1055.9" stroke="#fff" stroke-width="4.3"/>
<line x1="1076.7" y1="1019.9" x2="1229.1" y2="1019.9" stroke="#fff" stroke-width="4.3"/>
<line x1="1076.7" y1="983.9" x2="1229.1" y2="983.9" stroke="#fff" stroke-width="4.3"/>
<rect x="1252.5" y="960.4" width="150.4" height="136.5" fill="#fff" stroke="#EBEBEB" stroke-width="2.2"/>
<text x="1327.7" y="1016.7" font-size="34.8" text-anchor="middle" stroke="#000" stroke-width="0.4">Corr:</text>
<text x="1327.7" y="1066.7" font-size="34.8" text-anchor="middle" stroke="#000" stroke-width="0.4">0.830***</text>
<rect x="1427.3" y="960.4" width="150.4" height="136.5" fill="#fff" stroke="#EBEBEB" stroke-width="2.2"/>
<text x="1502.5" y="1016.7" font-size="34.8" text-anchor="middle" stroke="#000" stroke-width="0.4">Corr:</text>
<text x="1502.5" y="1066.7" font-size="34.8" text-anchor="middle" stroke="#000" stroke-width="0.4">0.755***</text>
<rect x="1602.1" y="960.4" width="150.4" height="136.5" fill="#fff" stroke="#EBEBEB" stroke-width="2.2"/>
<text x="1677.3" y="1016.7" font-size="34.8" text-anchor="middle" stroke="#000" stroke-width="0.4">Corr:</text>
<text x="1677.3" y="1066.7" font-size="34.8" text-anchor="middle" stroke="#000" stroke-width="0.4">0.738***</text>
<rect x="1076.7" y="1120.8" width="152.4" height="138.5" fill="#EBEBEB"/>
<line x1="1093.36" y1="1120.8" x2="1093.36" y2="1259.3" stroke="#fff" stroke-width="2.3"/>
<line x1="1125.48" y1="1120.8" x2="1125.48" y2="1259.3" stroke="#fff" stroke-width="2.3"/>
<line x1="1157.6" y1="1120.8" x2="1157.6" y2="1259.3" stroke="#fff" stroke-width="2.3"/>
<line x1="1189.72" y1="1120.8" x2="1189.72" y2="1259.3" stroke="#fff" stroke-width="2.3"/>
<line x1="1221.84" y1="1120.8" x2="1221.84" y2="1259.3" stroke="#fff" stroke-width="2.3"/>
<line x1="1076.7" y1="1230.6" x2="1229.1" y2="1230.6" stroke="#fff" stroke-width="2.3"/>
<line x1="1076.7" y1="1185.2" x2="1229.1" y2="1185.2" stroke="#fff" stroke-width="2.3"/>
<line x1="1076.7" y1="1139.8" x2="1229.1" y2="1139.8" stroke="#fff" stroke-width="2.3"/>
<line x1="1077.3" y1="1120.8" x2="1077.3" y2="1259.3" stroke="#fff" stroke-width="4.3"/>
<line x1="1109.42" y1="1120.8" x2="1109.42" y2="1259.3" stroke="#fff" stroke-width="4.3"/>
<line x1="1141.54" y1="1120.8" x2="1141.54" y2="1259.3" stroke="#fff" stroke-width="4.3"/>
<line x1="1173.66" y1="1120.8" x2="1173.66" y2="1259.3" stroke="#fff" stroke-width="4.3"/>
<line x1="1205.78" y1="1120.8" x2="1205.78" y2="1259.3" stroke="#fff" stroke-width="4.3"/>
<line x1="1076.7" y1="1253.3" x2="1229.1" y2="1253.3" stroke="#fff" stroke-width="4.3"/>
<line x1="1076.7" y1="1207.9" x2="1229.1" y2="1207.9" stroke="#fff" stroke-width="4.3"/>
<line x1="1076.7" y1="1162.5" x2="1229.1" y2="1162.5" stroke="#fff" stroke-width="4.3"/>
<rect x="1251.5" y="1120.8" width="152.4" height="138.5" fill="#EBEBEB"/>
<line x1="1283.2" y1="1120.8" x2="1283.2" y2="1259.3" stroke="#fff" stroke-width="2.3"/>
<line x1="1333.4" y1="1120.8" x2="1333.4" y2="1259.3" stroke="#fff" stroke-width="2.3"/>
<line x1="1383.6" y1="1120.8" x2="1383.6" y2="1259.3" stroke="#fff" stroke-width="2.3"/>
<line x1="1251.5" y1="1230.6" x2="1403.9" y2="1230.6" stroke="#fff" stroke-width="2.3"/>
<line x1="1251.5" y1="1185.2" x2="1403.9" y2="1185.2" stroke="#fff" stroke-width="2.3"/>
<line x1="1251.5" y1="1139.8" x2="1403.9" y2="1139.8" stroke="#fff" stroke-width="2.3"/>
<line x1="1258.1" y1="1120.8" x2="1258.1" y2="1259.3" stroke="#fff" stroke-width="4.3"/>
<line x1="1308.3" y1="1120.8" x2="1308.3" y2="1259.3" stroke="#fff" stroke-width="4.3"/>
<line x1="1358.5" y1="1120.8" x2="1358.5" y2="1259.3" stroke="#fff" stroke-width="4.3"/>
<line x1="1251.5" y1="1253.3" x2="1403.9" y2="1253.3" stroke="#fff" stroke-width="4.3"/>
<line x1="1251.5" y1="1207.9" x2="1403.9" y2="1207.9" stroke="#fff" stroke-width="4.3"/>
<line x1="1251.5" y1="1162.5" x2="1403.9" y2="1162.5" stroke="#fff" stroke-width="4.3"/>
<rect x="1427.3" y="1121.8" width="150.4" height="136.5" fill="#fff" stroke="#EBEBEB" stroke-width="2.2"/>
<text x="1502.5" y="1178.1" font-size="34.8" text-anchor="middle" stroke="#000" stroke-width="0.4">Corr:</text>
<text x="1502.5" y="1228.1" font-size="34.8" text-anchor="middle" stroke="#000" stroke-width="0.4">0.698***</text>
<rect x="1602.1" y="1121.8" width="150.4" height="136.5" fill="#fff" stroke="#EBEBEB" stroke-width="2.2"/>
<text x="1677.3" y="1178.1" font-size="34.8" text-anchor="middle" stroke="#000" stroke-width="0.4">Corr:</text>
<text x="1677.3" y="1228.1" font-size="34.8" text-anchor="middle" stroke="#000" stroke-width="0.4">0.738***</text>
<rect x="1076.7" y="1282.2" width="152.4" height="138.5" fill="#EBEBEB"/>
<line x1="1093.36" y1="1282.2" x2="1093.36" y2="1420.7" stroke="#fff" stroke-width="2.3"/>
<line x1="1125.48" y1="1282.2" x2="1125.48" y2="1420.7" stroke="#fff" stroke-width="2.3"/>
<line x1="1157.6" y1="1282.2" x2="1157.6" y2="1420.7" stroke="#fff" stroke-width="2.3"/>
<line x1="1189.72" y1="1282.2" x2="1189.72" y2="1420.7" stroke="#fff" stroke-width="2.3"/>
<line x1="1221.84" y1="1282.2" x2="1221.84" y2="1420.7" stroke="#fff" stroke-width="2.3"/>
<line x1="1076.7" y1="1401.55" x2="1229.1" y2="1401.55" stroke="#fff" stroke-width="2.3"/>
<line x1="1076.7" y1="1365.45" x2="1229.1" y2="1365.45" stroke="#fff" stroke-width="2.3"/>
<line x1="1076.7" y1="1329.35" x2="1229.1" y2="1329.35" stroke="#fff" stroke-width="2.3"/>
<line x1="1076.7" y1="1293.25" x2="1229.1" y2="1293.25" stroke="#fff" stroke-width="2.3"/>
<line x1="1077.3" y1="1282.2" x2="1077.3" y2="1420.7" stroke="#fff" stroke-width="4.3"/>
<line x1="1109.42" y1="1282.2" x2="1109.42" y2="1420.7" stroke="#fff" stroke-width="4.3"/>
<line x1="1141.54" y1="1282.2" x2="1141.54" y2="1420.7" stroke="#fff" stroke-width="4.3"/>
<line x1="1173.66" y1="1282.2" x2="1173.66" y2="1420.7" stroke="#fff" stroke-width="4.3"/>
<line x1="1205.78" y1="1282.2" x2="1205.78" y2="1420.7" stroke="#fff" stroke-width="4.3"/>
<line x1="1076.7" y1="1419.6" x2="1229.1" y2="1419.6" stroke="#fff" stroke-width="4.3"/>
<line x1="1076.7" y1="1383.5" x2="1229.1" y2="1383.5" stroke="#fff" stroke-width="4.3"/>
<line x1="1076.7" y1="1347.4" x2="1229.1" y2="1347.4" stroke="#fff" stroke-width="4.3"/>
<line x1="1076.7" y1="1311.3" x2="1229.1" y2="1311.3" stroke="#fff" stroke-width="4.3"/>
<rect x="1251.5" y="1282.2" width="152.4" height="138.5" fill="#EBEBEB"/>
<line x1="1283.2" y1="1282.2" x2="1283.2" y2="1420.7" stroke="#fff" stroke-width="2.3"/>
<line x1="1333.4" y1="1282.2" x2="1333.4" y2="1420.7" stroke="#fff" stroke-width="2.3"/>
<line x1="1383.6" y1="1282.2" x2="1383.6" y2="1420.7" stroke="#fff" stroke-width="2.3"/>
<line x1="1251.5" y1="1401.55" x2="1403.9" y2="1401.55" stroke="#fff" stroke-width="2.3"/>
<line x1="1251.5" y1="1365.45" x2="1403.9" y2="1365.45" stroke="#fff" stroke-width="2.3"/>
<line x1="1251.5" y1="1329.35" x2="1403.9" y2="1329.35" stroke="#fff" stroke-width="2.3"/>
<line x1="1251.5" y1="1293.25" x2="1403.9" y2="1293.25" stroke="#fff" stroke-width="2.3"/>
<line x1="1258.1" y1="1282.2" x2="1258.1" y2="1420.7" stroke="#fff" stroke-width="4.3"/>
<line x1="1308.3" y1="1282.2" x2="1308.3" y2="1420.7" stroke="#fff" stroke-width="4.3"/>
<line x1="1358.5" y1="1282.2" x2="1358.5" y2="1420.7" stroke="#fff" stroke-width="4.3"/>
<line x1="1251.5" y1="1419.6" x2="1403.9" y2="1419.6" stroke="#fff" stroke-width="4.3"/>
<line x1="1251.5" y1="1383.5" x2="1403.9" y2="1383.5" stroke="#fff" stroke-width="4.3"/>
<line x1="1251.5" y1="1347.4" x2="1403.9" y2="1347.4" stroke="#fff" stroke-width="4.3"/>
<line x1="1251.5" y1="1311.3" x2="1403.9" y2="1311.3" stroke="#fff" stroke-width="4.3"/>
<rect x="1426.3" y="1282.2" width="152.4" height="138.5" fill="#EBEBEB"/>
<line x1="1447.1" y1="1282.2" x2="1447.1" y2="1420.7" stroke="#fff" stroke-width="2.3"/>
<line x1="1486.9" y1="1282.2" x2="1486.9" y2="1420.7" stroke="#fff" stroke-width="2.3"/>
<line x1="1526.7" y1="1282.2" x2="1526.7" y2="1420.7" stroke="#fff" stroke-width="2.3"/>
<line x1="1566.5" y1="1282.2" x2="1566.5" y2="1420.7" stroke="#fff" stroke-width="2.3"/>
<line x1="1426.3" y1="1401.55" x2="1578.7" y2="1401.55" stroke="#fff" stroke-width="2.3"/>
<line x1="1426.3" y1="1365.45" x2="1578.7" y2="1365.45" stroke="#fff" stroke-width="2.3"/>
<line x1="1426.3" y1="1329.35" x2="1578.7" y2="1329.35" stroke="#fff" stroke-width="2.3"/>
<line x1="1426.3" y1="1293.25" x2="1578.7" y2="1293.25" stroke="#fff" stroke-width="2.3"/>
<line x1="1427.2" y1="1282.2" x2="1427.2" y2="1420.7" stroke="#fff" stroke-width="4.3"/>
<line x1="1467" y1="1282.2" x2="1467" y2="1420.7" stroke="#fff" stroke-width="4.3"/>
<line x1="1506.8" y1="1282.2" x2="1506.8" y2="1420.7" stroke="#fff" stroke-width="4.3"/>
<line x1="1546.6" y1="1282.2" x2="1546.6" y2="1420.7" stroke="#fff" stroke-width="4.3"/>
<line x1="1426.3" y1="1419.6" x2="1578.7" y2="1419.6" stroke="#fff" stroke-width="4.3"/>
<line x1="1426.3" y1="1383.5" x2="1578.7" y2="1383.5" stroke="#fff" stroke-width="4.3"/>
<line x1="1426.3" y1="1347.4" x2="1578.7" y2="1347.4" stroke="#fff" stroke-width="4.3"/>
<line x1="1426.3" y1="1311.3" x2="1578.7" y2="1311.3" stroke="#fff" stroke-width="4.3"/>
<rect x="1602.1" y="1283.2" width="150.4" height="136.5" fill="#fff" stroke="#EBEBEB" stroke-width="2.2"/>
<text x="1677.3" y="1339.5" font-size="34.8" text-anchor="middle" stroke="#000" stroke-width="0.4">Corr:</text>
<text x="1677.3" y="1389.5" font-size="34.8" text-anchor="middle" stroke="#000" stroke-width="0.4">0.616***</text>
<rect x="1076.7" y="1443.2" width="152.4" height="138.5" fill="#EBEBEB"/>
<line x1="1093.36" y1="1443.2" x2="1093.36" y2="1581.7" stroke="#fff" stroke-width="2.3"/>
<line x1="1125.48" y1="1443.2" x2="1125.48" y2="1581.7" stroke="#fff" stroke-width="2.3"/>
<line x1="1157.6" y1="1443.2" x2="1157.6" y2="1581.7" stroke="#fff" stroke-width="2.3"/>
<line x1="1189.72" y1="1443.2" x2="1189.72" y2="1581.7" stroke="#fff" stroke-width="2.3"/>
<line x1="1221.84" y1="1443.2" x2="1221.84" y2="1581.7" stroke="#fff" stroke-width="2.3"/>
<line x1="1076.7" y1="1564.35" x2="1229.1" y2="1564.35" stroke="#fff" stroke-width="2.3"/>
<line x1="1076.7" y1="1533.25" x2="1229.1" y2="1533.25" stroke="#fff" stroke-width="2.3"/>
<line x1="1076.7" y1="1502.15" x2="1229.1" y2="1502.15" stroke="#fff" stroke-width="2.3"/>
<line x1="1076.7" y1="1471.05" x2="1229.1" y2="1471.05" stroke="#fff" stroke-width="2.3"/>
<line x1="1077.3" y1="1443.2" x2="1077.3" y2="1581.7" stroke="#fff" stroke-width="4.3"/>
<line x1="1109.42" y1="1443.2" x2="1109.42" y2="1581.7" stroke="#fff" stroke-width="4.3"/>
<line x1="1141.54" y1="1443.2" x2="1141.54" y2="1581.7" stroke="#fff" stroke-width="4.3"/>
<line x1="1173.66" y1="1443.2" x2="1173.66" y2="1581.7" stroke="#fff" stroke-width="4.3"/>
<line x1="1205.78" y1="1443.2" x2="1205.78" y2="1581.7" stroke="#fff" stroke-width="4.3"/>
<line x1="1076.7" y1="1579.9" x2="1229.1" y2="1579.9" stroke="#fff" stroke-width="4.3"/>
<line x1="1076.7" y1="1548.8" x2="1229.1" y2="1548.8" stroke="#fff" stroke-width="4.3"/>
<line x1="1076.7" y1="1517.7" x2="1229.1" y2="1517.7" stroke="#fff" stroke-width="4.3"/>
<line x1="1076.7" y1="1486.6" x2="1229.1" y2="1486.6" stroke="#fff" stroke-width="4.3"/>
<line x1="1076.7" y1="1455.5" x2="1229.1" y2="1455.5" stroke="#fff" stroke-width="4.3"/>
<rect x="1251.5" y="1443.2" width="152.4" height="138.5" fill="#EBEBEB"/>
<line x1="1283.2" y1="1443.2" x2="1283.2" y2="1581.7" stroke="#fff" stroke-width="2.3"/>
<line x1="1333.4" y1="1443.2" x2="1333.4" y2="1581.7" stroke="#fff" stroke-width="2.3"/>
<line x1="1383.6" y1="1443.2" x2="1383.6" y2="1581.7" stroke="#fff" stroke-width="2.3"/>
<line x1="1251.5" y1="1564.35" x2="1403.9" y2="1564.35" stroke="#fff" stroke-width="2.3"/>
<line x1="1251.5" y1="1533.25" x2="1403.9" y2="1533.25" stroke="#fff" stroke-width="2.3"/>
<line x1="1251.5" y1="1502.15" x2="1403.9" y2="1502.15" stroke="#fff" stroke-width="2.3"/>
<line x1="1251.5" y1="1471.05" x2="1403.9" y2="1471.05" stroke="#fff" stroke-width="2.3"/>
<line x1="1258.1" y1="1443.2" x2="1258.1" y2="1581.7" stroke="#fff" stroke-width="4.3"/>
<line x1="1308.3" y1="1443.2" x2="1308.3" y2="1581.7" stroke="#fff" stroke-width="4.3"/>
<line x1="1358.5" y1="1443.2" x2="1358.5" y2="1581.7" stroke="#fff" stroke-width="4.3"/>
<line x1="1251.5" y1="1579.9" x2="1403.9" y2="1579.9" stroke="#fff" stroke-width="4.3"/>
<line x1="1251.5" y1="1548.8" x2="1403.9" y2="1548.8" stroke="#fff" stroke-width="4.3"/>
<line x1="1251.5" y1="1517.7" x2="1403.9" y2="1517.7" stroke="#fff" stroke-width="4.3"/>
<line x1="1251.5" y1="1486.6" x2="1403.9" y2="1486.6" stroke="#fff" stroke-width="4.3"/>
<line x1="1251.5" y1="1455.5" x2="1403.9" y2="1455.5" stroke="#fff" stroke-width="4.3"/>
<rect x="1426.3" y="1443.2" width="152.4" height="138.5" fill="#EBEBEB"/>
<line x1="1447.1" y1="1443.2" x2="1447.1" y2="1581.7" stroke="#fff" stroke-width="2.3"/>
<line x1="1486.9" y1="1443.2" x2="1486.9" y2="1581.7" stroke="#fff" stroke-width="2.3"/>
<line x1="1526.7" y1="1443.2" x2="1526.7" y2="1581.7" stroke="#fff" stroke-width="2.3"/>
<line x1="1566.5" y1="1443.2" x2="1566.5" y2="1581.7" stroke="#fff" stroke-width="2.3"/>
<line x1="1426.3" y1="1564.35" x2="1578.7" y2="1564.35" stroke="#fff" stroke-width="2.3"/>
<line x1="1426.3" y1="1533.25" x2="1578.7" y2="1533.25" stroke="#fff" stroke-width="2.3"/>
<line x1="1426.3" y1="1502.15" x2="1578.7" y2="1502.15" stroke="#fff" stroke-width="2.3"/>
<line x1="1426.3" y1="1471.05" x2="1578.7" y2="1471.05" stroke="#fff" stroke-width="2.3"/>
<line x1="1427.2" y1="1443.2" x2="1427.2" y2="1581.7" stroke="#fff" stroke-width="4.3"/>
<line x1="1467" y1="1443.2" x2="1467" y2="1581.7" stroke="#fff" stroke-width="4.3"/>
<line x1="1506.8" y1="1443.2" x2="1506.8" y2="1581.7" stroke="#fff" stroke-width="4.3"/>
<line x1="1546.6" y1="1443.2" x2="1546.6" y2="1581.7" stroke="#fff" stroke-width="4.3"/>
<line x1="1426.3" y1="1579.9" x2="1578.7" y2="1579.9" stroke="#fff" stroke-width="4.3"/>
<line x1="1426.3" y1="1548.8" x2="1578.7" y2="1548.8" stroke="#fff" stroke-width="4.3"/>
<line x1="1426.3" y1="1517.7" x2="1578.7" y2="1517.7" stroke="#fff" stroke-width="4.3"/>
<line x1="1426.3" y1="1486.6" x2="1578.7" y2="1486.6" stroke="#fff" stroke-width="4.3"/>
<line x1="1426.3" y1="1455.5" x2="1578.7" y2="1455.5" stroke="#fff" stroke-width="4.3"/>
<rect x="1601.1" y="1443.2" width="152.4" height="138.5" fill="#EBEBEB"/>
<line x1="1622.15" y1="1443.2" x2="1622.15" y2="1581.7" stroke="#fff" stroke-width="2.3"/>
<line x1="1655.25" y1="1443.2" x2="1655.25" y2="1581.7" stroke="#fff" stroke-width="2.3"/>
<line x1="1688.35" y1="1443.2" x2="1688.35" y2="1581.7" stroke="#fff" stroke-width="2.3"/>
<line x1="1721.45" y1="1443.2" x2="1721.45" y2="1581.7" stroke="#fff" stroke-width="2.3"/>
<line x1="1601.1" y1="1564.35" x2="1753.5" y2="1564.35" stroke="#fff" stroke-width="2.3"/>
<line x1="1601.1" y1="1533.25" x2="1753.5" y2="1533.25" stroke="#fff" stroke-width="2.3"/>
<line x1="1601.1" y1="1502.15" x2="1753.5" y2="1502.15" stroke="#fff" stroke-width="2.3"/>
<line x1="1601.1" y1="1471.05" x2="1753.5" y2="1471.05" stroke="#fff" stroke-width="2.3"/>
<line x1="1605.6" y1="1443.2" x2="1605.6" y2="1581.7" stroke="#fff" stroke-width="4.3"/>
<line x1="1638.7" y1="1443.2" x2="1638.7" y2="1581.7" stroke="#fff" stroke-width="4.3"/>
<line x1="1671.8" y1="1443.2" x2="1671.8" y2="1581.7" stroke="#fff" stroke-width="4.3"/>
<line x1="1704.9" y1="1443.2" x2="1704.9" y2="1581.7" stroke="#fff" stroke-width="4.3"/>
<line x1="1738" y1="1443.2" x2="1738" y2="1581.7" stroke="#fff" stroke-width="4.3"/>
<line x1="1601.1" y1="1579.9" x2="1753.5" y2="1579.9" stroke="#fff" stroke-width="4.3"/>
<line x1="1601.1" y1="1548.8" x2="1753.5" y2="1548.8" stroke="#fff" stroke-width="4.3"/>
<line x1="1601.1" y1="1517.7" x2="1753.5" y2="1517.7" stroke="#fff" stroke-width="4.3"/>
<line x1="1601.1" y1="1486.6" x2="1753.5" y2="1486.6" stroke="#fff" stroke-width="4.3"/>
<line x1="1601.1" y1="1455.5" x2="1753.5" y2="1455.5" stroke="#fff" stroke-width="4.3"/>
<g clip-path="url(#clc00)">
<path d="M1081.63 1093.8V963.26H1090.76V1093.8ZM1105.25 1093.8V1080.26H1113.91V1093.8ZM1113.91 1093.8V1076.78H1123.04V1093.8ZM1123.04 1093.8V1083.74H1132.02V1093.8ZM1132.02 1093.8V1080.26H1142.26V1093.8ZM1142.26 1093.8V1069.67H1150.92V1093.8ZM1150.92 1093.8V1069.67H1159.89V1093.8ZM1159.89 1093.8V1080.26H1169.03V1093.8ZM1169.03 1093.8V1076.78H1175.64V1093.8ZM1175.64 1093.8V1076.78H1182.41V1093.8ZM1182.41 1093.8V1083.74H1192.65V1093.8ZM1192.65 1093.8V1076.78H1202.1V1093.8ZM1202.1 1093.8V1073.15H1210.76V1093.8ZM1215.48 1093.8V1087.38H1224.93V1093.8Z" fill="#050505"/>
<path d="M1083.91 1090.5V966.56M1088.48 1090.5V966.56M1107.41 1090.5V1083.56M1111.74 1090.5V1083.56M1116.19 1090.5V1080.08M1120.76 1090.5V1080.08M1125.29 1090.5V1087.04M1129.78 1090.5V1087.04M1134.58 1090.5V1083.56M1139.7 1090.5V1083.56M1144.42 1090.5V1072.97M1148.75 1090.5V1072.97M1153.16 1090.5V1072.97M1157.65 1090.5V1072.97M1162.18 1090.5V1083.56M1166.74 1090.5V1083.56M1172.33 1090.5V1080.08M1179.03 1090.5V1080.08M1184.97 1090.5V1087.04M1190.09 1090.5V1087.04M1195.01 1090.5V1080.08M1199.74 1090.5V1080.08M1204.26 1090.5V1076.45M1208.59 1090.5V1076.45M1217.85 1090.5V1090.68M1222.57 1090.5V1090.68" stroke="#2D6E9E" stroke-width="0.9" fill="none" opacity="0.65"/>
</g>
<g clip-path="url(#clc11)">
<path d="M1256.22 1254.88V1136.77H1260.83V1254.88ZM1260.83 1254.88V1125.28H1265.44V1254.88ZM1265.44 1254.88V1125.28H1270.04V1254.88ZM1270.04 1254.88V1194.25H1274.65V1254.88ZM1274.65 1254.88V1194.25H1279.26V1254.88ZM1279.26 1254.88V1240.24H1283.87V1254.88ZM1283.87 1254.88V1217.09H1288.47V1254.88ZM1288.47 1254.88V1217.09H1293.08V1254.88ZM1293.08 1254.88V1217.09H1297.69V1254.88ZM1297.69 1254.88V1171.1H1302.3V1254.88ZM1302.3 1254.88V1171.1H1306.9V1254.88ZM1306.9 1254.88V1205.75H1311.51V1254.88ZM1311.51 1254.88V1217.09H1316.12V1254.88ZM1316.12 1254.88V1228.43H1320.73V1254.88ZM1320.73 1254.88V1228.43H1325.33V1254.88ZM1325.33 1254.88V1217.09H1329.94V1254.88ZM1329.94 1254.88V1217.09H1334.55V1254.88ZM1334.55 1254.88V1217.09H1339.16V1254.88ZM1339.16 1254.88V1228.43H1343.76V1254.88ZM1343.76 1254.88V1228.43H1348.37V1254.88ZM1348.37 1254.88V1148.11H1352.98V1254.88ZM1352.98 1254.88V1148.11H1357.59V1254.88ZM1357.59 1254.88V1194.25H1362.19V1254.88ZM1362.19 1254.88V1194.25H1366.8V1254.88ZM1366.8 1254.88V1171.1H1371.41V1254.88ZM1371.41 1254.88V1171.1H1376.02V1254.88ZM1376.02 1254.88V1194.25H1380.62V1254.88ZM1380.62 1254.88V1228.43H1385.23V1254.88ZM1385.23 1254.88V1228.43H1389.84V1254.88ZM1389.84 1254.88V1240.24H1394.45V1254.88ZM1394.45 1254.88V1240.24H1399.06V1254.88Z" fill="#050505"/>
<path d="M1258.52 1251.58V1140.07M1263.13 1251.58V1128.58M1267.74 1251.58V1128.58M1272.35 1251.58V1197.55M1276.95 1251.58V1197.55M1281.56 1251.58V1243.54M1286.17 1251.58V1220.39M1290.78 1251.58V1220.39M1295.38 1251.58V1220.39M1299.99 1251.58V1174.4M1304.6 1251.58V1174.4M1309.21 1251.58V1209.05M1313.82 1251.58V1220.39M1318.42 1251.58V1231.73M1323.03 1251.58V1231.73M1327.64 1251.58V1220.39M1332.25 1251.58V1220.39M1336.85 1251.58V1220.39M1341.46 1251.58V1231.73M1346.07 1251.58V1231.73M1350.68 1251.58V1151.41M1355.28 1251.58V1151.41M1359.89 1251.58V1197.55M1364.5 1251.58V1197.55M1369.11 1251.58V1174.4M1373.71 1251.58V1174.4M1378.32 1251.58V1197.55M1382.93 1251.58V1231.73M1387.54 1251.58V1231.73M1392.14 1251.58V1243.54M1396.75 1251.58V1243.54" stroke="#2D6E9E" stroke-width="0.9" fill="none" opacity="0.65"/>
</g>
<g clip-path="url(#clc22)">
<path d="M1431.22 1416.73V1400.2H1435.83V1416.73ZM1435.83 1416.73V1400.2H1440.44V1416.73ZM1440.44 1416.73V1374.69H1445.04V1416.73ZM1445.04 1416.73V1311.69H1449.65V1416.73ZM1449.65 1416.73V1311.69H1454.26V1416.73ZM1454.26 1416.73V1324.29H1458.87V1416.73ZM1458.87 1416.73V1374.69H1463.47V1416.73ZM1463.47 1416.73V1387.6H1468.08V1416.73ZM1468.08 1416.73V1387.6H1472.69V1416.73ZM1472.69 1416.73V1374.69H1477.3V1416.73ZM1477.3 1416.73V1374.69H1481.9V1416.73ZM1481.9 1416.73V1374.69H1486.51V1416.73ZM1486.51 1416.73V1374.69H1491.12V1416.73ZM1491.12 1416.73V1349.33H1495.73V1416.73ZM1495.73 1416.73V1286.34H1500.33V1416.73ZM1500.33 1416.73V1286.34H1504.94V1416.73ZM1504.94 1416.73V1349.33H1509.55V1416.73ZM1509.55 1416.73V1349.33H1514.16V1416.73ZM1514.16 1416.73V1362.09H1518.76V1416.73ZM1518.76 1416.73V1362.09H1523.37V1416.73ZM1523.37 1416.73V1362.09H1527.98V1416.73ZM1527.98 1416.73V1362.09H1532.59V1416.73ZM1532.59 1416.73V1324.29H1537.19V1416.73ZM1537.19 1416.73V1311.69H1541.8V1416.73ZM1541.8 1416.73V1311.69H1546.41V1416.73ZM1546.41 1416.73V1374.69H1551.02V1416.73ZM1551.02 1416.73V1387.6H1555.62V1416.73ZM1555.62 1416.73V1400.2H1560.23V1416.73ZM1560.23 1416.73V1400.2H1564.84V1416.73ZM1564.84 1416.73V1400.2H1569.45V1416.73ZM1569.45 1416.73V1400.2H1574.06V1416.73Z" fill="#050505"/>
<path d="M1433.52 1413.43V1403.5M1438.13 1413.43V1403.5M1442.74 1413.43V1377.99M1447.35 1413.43V1314.99M1451.95 1413.43V1314.99M1456.56 1413.43V1327.59M1461.17 1413.43V1377.99M1465.78 1413.43V1390.9M1470.38 1413.43V1390.9M1474.99 1413.43V1377.99M1479.6 1413.43V1377.99M1484.21 1413.43V1377.99M1488.82 1413.43V1377.99M1493.42 1413.43V1352.63M1498.03 1413.43V1289.64M1502.64 1413.43V1289.64M1507.25 1413.43V1352.63M1511.85 1413.43V1352.63M1516.46 1413.43V1365.39M1521.07 1413.43V1365.39M1525.68 1413.43V1365.39M1530.28 1413.43V1365.39M1534.89 1413.43V1327.59M1539.5 1413.43V1314.99M1544.11 1413.43V1314.99M1548.71 1413.43V1377.99M1553.32 1413.43V1390.9M1557.93 1413.43V1403.5M1562.54 1413.43V1403.5M1567.14 1413.43V1403.5M1571.75 1413.43V1403.5" stroke="#2D6E9E" stroke-width="0.9" fill="none" opacity="0.65"/>
</g>
<g clip-path="url(#clc33)">
<path d="M1606.22 1577.99V1520.04H1610.83V1577.99ZM1610.83 1577.99V1501.93H1615.44V1577.99ZM1615.44 1577.99V1501.93H1620.04V1577.99ZM1620.04 1577.99V1520.04H1624.65V1577.99ZM1624.65 1577.99V1538.15H1629.26V1577.99ZM1629.26 1577.99V1520.04H1633.87V1577.99ZM1633.87 1577.99V1483.82H1638.47V1577.99ZM1638.47 1577.99V1483.82H1643.08V1577.99ZM1643.08 1577.99V1501.93H1647.69V1577.99ZM1647.69 1577.99V1501.93H1652.3V1577.99ZM1652.3 1577.99V1447.6H1656.9V1577.99ZM1656.9 1577.99V1447.6H1661.51V1577.99ZM1661.51 1577.99V1483.82H1666.12V1577.99ZM1666.12 1577.99V1447.6H1670.73V1577.99ZM1670.73 1577.99V1447.6H1675.33V1577.99ZM1675.33 1577.99V1447.6H1679.94V1577.99ZM1679.94 1577.99V1447.6H1684.55V1577.99ZM1684.55 1577.99V1483.82H1689.16V1577.99ZM1689.16 1577.99V1483.82H1693.76V1577.99ZM1693.76 1577.99V1483.82H1698.37V1577.99ZM1698.37 1577.99V1483.82H1702.98V1577.99ZM1702.98 1577.99V1483.82H1707.59V1577.99ZM1707.59 1577.99V1501.93H1712.19V1577.99ZM1712.19 1577.99V1520.04H1716.8V1577.99ZM1716.8 1577.99V1538.15H1721.41V1577.99ZM1721.41 1577.99V1501.93H1726.02V1577.99ZM1726.02 1577.99V1501.93H1730.62V1577.99ZM1730.62 1577.99V1501.93H1735.23V1577.99ZM1735.23 1577.99V1538.15H1739.84V1577.99ZM1739.84 1577.99V1555.94H1744.45V1577.99ZM1744.45 1577.99V1555.94H1749.06V1577.99Z" fill="#050505"/>
<path d="M1608.52 1574.69V1523.34M1613.13 1574.69V1505.23M1617.74 1574.69V1505.23M1622.35 1574.69V1523.34M1626.95 1574.69V1541.45M1631.56 1574.69V1523.34M1636.17 1574.69V1487.12M1640.78 1574.69V1487.12M1645.38 1574.69V1505.23M1649.99 1574.69V1505.23M1654.6 1574.69V1450.9M1659.21 1574.69V1450.9M1663.82 1574.69V1487.12M1668.42 1574.69V1450.9M1673.03 1574.69V1450.9M1677.64 1574.69V1450.9M1682.25 1574.69V1450.9M1686.85 1574.69V1487.12M1691.46 1574.69V1487.12M1696.07 1574.69V1487.12M1700.68 1574.69V1487.12M1705.28 1574.69V1487.12M1709.89 1574.69V1505.23M1714.5 1574.69V1523.34M1719.11 1574.69V1541.45M1723.71 1574.69V1505.23M1728.32 1574.69V1505.23M1732.93 1574.69V1505.23M1737.54 1574.69V1541.45M1742.14 1574.69V1559.24M1746.75 1574.69V1559.24" stroke="#2D6E9E" stroke-width="0.9" fill="none" opacity="0.65"/>
</g>
<g clip-path="url(#clc10)">
<g fill="#E8A317" fill-opacity="0.85" stroke="#150f05" stroke-opacity="0.9" stroke-width="2.7">
<circle cx="1165.79" cy="1153.83" r="6.4"/><circle cx="1127.17" cy="1209.37" r="6.4"/><circle cx="1188.16" cy="1138.3" r="6.4"/><circle cx="1201" cy="1155.47" r="6.4"/><circle cx="1162.52" cy="1148.57" r="6.4"/><circle cx="1153.53" cy="1176.93" r="6.4"/><circle cx="1129.75" cy="1230.56" r="6.4"/><circle cx="1084.17" cy="1256.3" r="6.4"/><circle cx="1084.17" cy="1217.63" r="6.4"/><circle cx="1143.6" cy="1202.73" r="6.4"/><circle cx="1109.95" cy="1217.5" r="6.4"/><circle cx="1218.65" cy="1165.9" r="6.4"/><circle cx="1176.48" cy="1163.81" r="6.4"/><circle cx="1084.17" cy="1256.3" r="6.4"/><circle cx="1183.53" cy="1153.02" r="6.4"/><circle cx="1181.33" cy="1147.53" r="6.4"/><circle cx="1168.67" cy="1162.08" r="6.4"/><circle cx="1143.44" cy="1211.59" r="6.4"/><circle cx="1115.82" cy="1211.01" r="6.4"/><circle cx="1084.17" cy="1211.48" r="6.4"/><circle cx="1208.47" cy="1163.39" r="6.4"/><circle cx="1213.15" cy="1132.96" r="6.4"/><circle cx="1140.54" cy="1153.04" r="6.4"/><circle cx="1140.31" cy="1223.61" r="6.4"/><circle cx="1084.17" cy="1232.09" r="6.4"/><circle cx="1133.69" cy="1202.91" r="6.4"/><circle cx="1148.93" cy="1160.5" r="6.4"/><circle cx="1135.88" cy="1195.79" r="6.4"/><circle cx="1146.8" cy="1188.77" r="6.4"/><circle cx="1133.05" cy="1222.48" r="6.4"/><circle cx="1084.17" cy="1146.22" r="6.4"/><circle cx="1084.17" cy="1163.54" r="6.4"/><circle cx="1084.17" cy="1204.49" r="6.4"/><circle cx="1084.17" cy="1210.79" r="6.4"/><circle cx="1084.17" cy="1215.51" r="6.4"/><circle cx="1084.17" cy="1221.81" r="6.4"/><circle cx="1084.17" cy="1229.69" r="6.4"/><circle cx="1084.17" cy="1235.98" r="6.4"/><circle cx="1084.17" cy="1242.28" r="6.4"/><circle cx="1084.17" cy="1248.58" r="6.4"/><circle cx="1084.17" cy="1253.31" r="6.4"/><circle cx="1106.22" cy="1224.96" r="6.4"/><circle cx="1109.37" cy="1217.09" r="6.4"/><circle cx="1110.94" cy="1210.79" r="6.4"/><circle cx="1114.09" cy="1188.74" r="6.4"/><circle cx="1115.67" cy="1168.27" r="6.4"/><circle cx="1117.24" cy="1174.57" r="6.4"/><circle cx="1120.39" cy="1143.07" r="6.4"/><circle cx="1125.12" cy="1210.79" r="6.4"/><circle cx="1128.27" cy="1232.83" r="6.4"/><circle cx="1131.42" cy="1207.64" r="6.4"/><circle cx="1134.57" cy="1229.69" r="6.4"/><circle cx="1136.14" cy="1217.09" r="6.4"/><circle cx="1139.29" cy="1221.81" r="6.4"/><circle cx="1140.87" cy="1210.79" r="6.4"/><circle cx="1142.44" cy="1157.24" r="6.4"/><circle cx="1144.02" cy="1184.02" r="6.4"/><circle cx="1145.59" cy="1146.22" r="6.4"/><circle cx="1147.17" cy="1202.91" r="6.4"/><circle cx="1150.31" cy="1177.72" r="6.4"/><circle cx="1152.52" cy="1160.39" r="6.4"/><circle cx="1155.04" cy="1188.74" r="6.4"/><circle cx="1156.61" cy="1139.92" r="6.4"/><circle cx="1158.19" cy="1149.37" r="6.4"/><circle cx="1161.34" cy="1184.02" r="6.4"/><circle cx="1164.49" cy="1157.24" r="6.4"/><circle cx="1167.64" cy="1165.12" r="6.4"/><circle cx="1170.79" cy="1150.94" r="6.4"/><circle cx="1173.94" cy="1150.94" r="6.4"/><circle cx="1175.51" cy="1184.02" r="6.4"/><circle cx="1178.66" cy="1180.87" r="6.4"/><circle cx="1182.44" cy="1202.28" r="6.4"/><circle cx="1183.39" cy="1166.69" r="6.4"/><circle cx="1187.17" cy="1126.38" r="6.4"/><circle cx="1191.26" cy="1135.2" r="6.4"/><circle cx="1194.41" cy="1149.37" r="6.4"/><circle cx="1195.98" cy="1166.69" r="6.4"/><circle cx="1199.13" cy="1138.35" r="6.4"/><circle cx="1202.28" cy="1154.09" r="6.4"/><circle cx="1207.01" cy="1158.82" r="6.4"/><circle cx="1208.58" cy="1133.62" r="6.4"/><circle cx="1210.16" cy="1166.69" r="6.4"/><circle cx="1211.73" cy="1146.22" r="6.4"/><circle cx="1222.76" cy="1144.65" r="6.4"/><circle cx="1148.74" cy="1166.69" r="6.4"/><circle cx="1153.46" cy="1150.94" r="6.4"/><circle cx="1132.99" cy="1213.94" r="6.4"/><circle cx="1126.69" cy="1213.94" r="6.4"/><circle cx="1164.49" cy="1172.99" r="6.4"/>
</g>
<path d="M1090.14 1240.69L1156.84 1184.46L1228.64 1134.89L1217.96 1120.91L1151.26 1177.14L1079.46 1226.71Z" fill="#999" fill-opacity="0.36"/>
<line x1="1084.8" y1="1233.7" x2="1223.3" y2="1127.9" stroke="#000" stroke-width="8"/>
</g>
<g clip-path="url(#clc20)">
<g fill="#E8A317" fill-opacity="0.85" stroke="#150f05" stroke-opacity="0.9" stroke-width="2.7">
<circle cx="1161.58" cy="1356.75" r="6.4"/><circle cx="1206.98" cy="1321.51" r="6.4"/><circle cx="1181.52" cy="1343.26" r="6.4"/><circle cx="1145.51" cy="1368.44" r="6.4"/><circle cx="1124.32" cy="1369.13" r="6.4"/><circle cx="1151.38" cy="1354.99" r="6.4"/><circle cx="1145.3" cy="1332.9" r="6.4"/><circle cx="1183.42" cy="1314.68" r="6.4"/><circle cx="1165.18" cy="1328.51" r="6.4"/><circle cx="1179.31" cy="1359.8" r="6.4"/><circle cx="1149.83" cy="1350.23" r="6.4"/><circle cx="1205.64" cy="1316.09" r="6.4"/><circle cx="1120.84" cy="1390.61" r="6.4"/><circle cx="1177.13" cy="1342.99" r="6.4"/><circle cx="1108.42" cy="1349.51" r="6.4"/><circle cx="1203.25" cy="1319.88" r="6.4"/><circle cx="1117.27" cy="1383.79" r="6.4"/><circle cx="1178.92" cy="1317.71" r="6.4"/><circle cx="1223.14" cy="1310.15" r="6.4"/><circle cx="1190.53" cy="1312.86" r="6.4"/><circle cx="1084.17" cy="1386.32" r="6.4"/><circle cx="1226.1" cy="1300.9" r="6.4"/><circle cx="1084.17" cy="1379.37" r="6.4"/><circle cx="1185.16" cy="1335.3" r="6.4"/><circle cx="1128.3" cy="1324.35" r="6.4"/><circle cx="1084.17" cy="1398.89" r="6.4"/><circle cx="1169.67" cy="1300.6" r="6.4"/><circle cx="1121.93" cy="1360.73" r="6.4"/><circle cx="1122.8" cy="1386.99" r="6.4"/><circle cx="1145.12" cy="1354.77" r="6.4"/><circle cx="1084.17" cy="1335.2" r="6.4"/><circle cx="1084.17" cy="1344.65" r="6.4"/><circle cx="1084.17" cy="1352.52" r="6.4"/><circle cx="1084.17" cy="1360.39" r="6.4"/><circle cx="1084.17" cy="1368.27" r="6.4"/><circle cx="1084.17" cy="1376.14" r="6.4"/><circle cx="1084.17" cy="1384.02" r="6.4"/><circle cx="1084.17" cy="1391.89" r="6.4"/><circle cx="1084.17" cy="1399.76" r="6.4"/><circle cx="1084.17" cy="1406.06" r="6.4"/><circle cx="1084.17" cy="1412.36" r="6.4"/><circle cx="1084.17" cy="1415.51" r="6.4"/><circle cx="1107.8" cy="1316.3" r="6.4"/><circle cx="1107.8" cy="1395.04" r="6.4"/><circle cx="1110.94" cy="1343.07" r="6.4"/><circle cx="1112.52" cy="1299.92" r="6.4"/><circle cx="1114.09" cy="1355.67" r="6.4"/><circle cx="1117.24" cy="1376.14" r="6.4"/><circle cx="1120.39" cy="1335.2" r="6.4"/><circle cx="1125.12" cy="1352.52" r="6.4"/><circle cx="1127.32" cy="1387.8" r="6.4"/><circle cx="1131.42" cy="1327.32" r="6.4"/><circle cx="1134.57" cy="1333.62" r="6.4"/><circle cx="1137.72" cy="1358.82" r="6.4"/><circle cx="1140.87" cy="1311.57" r="6.4"/><circle cx="1144.02" cy="1330.47" r="6.4"/><circle cx="1145.59" cy="1355.67" r="6.4"/><circle cx="1148.74" cy="1365.12" r="6.4"/><circle cx="1151.89" cy="1374.57" r="6.4"/><circle cx="1153.46" cy="1310" r="6.4"/><circle cx="1156.61" cy="1355.67" r="6.4"/><circle cx="1159.76" cy="1294.25" r="6.4"/><circle cx="1162.91" cy="1308.43" r="6.4"/><circle cx="1164.49" cy="1354.09" r="6.4"/><circle cx="1167.64" cy="1330.47" r="6.4"/><circle cx="1170.79" cy="1321.02" r="6.4"/><circle cx="1173.94" cy="1343.07" r="6.4"/><circle cx="1175.51" cy="1360.39" r="6.4"/><circle cx="1178.66" cy="1346.22" r="6.4"/><circle cx="1179.61" cy="1288.58" r="6.4"/><circle cx="1181.81" cy="1333.62" r="6.4"/><circle cx="1184.96" cy="1313.15" r="6.4"/><circle cx="1189.69" cy="1376.14" r="6.4"/><circle cx="1191.26" cy="1354.09" r="6.4"/><circle cx="1195.98" cy="1306.85" r="6.4"/><circle cx="1199.13" cy="1319.45" r="6.4"/><circle cx="1203.86" cy="1317.87" r="6.4"/><circle cx="1208.58" cy="1325.75" r="6.4"/><circle cx="1210.16" cy="1346.22" r="6.4"/><circle cx="1222.76" cy="1308.43" r="6.4"/><circle cx="1140.87" cy="1343.07" r="6.4"/><circle cx="1132.99" cy="1346.22" r="6.4"/><circle cx="1123.54" cy="1361.97" r="6.4"/><circle cx="1173.94" cy="1324.17" r="6.4"/><circle cx="1161.34" cy="1330.47" r="6.4"/>
</g>
<path d="M1089.18 1390.43L1156.34 1347.09L1227.68 1311.03L1218.92 1295.77L1151.76 1339.11L1080.42 1375.17Z" fill="#999" fill-opacity="0.36"/>
<line x1="1084.8" y1="1382.8" x2="1223.3" y2="1303.4" stroke="#000" stroke-width="8"/>
</g>
<g clip-path="url(#clc21)">
<g fill="#E8A317" fill-opacity="0.85" stroke="#150f05" stroke-opacity="0.9" stroke-width="2.7">
<circle cx="1297.5" cy="1344.42" r="6.4"/><circle cx="1264.58" cy="1386.14" r="6.4"/><circle cx="1258.98" cy="1383.99" r="6.4"/><circle cx="1377.78" cy="1307.31" r="6.4"/><circle cx="1335.22" cy="1364.74" r="6.4"/><circle cx="1259.69" cy="1379.4" r="6.4"/><circle cx="1258.98" cy="1415.2" r="6.4"/><circle cx="1258.98" cy="1377.8" r="6.4"/><circle cx="1325.37" cy="1354.72" r="6.4"/><circle cx="1258.98" cy="1359.59" r="6.4"/><circle cx="1276.43" cy="1379.82" r="6.4"/><circle cx="1276.07" cy="1358.14" r="6.4"/><circle cx="1319.73" cy="1359.77" r="6.4"/><circle cx="1280.14" cy="1359.52" r="6.4"/><circle cx="1309.66" cy="1353.53" r="6.4"/><circle cx="1271.47" cy="1394.02" r="6.4"/><circle cx="1351.99" cy="1333.69" r="6.4"/><circle cx="1309.16" cy="1344.28" r="6.4"/><circle cx="1277.48" cy="1381.94" r="6.4"/><circle cx="1269.58" cy="1417.11" r="6.4"/><circle cx="1399.84" cy="1324.94" r="6.4"/><circle cx="1294.4" cy="1343.49" r="6.4"/><circle cx="1288.81" cy="1339.43" r="6.4"/><circle cx="1327.99" cy="1360.99" r="6.4"/><circle cx="1383.3" cy="1319.84" r="6.4"/><circle cx="1268.35" cy="1363.64" r="6.4"/><circle cx="1357.48" cy="1379.54" r="6.4"/><circle cx="1273.55" cy="1354.41" r="6.4"/><circle cx="1385.11" cy="1322.81" r="6.4"/><circle cx="1309.93" cy="1362.48" r="6.4"/><circle cx="1258.98" cy="1361.97" r="6.4"/><circle cx="1258.98" cy="1380.87" r="6.4"/><circle cx="1258.98" cy="1387.17" r="6.4"/><circle cx="1258.98" cy="1393.46" r="6.4"/><circle cx="1258.98" cy="1399.76" r="6.4"/><circle cx="1258.98" cy="1406.06" r="6.4"/><circle cx="1258.98" cy="1413.94" r="6.4"/><circle cx="1262.13" cy="1344.65" r="6.4"/><circle cx="1263.7" cy="1377.72" r="6.4"/><circle cx="1266.85" cy="1402.91" r="6.4"/><circle cx="1271.57" cy="1398.19" r="6.4"/><circle cx="1273.15" cy="1355.67" r="6.4"/><circle cx="1274.72" cy="1406.06" r="6.4"/><circle cx="1281.02" cy="1387.17" r="6.4"/><circle cx="1285.75" cy="1335.2" r="6.4"/><circle cx="1288.9" cy="1406.06" r="6.4"/><circle cx="1292.05" cy="1343.07" r="6.4"/><circle cx="1298.35" cy="1358.82" r="6.4"/><circle cx="1299.92" cy="1388.74" r="6.4"/><circle cx="1301.5" cy="1396.61" r="6.4"/><circle cx="1303.07" cy="1316.3" r="6.4"/><circle cx="1304.65" cy="1354.09" r="6.4"/><circle cx="1306.22" cy="1311.57" r="6.4"/><circle cx="1309.37" cy="1327.32" r="6.4"/><circle cx="1310.94" cy="1404.49" r="6.4"/><circle cx="1312.52" cy="1335.2" r="6.4"/><circle cx="1315.67" cy="1361.97" r="6.4"/><circle cx="1321.97" cy="1344.65" r="6.4"/><circle cx="1326.69" cy="1299.92" r="6.4"/><circle cx="1328.27" cy="1371.42" r="6.4"/><circle cx="1334.57" cy="1358.82" r="6.4"/><circle cx="1337.72" cy="1314.72" r="6.4"/><circle cx="1340.87" cy="1306.85" r="6.4"/><circle cx="1344.02" cy="1376.14" r="6.4"/><circle cx="1348.74" cy="1365.12" r="6.4"/><circle cx="1350.31" cy="1352.52" r="6.4"/><circle cx="1351.89" cy="1322.6" r="6.4"/><circle cx="1355.04" cy="1287.95" r="6.4"/><circle cx="1355.98" cy="1402.91" r="6.4"/><circle cx="1358.19" cy="1311.57" r="6.4"/><circle cx="1361.34" cy="1310" r="6.4"/><circle cx="1369.21" cy="1343.07" r="6.4"/><circle cx="1370.79" cy="1374.57" r="6.4"/><circle cx="1372.36" cy="1294.25" r="6.4"/><circle cx="1373.94" cy="1369.84" r="6.4"/><circle cx="1375.51" cy="1354.09" r="6.4"/><circle cx="1377.09" cy="1311.57" r="6.4"/><circle cx="1380.24" cy="1330.47" r="6.4"/><circle cx="1388.11" cy="1354.09" r="6.4"/><circle cx="1389.69" cy="1324.17" r="6.4"/><circle cx="1397.56" cy="1314.72" r="6.4"/><circle cx="1290.47" cy="1361.97" r="6.4"/><circle cx="1271.57" cy="1358.82" r="6.4"/>
</g>
<path d="M1262.77 1394.8L1330.18 1354.88L1401.47 1322.4L1393.33 1306.8L1325.92 1346.72L1254.63 1379.2Z" fill="#999" fill-opacity="0.36"/>
<line x1="1258.7" y1="1387" x2="1397.4" y2="1314.6" stroke="#000" stroke-width="8"/>
</g>
<g clip-path="url(#clc30)">
<g fill="#E8A317" fill-opacity="0.85" stroke="#150f05" stroke-opacity="0.9" stroke-width="2.7">
<circle cx="1129.86" cy="1520.04" r="6.4"/><circle cx="1116.25" cy="1526.22" r="6.4"/><circle cx="1149.05" cy="1504.43" r="6.4"/><circle cx="1084.17" cy="1539.15" r="6.4"/><circle cx="1132.1" cy="1514.44" r="6.4"/><circle cx="1213.45" cy="1488.3" r="6.4"/><circle cx="1114.3" cy="1506.13" r="6.4"/><circle cx="1184.98" cy="1496.91" r="6.4"/><circle cx="1156.21" cy="1493.6" r="6.4"/><circle cx="1209.59" cy="1455.73" r="6.4"/><circle cx="1183.82" cy="1463.44" r="6.4"/><circle cx="1084.17" cy="1562.44" r="6.4"/><circle cx="1209.54" cy="1482.03" r="6.4"/><circle cx="1145.25" cy="1492.64" r="6.4"/><circle cx="1084.17" cy="1519.68" r="6.4"/><circle cx="1176.27" cy="1511.13" r="6.4"/><circle cx="1135.68" cy="1535.18" r="6.4"/><circle cx="1126.37" cy="1518.77" r="6.4"/><circle cx="1144.38" cy="1487.99" r="6.4"/><circle cx="1204.78" cy="1485.92" r="6.4"/><circle cx="1195.93" cy="1469.84" r="6.4"/><circle cx="1110.74" cy="1534.76" r="6.4"/><circle cx="1154.84" cy="1506.36" r="6.4"/><circle cx="1084.17" cy="1531.06" r="6.4"/><circle cx="1186.53" cy="1493.33" r="6.4"/><circle cx="1179.79" cy="1503.05" r="6.4"/><circle cx="1129.47" cy="1537.35" r="6.4"/><circle cx="1115.88" cy="1504.04" r="6.4"/><circle cx="1112.5" cy="1539.44" r="6.4"/><circle cx="1153.93" cy="1507.88" r="6.4"/><circle cx="1084.17" cy="1484.8" r="6.4"/><circle cx="1084.17" cy="1492.68" r="6.4"/><circle cx="1084.17" cy="1510" r="6.4"/><circle cx="1084.17" cy="1519.45" r="6.4"/><circle cx="1084.17" cy="1525.75" r="6.4"/><circle cx="1084.17" cy="1532.05" r="6.4"/><circle cx="1084.17" cy="1538.35" r="6.4"/><circle cx="1084.17" cy="1546.22" r="6.4"/><circle cx="1084.17" cy="1554.09" r="6.4"/><circle cx="1084.17" cy="1563.54" r="6.4"/><circle cx="1084.17" cy="1572.99" r="6.4"/><circle cx="1084.17" cy="1579.29" r="6.4"/><circle cx="1104.65" cy="1517.87" r="6.4"/><circle cx="1109.37" cy="1538.35" r="6.4"/><circle cx="1112.52" cy="1503.7" r="6.4"/><circle cx="1114.09" cy="1483.23" r="6.4"/><circle cx="1117.24" cy="1533.62" r="6.4"/><circle cx="1121.97" cy="1516.3" r="6.4"/><circle cx="1126.69" cy="1530.47" r="6.4"/><circle cx="1131.42" cy="1532.05" r="6.4"/><circle cx="1134.57" cy="1539.92" r="6.4"/><circle cx="1137.72" cy="1500.55" r="6.4"/><circle cx="1140.87" cy="1476.93" r="6.4"/><circle cx="1144.02" cy="1519.45" r="6.4"/><circle cx="1145.59" cy="1464.33" r="6.4"/><circle cx="1147.17" cy="1491.1" r="6.4"/><circle cx="1150.31" cy="1506.85" r="6.4"/><circle cx="1152.52" cy="1475.35" r="6.4"/><circle cx="1155.04" cy="1525.75" r="6.4"/><circle cx="1158.19" cy="1462.76" r="6.4"/><circle cx="1161.34" cy="1503.7" r="6.4"/><circle cx="1164.49" cy="1510" r="6.4"/><circle cx="1167.64" cy="1538.98" r="6.4"/><circle cx="1170.79" cy="1480.08" r="6.4"/><circle cx="1173.94" cy="1508.43" r="6.4"/><circle cx="1177.09" cy="1465.91" r="6.4"/><circle cx="1178.66" cy="1517.87" r="6.4"/><circle cx="1181.81" cy="1492.68" r="6.4"/><circle cx="1186.54" cy="1497.4" r="6.4"/><circle cx="1189.69" cy="1464.33" r="6.4"/><circle cx="1191.26" cy="1502.13" r="6.4"/><circle cx="1195.98" cy="1458.03" r="6.4"/><circle cx="1197.56" cy="1500.55" r="6.4"/><circle cx="1200.71" cy="1480.08" r="6.4"/><circle cx="1203.86" cy="1450.16" r="6.4"/><circle cx="1207.01" cy="1511.57" r="6.4"/><circle cx="1208.58" cy="1459.61" r="6.4"/><circle cx="1210.16" cy="1478.5" r="6.4"/><circle cx="1222.76" cy="1461.18" r="6.4"/><circle cx="1142.44" cy="1484.8" r="6.4"/><circle cx="1151.89" cy="1494.25" r="6.4"/><circle cx="1132.99" cy="1519.45" r="6.4"/>
</g>
<path d="M1089 1550.53L1156.24 1509.24L1227.5 1475.33L1219.1 1459.87L1151.86 1501.16L1080.6 1535.07Z" fill="#999" fill-opacity="0.36"/>
<line x1="1084.8" y1="1542.8" x2="1223.3" y2="1467.6" stroke="#000" stroke-width="8"/>
</g>
<g clip-path="url(#clc31)">
<g fill="#E8A317" fill-opacity="0.85" stroke="#150f05" stroke-opacity="0.9" stroke-width="2.7">
<circle cx="1299.28" cy="1516.31" r="6.4"/><circle cx="1271.87" cy="1528.86" r="6.4"/><circle cx="1263.15" cy="1505.45" r="6.4"/><circle cx="1290.35" cy="1511.77" r="6.4"/><circle cx="1361.54" cy="1521.81" r="6.4"/><circle cx="1379.14" cy="1483.78" r="6.4"/><circle cx="1260.94" cy="1563.02" r="6.4"/><circle cx="1303.77" cy="1557.37" r="6.4"/><circle cx="1369.36" cy="1515.08" r="6.4"/><circle cx="1372.32" cy="1469.87" r="6.4"/><circle cx="1333.76" cy="1492.56" r="6.4"/><circle cx="1371.9" cy="1493.12" r="6.4"/><circle cx="1372.09" cy="1473.08" r="6.4"/><circle cx="1302.08" cy="1518.58" r="6.4"/><circle cx="1282.03" cy="1528.28" r="6.4"/><circle cx="1289.4" cy="1544.73" r="6.4"/><circle cx="1271.39" cy="1553.88" r="6.4"/><circle cx="1258.98" cy="1578.7" r="6.4"/><circle cx="1291.62" cy="1547.91" r="6.4"/><circle cx="1279.52" cy="1512.52" r="6.4"/><circle cx="1365.5" cy="1520.07" r="6.4"/><circle cx="1258.98" cy="1519.94" r="6.4"/><circle cx="1335.41" cy="1488.81" r="6.4"/><circle cx="1270.83" cy="1529.57" r="6.4"/><circle cx="1359.52" cy="1494.36" r="6.4"/><circle cx="1335.04" cy="1521.85" r="6.4"/><circle cx="1258.98" cy="1533.91" r="6.4"/><circle cx="1396.14" cy="1456.59" r="6.4"/><circle cx="1328.31" cy="1527.32" r="6.4"/><circle cx="1374.12" cy="1465.86" r="6.4"/><circle cx="1258.98" cy="1528.9" r="6.4"/><circle cx="1258.98" cy="1535.2" r="6.4"/><circle cx="1258.98" cy="1544.65" r="6.4"/><circle cx="1258.98" cy="1554.09" r="6.4"/><circle cx="1258.98" cy="1563.54" r="6.4"/><circle cx="1258.98" cy="1572.99" r="6.4"/><circle cx="1258.98" cy="1577.72" r="6.4"/><circle cx="1262.13" cy="1510" r="6.4"/><circle cx="1263.7" cy="1519.45" r="6.4"/><circle cx="1266.85" cy="1557.24" r="6.4"/><circle cx="1271.57" cy="1528.9" r="6.4"/><circle cx="1273.15" cy="1487.95" r="6.4"/><circle cx="1274.72" cy="1572.99" r="6.4"/><circle cx="1271.57" cy="1563.54" r="6.4"/><circle cx="1279.45" cy="1513.15" r="6.4"/><circle cx="1285.75" cy="1484.8" r="6.4"/><circle cx="1287.32" cy="1517.87" r="6.4"/><circle cx="1290.47" cy="1532.05" r="6.4"/><circle cx="1292.05" cy="1476.93" r="6.4"/><circle cx="1296.77" cy="1511.57" r="6.4"/><circle cx="1299.92" cy="1561.97" r="6.4"/><circle cx="1301.5" cy="1549.37" r="6.4"/><circle cx="1304.65" cy="1503.7" r="6.4"/><circle cx="1306.22" cy="1484.8" r="6.4"/><circle cx="1307.8" cy="1522.6" r="6.4"/><circle cx="1310.94" cy="1532.05" r="6.4"/><circle cx="1314.09" cy="1464.33" r="6.4"/><circle cx="1315.67" cy="1516.3" r="6.4"/><circle cx="1321.97" cy="1506.85" r="6.4"/><circle cx="1325.12" cy="1487.95" r="6.4"/><circle cx="1326.69" cy="1533.62" r="6.4"/><circle cx="1328.27" cy="1484.8" r="6.4"/><circle cx="1329.84" cy="1522.6" r="6.4"/><circle cx="1336.14" cy="1503.7" r="6.4"/><circle cx="1337.72" cy="1517.87" r="6.4"/><circle cx="1344.02" cy="1532.05" r="6.4"/><circle cx="1348.74" cy="1508.43" r="6.4"/><circle cx="1350.31" cy="1481.65" r="6.4"/><circle cx="1353.46" cy="1458.03" r="6.4"/><circle cx="1355.04" cy="1484.8" r="6.4"/><circle cx="1355.98" cy="1536.77" r="6.4"/><circle cx="1358.19" cy="1522.6" r="6.4"/><circle cx="1359.76" cy="1465.91" r="6.4"/><circle cx="1362.91" cy="1502.13" r="6.4"/><circle cx="1367.64" cy="1516.3" r="6.4"/><circle cx="1370.79" cy="1462.76" r="6.4"/><circle cx="1373.94" cy="1450.16" r="6.4"/><circle cx="1375.51" cy="1521.02" r="6.4"/><circle cx="1377.09" cy="1464.33" r="6.4"/><circle cx="1380.24" cy="1475.35" r="6.4"/><circle cx="1386.54" cy="1500.55" r="6.4"/><circle cx="1388.11" cy="1459.61" r="6.4"/><circle cx="1397.56" cy="1464.33" r="6.4"/><circle cx="1290.47" cy="1544.65" r="6.4"/><circle cx="1277.87" cy="1547.8" r="6.4"/>
</g>
<path d="M1262.88 1557.54L1330.54 1516.25L1402.18 1482.34L1393.82 1466.86L1326.16 1508.15L1254.52 1542.06Z" fill="#999" fill-opacity="0.36"/>
<line x1="1258.7" y1="1549.8" x2="1398" y2="1474.6" stroke="#000" stroke-width="8"/>
</g>
<g clip-path="url(#clc32)">
<g fill="#E8A317" fill-opacity="0.85" stroke="#150f05" stroke-opacity="0.9" stroke-width="2.7">
<circle cx="1494.8" cy="1526.5" r="6.4"/><circle cx="1505.74" cy="1488.18" r="6.4"/><circle cx="1432.98" cy="1565.92" r="6.4"/><circle cx="1566.48" cy="1459.69" r="6.4"/><circle cx="1488.78" cy="1525.04" r="6.4"/><circle cx="1465.12" cy="1540.27" r="6.4"/><circle cx="1495.27" cy="1479.47" r="6.4"/><circle cx="1478.03" cy="1534.16" r="6.4"/><circle cx="1522.19" cy="1488.37" r="6.4"/><circle cx="1432.2" cy="1578.7" r="6.4"/><circle cx="1517.46" cy="1495.47" r="6.4"/><circle cx="1534.17" cy="1522.25" r="6.4"/><circle cx="1467.11" cy="1513.05" r="6.4"/><circle cx="1455.24" cy="1520.14" r="6.4"/><circle cx="1536.59" cy="1498.76" r="6.4"/><circle cx="1536.35" cy="1488.99" r="6.4"/><circle cx="1486.48" cy="1534.02" r="6.4"/><circle cx="1457.68" cy="1525.36" r="6.4"/><circle cx="1548.53" cy="1505.14" r="6.4"/><circle cx="1548.07" cy="1461.36" r="6.4"/><circle cx="1459.34" cy="1518.19" r="6.4"/><circle cx="1467.55" cy="1510.96" r="6.4"/><circle cx="1461.36" cy="1521.71" r="6.4"/><circle cx="1548.6" cy="1494.36" r="6.4"/><circle cx="1475.15" cy="1540.13" r="6.4"/><circle cx="1433.84" cy="1522.6" r="6.4"/><circle cx="1455.88" cy="1554.65" r="6.4"/><circle cx="1439.41" cy="1547.78" r="6.4"/><circle cx="1442.67" cy="1572.23" r="6.4"/><circle cx="1459.39" cy="1566.8" r="6.4"/><circle cx="1432.2" cy="1572.99" r="6.4"/><circle cx="1436.93" cy="1530.47" r="6.4"/><circle cx="1440.08" cy="1550.94" r="6.4"/><circle cx="1443.23" cy="1532.05" r="6.4"/><circle cx="1444.8" cy="1572.99" r="6.4"/><circle cx="1447.95" cy="1569.84" r="6.4"/><circle cx="1451.1" cy="1510" r="6.4"/><circle cx="1452.68" cy="1522.6" r="6.4"/><circle cx="1455.83" cy="1563.54" r="6.4"/><circle cx="1458.98" cy="1511.57" r="6.4"/><circle cx="1460.55" cy="1528.9" r="6.4"/><circle cx="1468.43" cy="1550.94" r="6.4"/><circle cx="1473.15" cy="1565.12" r="6.4"/><circle cx="1476.3" cy="1465.91" r="6.4"/><circle cx="1477.87" cy="1476.93" r="6.4"/><circle cx="1479.45" cy="1519.45" r="6.4"/><circle cx="1482.6" cy="1525.75" r="6.4"/><circle cx="1485.75" cy="1484.8" r="6.4"/><circle cx="1487.32" cy="1465.91" r="6.4"/><circle cx="1488.9" cy="1565.12" r="6.4"/><circle cx="1493.62" cy="1505.28" r="6.4"/><circle cx="1495.2" cy="1550.94" r="6.4"/><circle cx="1496.77" cy="1491.1" r="6.4"/><circle cx="1498.35" cy="1533.62" r="6.4"/><circle cx="1503.07" cy="1519.45" r="6.4"/><circle cx="1506.22" cy="1478.5" r="6.4"/><circle cx="1509.37" cy="1550.94" r="6.4"/><circle cx="1510.94" cy="1476.93" r="6.4"/><circle cx="1514.09" cy="1525.75" r="6.4"/><circle cx="1518.82" cy="1492.68" r="6.4"/><circle cx="1520.39" cy="1513.15" r="6.4"/><circle cx="1523.54" cy="1519.45" r="6.4"/><circle cx="1526.69" cy="1536.77" r="6.4"/><circle cx="1528.27" cy="1478.5" r="6.4"/><circle cx="1531.42" cy="1458.03" r="6.4"/><circle cx="1532.99" cy="1491.1" r="6.4"/><circle cx="1537.72" cy="1448.58" r="6.4"/><circle cx="1539.29" cy="1513.15" r="6.4"/><circle cx="1542.44" cy="1467.48" r="6.4"/><circle cx="1544.02" cy="1525.75" r="6.4"/><circle cx="1547.17" cy="1500.55" r="6.4"/><circle cx="1548.74" cy="1459.61" r="6.4"/><circle cx="1550.31" cy="1511.57" r="6.4"/><circle cx="1558.19" cy="1533.62" r="6.4"/><circle cx="1562.91" cy="1461.18" r="6.4"/><circle cx="1572.36" cy="1486.38" r="6.4"/><circle cx="1534.57" cy="1465.91" r="6.4"/><circle cx="1523.54" cy="1481.65" r="6.4"/><circle cx="1504.65" cy="1503.7" r="6.4"/><circle cx="1485.75" cy="1550.94" r="6.4"/><circle cx="1466.85" cy="1569.84" r="6.4"/><circle cx="1452.68" cy="1576.14" r="6.4"/>
</g>
<path d="M1437.81 1558.93L1504.75 1517.64L1575.71 1483.73L1567.29 1468.27L1500.35 1509.56L1429.39 1543.47Z" fill="#999" fill-opacity="0.36"/>
<line x1="1433.6" y1="1551.2" x2="1571.5" y2="1476" stroke="#000" stroke-width="8"/>
</g>
<line x1="1065.4" y1="1091.9" x2="1076.7" y2="1091.9" stroke="#333333" stroke-width="4.2"/>
<text x="1056.8" y="1102.4" font-size="29.2" text-anchor="end" fill="#4D4D4D" stroke="#4D4D4D" stroke-width="0.35">0</text>
<line x1="1065.4" y1="1055.9" x2="1076.7" y2="1055.9" stroke="#333333" stroke-width="4.2"/>
<text x="1056.8" y="1066.4" font-size="29.2" text-anchor="end" fill="#4D4D4D" stroke="#4D4D4D" stroke-width="0.35">10</text>
<line x1="1065.4" y1="1019.9" x2="1076.7" y2="1019.9" stroke="#333333" stroke-width="4.2"/>
<text x="1056.8" y="1030.4" font-size="29.2" text-anchor="end" fill="#4D4D4D" stroke="#4D4D4D" stroke-width="0.35">20</text>
<line x1="1065.4" y1="983.9" x2="1076.7" y2="983.9" stroke="#333333" stroke-width="4.2"/>
<text x="1056.8" y="994.4" font-size="29.2" text-anchor="end" fill="#4D4D4D" stroke="#4D4D4D" stroke-width="0.35">30</text>
<line x1="1065.4" y1="1253.3" x2="1076.7" y2="1253.3" stroke="#333333" stroke-width="4.2"/>
<text x="1056.8" y="1263.8" font-size="29.2" text-anchor="end" fill="#4D4D4D" stroke="#4D4D4D" stroke-width="0.35">0</text>
<line x1="1065.4" y1="1207.9" x2="1076.7" y2="1207.9" stroke="#333333" stroke-width="4.2"/>
<text x="1056.8" y="1218.4" font-size="29.2" text-anchor="end" fill="#4D4D4D" stroke="#4D4D4D" stroke-width="0.35">2</text>
<line x1="1065.4" y1="1162.5" x2="1076.7" y2="1162.5" stroke="#333333" stroke-width="4.2"/>
<text x="1056.8" y="1173" font-size="29.2" text-anchor="end" fill="#4D4D4D" stroke="#4D4D4D" stroke-width="0.35">4</text>
<line x1="1065.4" y1="1419.6" x2="1076.7" y2="1419.6" stroke="#333333" stroke-width="4.2"/>
<text x="1056.8" y="1430.1" font-size="29.2" text-anchor="end" fill="#4D4D4D" stroke="#4D4D4D" stroke-width="0.35">0</text>
<line x1="1065.4" y1="1383.5" x2="1076.7" y2="1383.5" stroke="#333333" stroke-width="4.2"/>
<text x="1056.8" y="1394" font-size="29.2" text-anchor="end" fill="#4D4D4D" stroke="#4D4D4D" stroke-width="0.35">1</text>
<line x1="1065.4" y1="1347.4" x2="1076.7" y2="1347.4" stroke="#333333" stroke-width="4.2"/>
<text x="1056.8" y="1357.9" font-size="29.2" text-anchor="end" fill="#4D4D4D" stroke="#4D4D4D" stroke-width="0.35">2</text>
<line x1="1065.4" y1="1311.3" x2="1076.7" y2="1311.3" stroke="#333333" stroke-width="4.2"/>
<text x="1056.8" y="1321.8" font-size="29.2" text-anchor="end" fill="#4D4D4D" stroke="#4D4D4D" stroke-width="0.35">3</text>
<line x1="1065.4" y1="1579.9" x2="1076.7" y2="1579.9" stroke="#333333" stroke-width="4.2"/>
<text x="1056.8" y="1590.4" font-size="29.2" text-anchor="end" fill="#4D4D4D" stroke="#4D4D4D" stroke-width="0.35">0</text>
<line x1="1065.4" y1="1548.8" x2="1076.7" y2="1548.8" stroke="#333333" stroke-width="4.2"/>
<text x="1056.8" y="1559.3" font-size="29.2" text-anchor="end" fill="#4D4D4D" stroke="#4D4D4D" stroke-width="0.35">1</text>
<line x1="1065.4" y1="1517.7" x2="1076.7" y2="1517.7" stroke="#333333" stroke-width="4.2"/>
<text x="1056.8" y="1528.2" font-size="29.2" text-anchor="end" fill="#4D4D4D" stroke="#4D4D4D" stroke-width="0.35">2</text>
<line x1="1065.4" y1="1486.6" x2="1076.7" y2="1486.6" stroke="#333333" stroke-width="4.2"/>
<text x="1056.8" y="1497.1" font-size="29.2" text-anchor="end" fill="#4D4D4D" stroke="#4D4D4D" stroke-width="0.35">3</text>
<line x1="1065.4" y1="1455.5" x2="1076.7" y2="1455.5" stroke="#333333" stroke-width="4.2"/>
<text x="1056.8" y="1466" font-size="29.2" text-anchor="end" fill="#4D4D4D" stroke="#4D4D4D" stroke-width="0.35">4</text>
<line x1="1077.3" y1="1581.7" x2="1077.3" y2="1592.7" stroke="#333333" stroke-width="4.2"/>
<text x="1077.3" y="1626" font-size="29" text-anchor="middle" fill="#4D4D4D" stroke="#4D4D4D" stroke-width="0.35">2</text>
<line x1="1109.42" y1="1581.7" x2="1109.42" y2="1592.7" stroke="#333333" stroke-width="4.2"/>
<text x="1109.42" y="1626" font-size="29" text-anchor="middle" fill="#4D4D4D" stroke="#4D4D4D" stroke-width="0.35">4</text>
<line x1="1141.54" y1="1581.7" x2="1141.54" y2="1592.7" stroke="#333333" stroke-width="4.2"/>
<text x="1141.54" y="1626" font-size="29" text-anchor="middle" fill="#4D4D4D" stroke="#4D4D4D" stroke-width="0.35">6</text>
<line x1="1173.66" y1="1581.7" x2="1173.66" y2="1592.7" stroke="#333333" stroke-width="4.2"/>
<text x="1173.66" y="1626" font-size="29" text-anchor="middle" fill="#4D4D4D" stroke="#4D4D4D" stroke-width="0.35">8</text>
<line x1="1205.78" y1="1581.7" x2="1205.78" y2="1592.7" stroke="#333333" stroke-width="4.2"/>
<text x="1205.78" y="1626" font-size="29" text-anchor="middle" fill="#4D4D4D" stroke="#4D4D4D" stroke-width="0.35">10</text>
<line x1="1258.1" y1="1581.7" x2="1258.1" y2="1592.7" stroke="#333333" stroke-width="4.2"/>
<text x="1258.1" y="1626" font-size="29" text-anchor="middle" fill="#4D4D4D" stroke="#4D4D4D" stroke-width="0.35">0</text>
<line x1="1308.3" y1="1581.7" x2="1308.3" y2="1592.7" stroke="#333333" stroke-width="4.2"/>
<text x="1308.3" y="1626" font-size="29" text-anchor="middle" fill="#4D4D4D" stroke="#4D4D4D" stroke-width="0.35">2</text>
<line x1="1358.5" y1="1581.7" x2="1358.5" y2="1592.7" stroke="#333333" stroke-width="4.2"/>
<text x="1358.5" y="1626" font-size="29" text-anchor="middle" fill="#4D4D4D" stroke="#4D4D4D" stroke-width="0.35">4</text>
<line x1="1427.2" y1="1581.7" x2="1427.2" y2="1592.7" stroke="#333333" stroke-width="4.2"/>
<text x="1427.2" y="1626" font-size="29" text-anchor="middle" fill="#4D4D4D" stroke="#4D4D4D" stroke-width="0.35">0</text>
<line x1="1467" y1="1581.7" x2="1467" y2="1592.7" stroke="#333333" stroke-width="4.2"/>
<text x="1467" y="1626" font-size="29" text-anchor="middle" fill="#4D4D4D" stroke="#4D4D4D" stroke-width="0.35">1</text>
<line x1="1506.8" y1="1581.7" x2="1506.8" y2="1592.7" stroke="#333333" stroke-width="4.2"/>
<text x="1506.8" y="1626" font-size="29" text-anchor="middle" fill="#4D4D4D" stroke="#4D4D4D" stroke-width="0.35">2</text>
<line x1="1546.6" y1="1581.7" x2="1546.6" y2="1592.7" stroke="#333333" stroke-width="4.2"/>
<text x="1546.6" y="1626" font-size="29" text-anchor="middle" fill="#4D4D4D" stroke="#4D4D4D" stroke-width="0.35">3</text>
<line x1="1605.6" y1="1581.7" x2="1605.6" y2="1592.7" stroke="#333333" stroke-width="4.2"/>
<text x="1605.6" y="1626" font-size="29" text-anchor="middle" fill="#4D4D4D" stroke="#4D4D4D" stroke-width="0.35">0</text>
<line x1="1638.7" y1="1581.7" x2="1638.7" y2="1592.7" stroke="#333333" stroke-width="4.2"/>
<text x="1638.7" y="1626" font-size="29" text-anchor="middle" fill="#4D4D4D" stroke="#4D4D4D" stroke-width="0.35">1</text>
<line x1="1671.8" y1="1581.7" x2="1671.8" y2="1592.7" stroke="#333333" stroke-width="4.2"/>
<text x="1671.8" y="1626" font-size="29" text-anchor="middle" fill="#4D4D4D" stroke="#4D4D4D" stroke-width="0.35">2</text>
<line x1="1704.9" y1="1581.7" x2="1704.9" y2="1592.7" stroke="#333333" stroke-width="4.2"/>
<text x="1704.9" y="1626" font-size="29" text-anchor="middle" fill="#4D4D4D" stroke="#4D4D4D" stroke-width="0.35">3</text>
<line x1="1738" y1="1581.7" x2="1738" y2="1592.7" stroke="#333333" stroke-width="4.2"/>
<text x="1738" y="1626" font-size="29" text-anchor="middle" fill="#4D4D4D" stroke="#4D4D4D" stroke-width="0.35">4</text>
<text x="1416.2" y="1669" font-size="36.85" text-anchor="middle" stroke="#000" stroke-width="0.3">Arbitrary Units (log1p transformed)</text>
<text x="1006.3" y="1271" font-size="36.85" text-anchor="middle" stroke="#000" stroke-width="0.3" transform="rotate(-90 1006.3 1271)">Arbitrary Units (log1p transformed)</text>
</g>
<g id="pd">
<text x="-2.8" y="1777.9" font-size="82.5" font-weight="bold">d</text>
<text x="304.8" y="1761.8" font-size="44.2" stroke="#000" stroke-width="0.3">Correlation in weeks 1-2</text>
<rect x="306.4" y="1794.3" width="451.8" height="451" fill="#fff"/>
<path d="M323.2 1794.3V2245.3M306.4 1811.3H758.2M353.04 1794.3V2245.3M306.4 1841.14H758.2M382.88 1794.3V2245.3M306.4 1870.98H758.2M412.72 1794.3V2245.3M306.4 1900.82H758.2M442.56 1794.3V2245.3M306.4 1930.66H758.2M472.4 1794.3V2245.3M306.4 1960.5H758.2M502.24 1794.3V2245.3M306.4 1990.34H758.2M532.08 1794.3V2245.3M306.4 2020.18H758.2M561.92 1794.3V2245.3M306.4 2050.02H758.2M591.76 1794.3V2245.3M306.4 2079.86H758.2M621.6 1794.3V2245.3M306.4 2109.7H758.2M651.44 1794.3V2245.3M306.4 2139.54H758.2M681.28 1794.3V2245.3M306.4 2169.38H758.2M711.12 1794.3V2245.3M306.4 2199.22H758.2M740.96 1794.3V2245.3M306.4 2229.06H758.2" stroke="#EBEBEB" stroke-width="4" fill="none"/>
<defs><clipPath id="cld"><rect x="306.4" y="1794.3" width="451.8" height="451"/></clipPath></defs>
<g clip-path="url(#cld)">
<rect x="308.28" y="2214.14" width="29.84" height="29.84" fill="#4fd57b" stroke="#C8C8C8" stroke-width="0.7"/>
<rect x="338.12" y="2214.14" width="29.84" height="29.84" fill="#5dd883" stroke="#C8C8C8" stroke-width="0.7"/>
<rect x="367.96" y="2214.14" width="29.84" height="29.84" fill="#76dd92" stroke="#C8C8C8" stroke-width="0.7"/>
<rect x="397.8" y="2214.14" width="29.84" height="29.84" fill="#58d780" stroke="#C8C8C8" stroke-width="0.7"/>
<rect x="427.64" y="2214.14" width="29.84" height="29.84" fill="#68da89" stroke="#C8C8C8" stroke-width="0.7"/>
<rect x="457.48" y="2214.14" width="29.84" height="29.84" fill="#6ada8a" stroke="#C8C8C8" stroke-width="0.7"/>
<rect x="487.32" y="2214.14" width="29.84" height="29.84" fill="#6fdc8d" stroke="#C8C8C8" stroke-width="0.7"/>
<rect x="517.16" y="2214.14" width="29.84" height="29.84" fill="#aaeab8" stroke="#C8C8C8" stroke-width="0.7"/>
<rect x="547" y="2214.14" width="29.84" height="29.84" fill="#98e5aa" stroke="#C8C8C8" stroke-width="0.7"/>
<rect x="576.84" y="2214.14" width="29.84" height="29.84" fill="#83e09b" stroke="#C8C8C8" stroke-width="0.7"/>
<rect x="606.68" y="2214.14" width="29.84" height="29.84" fill="#ddf7e1" stroke="#C8C8C8" stroke-width="0.7"/>
<rect x="636.52" y="2214.14" width="29.84" height="29.84" fill="#ebfaee" stroke="#C8C8C8" stroke-width="0.7"/>
<rect x="666.36" y="2214.14" width="29.84" height="29.84" fill="#ffeee9" stroke="#C8C8C8" stroke-width="0.7"/>
<rect x="696.2" y="2214.14" width="29.84" height="29.84" fill="#cef3d5" stroke="#C8C8C8" stroke-width="0.7"/>
<rect x="726.04" y="2214.14" width="29.84" height="29.84" fill="#b4ecbf" stroke="#C8C8C8" stroke-width="0.7"/>
<rect x="338.12" y="2184.3" width="29.84" height="29.84" fill="#71dc8f" stroke="#C8C8C8" stroke-width="0.7"/>
<rect x="367.96" y="2184.3" width="29.84" height="29.84" fill="#74dd90" stroke="#C8C8C8" stroke-width="0.7"/>
<rect x="397.8" y="2184.3" width="29.84" height="29.84" fill="#5dd883" stroke="#C8C8C8" stroke-width="0.7"/>
<rect x="427.64" y="2184.3" width="29.84" height="29.84" fill="#6ada8a" stroke="#C8C8C8" stroke-width="0.7"/>
<rect x="457.48" y="2184.3" width="29.84" height="29.84" fill="#90e3a4" stroke="#C8C8C8" stroke-width="0.7"/>
<rect x="487.32" y="2184.3" width="29.84" height="29.84" fill="#88e19e" stroke="#C8C8C8" stroke-width="0.7"/>
<rect x="517.16" y="2184.3" width="29.84" height="29.84" fill="#a8e9b6" stroke="#C8C8C8" stroke-width="0.7"/>
<rect x="547" y="2184.3" width="29.84" height="29.84" fill="#98e5aa" stroke="#C8C8C8" stroke-width="0.7"/>
<rect x="576.84" y="2184.3" width="29.84" height="29.84" fill="#92e4a5" stroke="#C8C8C8" stroke-width="0.7"/>
<rect x="606.68" y="2184.3" width="29.84" height="29.84" fill="#e2f8e6" stroke="#C8C8C8" stroke-width="0.7"/>
<rect x="636.52" y="2184.3" width="29.84" height="29.84" fill="#f6fdf7" stroke="#C8C8C8" stroke-width="0.7"/>
<rect x="666.36" y="2184.3" width="29.84" height="29.84" fill="#ffefeb" stroke="#C8C8C8" stroke-width="0.7"/>
<rect x="696.2" y="2184.3" width="29.84" height="29.84" fill="#dff7e3" stroke="#C8C8C8" stroke-width="0.7"/>
<rect x="726.04" y="2184.3" width="29.84" height="29.84" fill="#b4ecbf" stroke="#C8C8C8" stroke-width="0.7"/>
<rect x="367.96" y="2154.46" width="29.84" height="29.84" fill="#96e5a9" stroke="#C8C8C8" stroke-width="0.7"/>
<rect x="397.8" y="2154.46" width="29.84" height="29.84" fill="#6fdc8d" stroke="#C8C8C8" stroke-width="0.7"/>
<rect x="427.64" y="2154.46" width="29.84" height="29.84" fill="#83e09b" stroke="#C8C8C8" stroke-width="0.7"/>
<rect x="457.48" y="2154.46" width="29.84" height="29.84" fill="#60d884" stroke="#C8C8C8" stroke-width="0.7"/>
<rect x="487.32" y="2154.46" width="29.84" height="29.84" fill="#8ce2a1" stroke="#C8C8C8" stroke-width="0.7"/>
<rect x="517.16" y="2154.46" width="29.84" height="29.84" fill="#b6edc1" stroke="#C8C8C8" stroke-width="0.7"/>
<rect x="547" y="2154.46" width="29.84" height="29.84" fill="#a8e9b6" stroke="#C8C8C8" stroke-width="0.7"/>
<rect x="576.84" y="2154.46" width="29.84" height="29.84" fill="#96e5a9" stroke="#C8C8C8" stroke-width="0.7"/>
<rect x="606.68" y="2154.46" width="29.84" height="29.84" fill="#eafaec" stroke="#C8C8C8" stroke-width="0.7"/>
<rect x="636.52" y="2154.46" width="29.84" height="29.84" fill="#edfbef" stroke="#C8C8C8" stroke-width="0.7"/>
<rect x="666.36" y="2154.46" width="29.84" height="29.84" fill="#fff1ed" stroke="#C8C8C8" stroke-width="0.7"/>
<rect x="696.2" y="2154.46" width="29.84" height="29.84" fill="#e2f8e6" stroke="#C8C8C8" stroke-width="0.7"/>
<rect x="726.04" y="2154.46" width="29.84" height="29.84" fill="#b8edc2" stroke="#C8C8C8" stroke-width="0.7"/>
<rect x="397.8" y="2124.62" width="29.84" height="29.84" fill="#81e099" stroke="#C8C8C8" stroke-width="0.7"/>
<rect x="427.64" y="2124.62" width="29.84" height="29.84" fill="#8ee3a2" stroke="#C8C8C8" stroke-width="0.7"/>
<rect x="457.48" y="2124.62" width="29.84" height="29.84" fill="#a0e7b0" stroke="#C8C8C8" stroke-width="0.7"/>
<rect x="487.32" y="2124.62" width="29.84" height="29.84" fill="#7bde95" stroke="#C8C8C8" stroke-width="0.7"/>
<rect x="517.16" y="2124.62" width="29.84" height="29.84" fill="#c1f0ca" stroke="#C8C8C8" stroke-width="0.7"/>
<rect x="547" y="2124.62" width="29.84" height="29.84" fill="#b6edc1" stroke="#C8C8C8" stroke-width="0.7"/>
<rect x="576.84" y="2124.62" width="29.84" height="29.84" fill="#aaeab8" stroke="#C8C8C8" stroke-width="0.7"/>
<rect x="606.68" y="2124.62" width="29.84" height="29.84" fill="#f8fdf9" stroke="#C8C8C8" stroke-width="0.7"/>
<rect x="636.52" y="2124.62" width="29.84" height="29.84" fill="#f1fcf2" stroke="#C8C8C8" stroke-width="0.7"/>
<rect x="666.36" y="2124.62" width="29.84" height="29.84" fill="#ffeee9" stroke="#C8C8C8" stroke-width="0.7"/>
<rect x="696.2" y="2124.62" width="29.84" height="29.84" fill="#dbf6e0" stroke="#C8C8C8" stroke-width="0.7"/>
<rect x="726.04" y="2124.62" width="29.84" height="29.84" fill="#c7f1cf" stroke="#C8C8C8" stroke-width="0.7"/>
<rect x="427.64" y="2094.78" width="29.84" height="29.84" fill="#60d884" stroke="#C8C8C8" stroke-width="0.7"/>
<rect x="457.48" y="2094.78" width="29.84" height="29.84" fill="#78de93" stroke="#C8C8C8" stroke-width="0.7"/>
<rect x="487.32" y="2094.78" width="29.84" height="29.84" fill="#6fdc8d" stroke="#C8C8C8" stroke-width="0.7"/>
<rect x="517.16" y="2094.78" width="29.84" height="29.84" fill="#b2ecbe" stroke="#C8C8C8" stroke-width="0.7"/>
<rect x="547" y="2094.78" width="29.84" height="29.84" fill="#8ee3a2" stroke="#C8C8C8" stroke-width="0.7"/>
<rect x="576.84" y="2094.78" width="29.84" height="29.84" fill="#83e09b" stroke="#C8C8C8" stroke-width="0.7"/>
<rect x="606.68" y="2094.78" width="29.84" height="29.84" fill="#e4f9e7" stroke="#C8C8C8" stroke-width="0.7"/>
<rect x="636.52" y="2094.78" width="29.84" height="29.84" fill="#dbf6e0" stroke="#C8C8C8" stroke-width="0.7"/>
<rect x="666.36" y="2094.78" width="29.84" height="29.84" fill="#fff6f3" stroke="#C8C8C8" stroke-width="0.7"/>
<rect x="696.2" y="2094.78" width="29.84" height="29.84" fill="#dbf6e0" stroke="#C8C8C8" stroke-width="0.7"/>
<rect x="726.04" y="2094.78" width="29.84" height="29.84" fill="#b2ecbe" stroke="#C8C8C8" stroke-width="0.7"/>
<rect x="457.48" y="2064.94" width="29.84" height="29.84" fill="#8ce2a1" stroke="#C8C8C8" stroke-width="0.7"/>
<rect x="487.32" y="2064.94" width="29.84" height="29.84" fill="#83e09b" stroke="#C8C8C8" stroke-width="0.7"/>
<rect x="517.16" y="2064.94" width="29.84" height="29.84" fill="#9ce6ad" stroke="#C8C8C8" stroke-width="0.7"/>
<rect x="547" y="2064.94" width="29.84" height="29.84" fill="#81e099" stroke="#C8C8C8" stroke-width="0.7"/>
<rect x="576.84" y="2064.94" width="29.84" height="29.84" fill="#88e19e" stroke="#C8C8C8" stroke-width="0.7"/>
<rect x="606.68" y="2064.94" width="29.84" height="29.84" fill="#e0f8e4" stroke="#C8C8C8" stroke-width="0.7"/>
<rect x="636.52" y="2064.94" width="29.84" height="29.84" fill="#e8f9eb" stroke="#C8C8C8" stroke-width="0.7"/>
<rect x="666.36" y="2064.94" width="29.84" height="29.84" fill="#fff9f7" stroke="#C8C8C8" stroke-width="0.7"/>
<rect x="696.2" y="2064.94" width="29.84" height="29.84" fill="#ddf7e1" stroke="#C8C8C8" stroke-width="0.7"/>
<rect x="726.04" y="2064.94" width="29.84" height="29.84" fill="#c5f1cd" stroke="#C8C8C8" stroke-width="0.7"/>
<rect x="487.32" y="2035.1" width="29.84" height="29.84" fill="#8ae29f" stroke="#C8C8C8" stroke-width="0.7"/>
<rect x="517.16" y="2035.1" width="29.84" height="29.84" fill="#ccf3d3" stroke="#C8C8C8" stroke-width="0.7"/>
<rect x="547" y="2035.1" width="29.84" height="29.84" fill="#aceab9" stroke="#C8C8C8" stroke-width="0.7"/>
<rect x="576.84" y="2035.1" width="29.84" height="29.84" fill="#98e5aa" stroke="#C8C8C8" stroke-width="0.7"/>
<rect x="606.68" y="2035.1" width="29.84" height="29.84" fill="#effbf1" stroke="#C8C8C8" stroke-width="0.7"/>
<rect x="636.52" y="2035.1" width="29.84" height="29.84" fill="#e2f8e6" stroke="#C8C8C8" stroke-width="0.7"/>
<rect x="666.36" y="2035.1" width="29.84" height="29.84" fill="#fff6f3" stroke="#C8C8C8" stroke-width="0.7"/>
<rect x="696.2" y="2035.1" width="29.84" height="29.84" fill="#dbf6e0" stroke="#C8C8C8" stroke-width="0.7"/>
<rect x="726.04" y="2035.1" width="29.84" height="29.84" fill="#c9f2d0" stroke="#C8C8C8" stroke-width="0.7"/>
<rect x="517.16" y="2005.26" width="29.84" height="29.84" fill="#c5f1cd" stroke="#C8C8C8" stroke-width="0.7"/>
<rect x="547" y="2005.26" width="29.84" height="29.84" fill="#aeebbb" stroke="#C8C8C8" stroke-width="0.7"/>
<rect x="576.84" y="2005.26" width="29.84" height="29.84" fill="#9ce6ad" stroke="#C8C8C8" stroke-width="0.7"/>
<rect x="606.68" y="2005.26" width="29.84" height="29.84" fill="#eafaec" stroke="#C8C8C8" stroke-width="0.7"/>
<rect x="636.52" y="2005.26" width="29.84" height="29.84" fill="#d7f5dd" stroke="#C8C8C8" stroke-width="0.7"/>
<rect x="666.36" y="2005.26" width="29.84" height="29.84" fill="#fff9f7" stroke="#C8C8C8" stroke-width="0.7"/>
<rect x="696.2" y="2005.26" width="29.84" height="29.84" fill="#ebfaee" stroke="#C8C8C8" stroke-width="0.7"/>
<rect x="726.04" y="2005.26" width="29.84" height="29.84" fill="#c3f0cc" stroke="#C8C8C8" stroke-width="0.7"/>
<rect x="547" y="1975.42" width="29.84" height="29.84" fill="#a2e8b2" stroke="#C8C8C8" stroke-width="0.7"/>
<rect x="576.84" y="1975.42" width="29.84" height="29.84" fill="#bdefc7" stroke="#C8C8C8" stroke-width="0.7"/>
<rect x="606.68" y="1975.42" width="29.84" height="29.84" fill="#d0f4d6" stroke="#C8C8C8" stroke-width="0.7"/>
<rect x="636.52" y="1975.42" width="29.84" height="29.84" fill="#fbfefc" stroke="#C8C8C8" stroke-width="0.7"/>
<rect x="666.36" y="1975.42" width="29.84" height="29.84" fill="#fff6f3" stroke="#C8C8C8" stroke-width="0.7"/>
<rect x="696.2" y="1975.42" width="29.84" height="29.84" fill="#d7f5dd" stroke="#C8C8C8" stroke-width="0.7"/>
<rect x="726.04" y="1975.42" width="29.84" height="29.84" fill="#ddf7e1" stroke="#C8C8C8" stroke-width="0.7"/>
<rect x="576.84" y="1945.58" width="29.84" height="29.84" fill="#6fdc8d" stroke="#C8C8C8" stroke-width="0.7"/>
<rect x="606.68" y="1945.58" width="29.84" height="29.84" fill="#caf2d2" stroke="#C8C8C8" stroke-width="0.7"/>
<rect x="636.52" y="1945.58" width="29.84" height="29.84" fill="#f8fdf9" stroke="#C8C8C8" stroke-width="0.7"/>
<rect x="666.36" y="1945.58" width="29.84" height="29.84" fill="#ffdbd1" stroke="#C8C8C8" stroke-width="0.7"/>
<rect x="696.2" y="1945.58" width="29.84" height="29.84" fill="#c1f0ca" stroke="#C8C8C8" stroke-width="0.7"/>
<rect x="726.04" y="1945.58" width="29.84" height="29.84" fill="#d2f4d8" stroke="#C8C8C8" stroke-width="0.7"/>
<rect x="606.68" y="1915.74" width="29.84" height="29.84" fill="#d4f4d9" stroke="#C8C8C8" stroke-width="0.7"/>
<rect x="636.52" y="1915.74" width="29.84" height="29.84" fill="#f6fdf7" stroke="#C8C8C8" stroke-width="0.7"/>
<rect x="666.36" y="1915.74" width="29.84" height="29.84" fill="#ffe9e3" stroke="#C8C8C8" stroke-width="0.7"/>
<rect x="696.2" y="1915.74" width="29.84" height="29.84" fill="#c5f1cd" stroke="#C8C8C8" stroke-width="0.7"/>
<rect x="726.04" y="1915.74" width="29.84" height="29.84" fill="#cef3d5" stroke="#C8C8C8" stroke-width="0.7"/>
<rect x="636.52" y="1885.9" width="29.84" height="29.84" fill="#e0f8e4" stroke="#C8C8C8" stroke-width="0.7"/>
<rect x="666.36" y="1885.9" width="29.84" height="29.84" fill="#f6fdf7" stroke="#C8C8C8" stroke-width="0.7"/>
<rect x="696.2" y="1885.9" width="29.84" height="29.84" fill="#fbfefc" stroke="#C8C8C8" stroke-width="0.7"/>
<rect x="726.04" y="1885.9" width="29.84" height="29.84" fill="#edfbef" stroke="#C8C8C8" stroke-width="0.7"/>
<rect x="666.36" y="1856.06" width="29.84" height="29.84" fill="#e4f9e7" stroke="#C8C8C8" stroke-width="0.7"/>
<rect x="696.2" y="1856.06" width="29.84" height="29.84" fill="#ffefeb" stroke="#C8C8C8" stroke-width="0.7"/>
<rect x="726.04" y="1856.06" width="29.84" height="29.84" fill="#e2f8e6" stroke="#C8C8C8" stroke-width="0.7"/>
<rect x="696.2" y="1826.22" width="29.84" height="29.84" fill="#ffdcd3" stroke="#C8C8C8" stroke-width="0.7"/>
<rect x="726.04" y="1826.22" width="29.84" height="29.84" fill="#ffe1d9" stroke="#C8C8C8" stroke-width="0.7"/>
<rect x="726.04" y="1796.38" width="29.84" height="29.84" fill="#d7f5dd" stroke="#C8C8C8" stroke-width="0.7"/>
<g font-size="16.1" text-anchor="middle" fill="#000" stroke="#000" stroke-width="0.3">
<text x="323.2" y="2234.96">0.86</text>
<text x="353.04" y="2234.96">0.81</text>
<text x="382.88" y="2234.96">0.71</text>
<text x="412.72" y="2234.96">0.83</text>
<text x="442.56" y="2234.96">0.77</text>
<text x="472.4" y="2234.96">0.76</text>
<text x="502.24" y="2234.96">0.74</text>
<text x="532.08" y="2234.96">0.46</text>
<text x="561.92" y="2234.96">0.55</text>
<text x="591.76" y="2234.96">0.65</text>
<text x="621.6" y="2234.96">0.19</text>
<text x="651.44" y="2234.96">0.11</text>
<text x="681.28" y="2234.96">-0.11</text>
<text x="711.12" y="2234.96">0.27</text>
<text x="740.96" y="2234.96">0.41</text>
<text x="353.04" y="2205.12">0.73</text>
<text x="382.88" y="2205.12">0.72</text>
<text x="412.72" y="2205.12">0.81</text>
<text x="442.56" y="2205.12">0.76</text>
<text x="472.4" y="2205.12">0.59</text>
<text x="502.24" y="2205.12">0.63</text>
<text x="532.08" y="2205.12">0.47</text>
<text x="561.92" y="2205.12">0.55</text>
<text x="591.76" y="2205.12">0.58</text>
<text x="621.6" y="2205.12">0.16</text>
<text x="651.44" y="2205.12">0.05</text>
<text x="681.28" y="2205.12">-0.1</text>
<text x="711.12" y="2205.12">0.18</text>
<text x="740.96" y="2205.12">0.41</text>
<text x="382.88" y="2175.28">0.56</text>
<text x="412.72" y="2175.28">0.74</text>
<text x="442.56" y="2175.28">0.65</text>
<text x="472.4" y="2175.28">0.8</text>
<text x="502.24" y="2175.28">0.61</text>
<text x="532.08" y="2175.28">0.4</text>
<text x="561.92" y="2175.28">0.47</text>
<text x="591.76" y="2175.28">0.56</text>
<text x="621.6" y="2175.28">0.12</text>
<text x="651.44" y="2175.28">0.1</text>
<text x="681.28" y="2175.28">-0.09</text>
<text x="711.12" y="2175.28">0.16</text>
<text x="740.96" y="2175.28">0.39</text>
<text x="412.72" y="2145.44">0.66</text>
<text x="442.56" y="2145.44">0.6</text>
<text x="472.4" y="2145.44">0.51</text>
<text x="502.24" y="2145.44">0.69</text>
<text x="532.08" y="2145.44">0.34</text>
<text x="561.92" y="2145.44">0.4</text>
<text x="591.76" y="2145.44">0.46</text>
<text x="621.6" y="2145.44">0.04</text>
<text x="651.44" y="2145.44">0.08</text>
<text x="681.28" y="2145.44">-0.11</text>
<text x="711.12" y="2145.44">0.2</text>
<text x="740.96" y="2145.44">0.31</text>
<text x="442.56" y="2115.6">0.8</text>
<text x="472.4" y="2115.6">0.7</text>
<text x="502.24" y="2115.6">0.74</text>
<text x="532.08" y="2115.6">0.42</text>
<text x="561.92" y="2115.6">0.6</text>
<text x="591.76" y="2115.6">0.65</text>
<text x="621.6" y="2115.6">0.15</text>
<text x="651.44" y="2115.6">0.2</text>
<text x="681.28" y="2115.6">-0.06</text>
<text x="711.12" y="2115.6">0.2</text>
<text x="740.96" y="2115.6">0.42</text>
<text x="472.4" y="2085.76">0.61</text>
<text x="502.24" y="2085.76">0.65</text>
<text x="532.08" y="2085.76">0.53</text>
<text x="561.92" y="2085.76">0.66</text>
<text x="591.76" y="2085.76">0.63</text>
<text x="621.6" y="2085.76">0.17</text>
<text x="651.44" y="2085.76">0.13</text>
<text x="681.28" y="2085.76">-0.04</text>
<text x="711.12" y="2085.76">0.19</text>
<text x="740.96" y="2085.76">0.32</text>
<text x="502.24" y="2055.92">0.62</text>
<text x="532.08" y="2055.92">0.28</text>
<text x="561.92" y="2055.92">0.45</text>
<text x="591.76" y="2055.92">0.55</text>
<text x="621.6" y="2055.92">0.09</text>
<text x="651.44" y="2055.92">0.16</text>
<text x="681.28" y="2055.92">-0.06</text>
<text x="711.12" y="2055.92">0.2</text>
<text x="740.96" y="2055.92">0.3</text>
<text x="532.08" y="2026.08">0.32</text>
<text x="561.92" y="2026.08">0.44</text>
<text x="591.76" y="2026.08">0.53</text>
<text x="621.6" y="2026.08">0.12</text>
<text x="651.44" y="2026.08">0.22</text>
<text x="681.28" y="2026.08">-0.04</text>
<text x="711.12" y="2026.08">0.11</text>
<text x="740.96" y="2026.08">0.33</text>
<text x="561.92" y="1996.24">0.5</text>
<text x="591.76" y="1996.24">0.36</text>
<text x="621.6" y="1996.24">0.26</text>
<text x="651.44" y="1996.24">0.02</text>
<text x="681.28" y="1996.24">-0.06</text>
<text x="711.12" y="1996.24">0.22</text>
<text x="740.96" y="1996.24">0.19</text>
<text x="591.76" y="1966.4">0.74</text>
<text x="621.6" y="1966.4">0.29</text>
<text x="651.44" y="1966.4">0.04</text>
<text x="681.28" y="1966.4">-0.23</text>
<text x="711.12" y="1966.4">0.34</text>
<text x="740.96" y="1966.4">0.25</text>
<text x="621.6" y="1936.56">0.24</text>
<text x="651.44" y="1936.56">0.05</text>
<text x="681.28" y="1936.56">-0.14</text>
<text x="711.12" y="1936.56">0.32</text>
<text x="740.96" y="1936.56">0.27</text>
<text x="651.44" y="1906.72">0.17</text>
<text x="681.28" y="1906.72">0.05</text>
<text x="711.12" y="1906.72">0.02</text>
<text x="740.96" y="1906.72">0.1</text>
<text x="681.28" y="1876.88">0.15</text>
<text x="711.12" y="1876.88">-0.1</text>
<text x="740.96" y="1876.88">0.16</text>
<text x="711.12" y="1847.04">-0.22</text>
<text x="740.96" y="1847.04">-0.19</text>
<text x="740.96" y="1817.2">0.22</text>
</g>
</g>
<path d="M599.2 2206.66L644 2251.46M599.2 2251.46L644 2206.66M629.04 2206.66L673.84 2251.46M629.04 2251.46L673.84 2206.66M658.88 2206.66L703.68 2251.46M658.88 2251.46L703.68 2206.66M599.2 2176.82L644 2221.62M599.2 2221.62L644 2176.82M629.04 2176.82L673.84 2221.62M629.04 2221.62L673.84 2176.82M658.88 2176.82L703.68 2221.62M658.88 2221.62L703.68 2176.82M688.72 2176.82L733.52 2221.62M688.72 2221.62L733.52 2176.82M599.2 2146.98L644 2191.78M599.2 2191.78L644 2146.98M629.04 2146.98L673.84 2191.78M629.04 2191.78L673.84 2146.98M658.88 2146.98L703.68 2191.78M658.88 2191.78L703.68 2146.98M688.72 2146.98L733.52 2191.78M688.72 2191.78L733.52 2146.98M599.2 2117.14L644 2161.94M599.2 2161.94L644 2117.14M629.04 2117.14L673.84 2161.94M629.04 2161.94L673.84 2117.14M658.88 2117.14L703.68 2161.94M658.88 2161.94L703.68 2117.14M599.2 2087.3L644 2132.1M599.2 2132.1L644 2087.3M658.88 2087.3L703.68 2132.1M658.88 2132.1L703.68 2087.3M599.2 2057.46L644 2102.26M599.2 2102.26L644 2057.46M629.04 2057.46L673.84 2102.26M629.04 2102.26L673.84 2057.46M658.88 2057.46L703.68 2102.26M658.88 2102.26L703.68 2057.46M688.72 2057.46L733.52 2102.26M688.72 2102.26L733.52 2057.46M599.2 2027.62L644 2072.42M599.2 2072.42L644 2027.62M629.04 2027.62L673.84 2072.42M629.04 2072.42L673.84 2027.62M658.88 2027.62L703.68 2072.42M658.88 2072.42L703.68 2027.62M599.2 1997.78L644 2042.58M599.2 2042.58L644 1997.78M658.88 1997.78L703.68 2042.58M658.88 2042.58L703.68 1997.78M688.72 1997.78L733.52 2042.58M688.72 2042.58L733.52 1997.78M629.04 1967.94L673.84 2012.74M629.04 2012.74L673.84 1967.94M658.88 1967.94L703.68 2012.74M658.88 2012.74L703.68 1967.94M718.56 1967.94L763.36 2012.74M718.56 2012.74L763.36 1967.94M629.04 1938.1L673.84 1982.9M629.04 1982.9L673.84 1938.1M629.04 1908.26L673.84 1953.06M629.04 1953.06L673.84 1908.26M658.88 1908.26L703.68 1953.06M658.88 1953.06L703.68 1908.26M629.04 1878.42L673.84 1923.22M629.04 1923.22L673.84 1878.42M658.88 1878.42L703.68 1923.22M658.88 1923.22L703.68 1878.42M688.72 1878.42L733.52 1923.22M688.72 1923.22L733.52 1878.42M718.56 1878.42L763.36 1923.22M718.56 1923.22L763.36 1878.42M658.88 1848.58L703.68 1893.38M658.88 1893.38L703.68 1848.58M688.72 1848.58L733.52 1893.38M688.72 1893.38L733.52 1848.58M718.56 1848.58L763.36 1893.38M718.56 1893.38L763.36 1848.58M718.56 1818.74L763.36 1863.54M718.56 1863.54L763.36 1818.74" stroke="#000" stroke-width="2.9" stroke-linecap="round" fill="none" clip-path="url(#cld2)"/>
<defs><clipPath id="cld2"><rect x="276.4" y="1764.3" width="481.8" height="481"/></clipPath></defs>
<rect x="306.4" y="1794.3" width="451.8" height="451" fill="none" stroke="#333333" stroke-width="2.4"/>
<line x1="293.9" y1="1811.3" x2="305.4" y2="1811.3" stroke="#333333" stroke-width="3.8"/>
<text x="286" y="1819.8" font-size="24" text-anchor="end" stroke="#000" stroke-width="0.25">bmi</text>
<line x1="323.2" y1="2246.3" x2="323.2" y2="2257.7" stroke="#333333" stroke-width="3.8"/>
<text x="332" y="2267" font-size="24" text-anchor="end" stroke="#000" stroke-width="0.25" transform="rotate(-90 332 2267)">SARS-CoV2 RBD IgG</text>
<line x1="293.9" y1="1841.14" x2="305.4" y2="1841.14" stroke="#333333" stroke-width="3.8"/>
<text x="286" y="1849.64" font-size="24" text-anchor="end" stroke="#000" stroke-width="0.25">age</text>
<line x1="353.04" y1="2246.3" x2="353.04" y2="2257.7" stroke="#333333" stroke-width="3.8"/>
<text x="361.84" y="2267" font-size="24" text-anchor="end" stroke="#000" stroke-width="0.25" transform="rotate(-90 361.84 2267)">SARS-CoV2 RBD IgM</text>
<line x1="293.9" y1="1870.98" x2="305.4" y2="1870.98" stroke="#333333" stroke-width="3.8"/>
<text x="286" y="1879.48" font-size="24" text-anchor="end" stroke="#000" stroke-width="0.25">H1N1Ca2009 HA IgM</text>
<line x1="382.88" y1="2246.3" x2="382.88" y2="2257.7" stroke="#333333" stroke-width="3.8"/>
<text x="391.68" y="2267" font-size="24" text-anchor="end" stroke="#000" stroke-width="0.25" transform="rotate(-90 391.68 2267)">SARS-CoV2 RBD IgA</text>
<line x1="293.9" y1="1900.82" x2="305.4" y2="1900.82" stroke="#333333" stroke-width="3.8"/>
<text x="286" y="1909.32" font-size="24" text-anchor="end" stroke="#000" stroke-width="0.25">H1N1Ca2009 HA IgG</text>
<line x1="412.72" y1="2246.3" x2="412.72" y2="2257.7" stroke="#333333" stroke-width="3.8"/>
<text x="421.52" y="2267" font-size="24" text-anchor="end" stroke="#000" stroke-width="0.25" transform="rotate(-90 421.52 2267)">SARS-CoV2 S1+S2 IgG</text>
<line x1="293.9" y1="1930.66" x2="305.4" y2="1930.66" stroke="#333333" stroke-width="3.8"/>
<text x="286" y="1939.16" font-size="24" text-anchor="end" stroke="#000" stroke-width="0.25">HCoV-HKU1 S2 IgG</text>
<line x1="442.56" y1="2246.3" x2="442.56" y2="2257.7" stroke="#333333" stroke-width="3.8"/>
<text x="451.36" y="2267" font-size="24" text-anchor="end" stroke="#000" stroke-width="0.25" transform="rotate(-90 451.36 2267)">SARS-CoV2 S2 IgG</text>
<line x1="293.9" y1="1960.5" x2="305.4" y2="1960.5" stroke="#333333" stroke-width="3.8"/>
<text x="286" y="1969" font-size="24" text-anchor="end" stroke="#000" stroke-width="0.25">HCoV-OC43 S2 IgG</text>
<line x1="472.4" y1="2246.3" x2="472.4" y2="2257.7" stroke="#333333" stroke-width="3.8"/>
<text x="481.2" y="2267" font-size="24" text-anchor="end" stroke="#000" stroke-width="0.25" transform="rotate(-90 481.2 2267)">SARS-CoV2 S1+S2 IgM</text>
<line x1="293.9" y1="1990.34" x2="305.4" y2="1990.34" stroke="#333333" stroke-width="3.8"/>
<text x="286" y="1998.84" font-size="24" text-anchor="end" stroke="#000" stroke-width="0.25">SARS-CoV2 NP IgG</text>
<line x1="502.24" y1="2246.3" x2="502.24" y2="2257.7" stroke="#333333" stroke-width="3.8"/>
<text x="511.04" y="2267" font-size="24" text-anchor="end" stroke="#000" stroke-width="0.25" transform="rotate(-90 511.04 2267)">SARS-CoV2 S1+S2 IgA</text>
<line x1="293.9" y1="2020.18" x2="305.4" y2="2020.18" stroke="#333333" stroke-width="3.8"/>
<text x="286" y="2028.68" font-size="24" text-anchor="end" stroke="#000" stroke-width="0.25">SARS-CoV2 S1+S2 IgA</text>
<line x1="532.08" y1="2246.3" x2="532.08" y2="2257.7" stroke="#333333" stroke-width="3.8"/>
<text x="540.88" y="2267" font-size="24" text-anchor="end" stroke="#000" stroke-width="0.25" transform="rotate(-90 540.88 2267)">SARS-CoV2 NP IgG</text>
<line x1="293.9" y1="2050.02" x2="305.4" y2="2050.02" stroke="#333333" stroke-width="3.8"/>
<text x="286" y="2058.52" font-size="24" text-anchor="end" stroke="#000" stroke-width="0.25">SARS-CoV2 S1+S2 IgM</text>
<line x1="561.92" y1="2246.3" x2="561.92" y2="2257.7" stroke="#333333" stroke-width="3.8"/>
<text x="570.72" y="2267" font-size="24" text-anchor="end" stroke="#000" stroke-width="0.25" transform="rotate(-90 570.72 2267)">HCoV-OC43 S2 IgG</text>
<line x1="293.9" y1="2079.86" x2="305.4" y2="2079.86" stroke="#333333" stroke-width="3.8"/>
<text x="286" y="2088.36" font-size="24" text-anchor="end" stroke="#000" stroke-width="0.25">SARS-CoV2 S2 IgG</text>
<line x1="591.76" y1="2246.3" x2="591.76" y2="2257.7" stroke="#333333" stroke-width="3.8"/>
<text x="600.56" y="2267" font-size="24" text-anchor="end" stroke="#000" stroke-width="0.25" transform="rotate(-90 600.56 2267)">HCoV-HKU1 S2 IgG</text>
<line x1="293.9" y1="2109.7" x2="305.4" y2="2109.7" stroke="#333333" stroke-width="3.8"/>
<text x="286" y="2118.2" font-size="24" text-anchor="end" stroke="#000" stroke-width="0.25">SARS-CoV2 S1+S2 IgG</text>
<line x1="621.6" y1="2246.3" x2="621.6" y2="2257.7" stroke="#333333" stroke-width="3.8"/>
<text x="630.4" y="2267" font-size="24" text-anchor="end" stroke="#000" stroke-width="0.25" transform="rotate(-90 630.4 2267)">H1N1Ca2009 HA IgG</text>
<line x1="293.9" y1="2139.54" x2="305.4" y2="2139.54" stroke="#333333" stroke-width="3.8"/>
<text x="286" y="2148.04" font-size="24" text-anchor="end" stroke="#000" stroke-width="0.25">SARS-CoV2 RBD IgA</text>
<line x1="651.44" y1="2246.3" x2="651.44" y2="2257.7" stroke="#333333" stroke-width="3.8"/>
<text x="660.24" y="2267" font-size="24" text-anchor="end" stroke="#000" stroke-width="0.25" transform="rotate(-90 660.24 2267)">H1N1Ca2009 HA IgM</text>
<line x1="293.9" y1="2169.38" x2="305.4" y2="2169.38" stroke="#333333" stroke-width="3.8"/>
<text x="286" y="2177.88" font-size="24" text-anchor="end" stroke="#000" stroke-width="0.25">SARS-CoV2 RBD IgM</text>
<line x1="681.28" y1="2246.3" x2="681.28" y2="2257.7" stroke="#333333" stroke-width="3.8"/>
<text x="690.08" y="2267" font-size="24" text-anchor="end" stroke="#000" stroke-width="0.25" transform="rotate(-90 690.08 2267)">age</text>
<line x1="293.9" y1="2199.22" x2="305.4" y2="2199.22" stroke="#333333" stroke-width="3.8"/>
<text x="286" y="2207.72" font-size="24" text-anchor="end" stroke="#000" stroke-width="0.25">SARS-CoV2 RBD IgG</text>
<line x1="711.12" y1="2246.3" x2="711.12" y2="2257.7" stroke="#333333" stroke-width="3.8"/>
<text x="719.92" y="2267" font-size="24" text-anchor="end" stroke="#000" stroke-width="0.25" transform="rotate(-90 719.92 2267)">bmi</text>
<line x1="293.9" y1="2229.06" x2="305.4" y2="2229.06" stroke="#333333" stroke-width="3.8"/>
<text x="286" y="2237.56" font-size="24" text-anchor="end" stroke="#000" stroke-width="0.25">id50</text>
<line x1="740.96" y1="2246.3" x2="740.96" y2="2257.7" stroke="#333333" stroke-width="3.8"/>
<text x="749.76" y="2267" font-size="24" text-anchor="end" stroke="#000" stroke-width="0.25" transform="rotate(-90 749.76 2267)">days post symptoms onset</text>
<text x="823.2" y="1851.4" font-size="36.6" stroke="#000" stroke-width="0.3">Corr</text>
<defs><linearGradient id="lg" x1="0" y1="0" x2="0" y2="1"><stop offset="0.0000" stop-color="#00cd66"/><stop offset="0.0250" stop-color="#2dd06e"/><stop offset="0.0500" stop-color="#42d375"/><stop offset="0.0750" stop-color="#52d67d"/><stop offset="0.1000" stop-color="#60d884"/><stop offset="0.1250" stop-color="#6ddb8c"/><stop offset="0.1500" stop-color="#78de93"/><stop offset="0.1750" stop-color="#83e09b"/><stop offset="0.2000" stop-color="#8ee3a2"/><stop offset="0.2250" stop-color="#98e5aa"/><stop offset="0.2500" stop-color="#a2e8b2"/><stop offset="0.2750" stop-color="#aceab9"/><stop offset="0.3000" stop-color="#b6edc1"/><stop offset="0.3250" stop-color="#bfefc9"/><stop offset="0.3500" stop-color="#c9f2d0"/><stop offset="0.3750" stop-color="#d2f4d8"/><stop offset="0.4000" stop-color="#dbf6e0"/><stop offset="0.4250" stop-color="#e4f9e7"/><stop offset="0.4500" stop-color="#edfbef"/><stop offset="0.4750" stop-color="#f6fdf7"/><stop offset="0.5000" stop-color="#ffffff"/><stop offset="0.5250" stop-color="#fff7f5"/><stop offset="0.5500" stop-color="#ffefeb"/><stop offset="0.5750" stop-color="#ffe7e1"/><stop offset="0.6000" stop-color="#ffdfd7"/><stop offset="0.6250" stop-color="#ffd8cd"/><stop offset="0.6500" stop-color="#ffd0c3"/><stop offset="0.6750" stop-color="#ffc8b9"/><stop offset="0.7000" stop-color="#ffc0b0"/><stop offset="0.7250" stop-color="#ffb8a6"/><stop offset="0.7500" stop-color="#ffb09d"/><stop offset="0.7750" stop-color="#ffa893"/><stop offset="0.8000" stop-color="#ffa08a"/><stop offset="0.8250" stop-color="#fd9881"/><stop offset="0.8500" stop-color="#fc9077"/><stop offset="0.8750" stop-color="#fa886e"/><stop offset="0.9000" stop-color="#f87f65"/><stop offset="0.9250" stop-color="#f6775c"/><stop offset="0.9500" stop-color="#f36e54"/><stop offset="0.9750" stop-color="#f1654b"/><stop offset="1.0000" stop-color="#ee5c42"/></linearGradient></defs>
<rect x="824.4" y="1878.2" width="69.3" height="334.4" fill="url(#lg)" opacity="0.3"/>
<rect x="824.4" y="1878.2" width="66.9" height="330.8" fill="url(#lg)"/>
<text x="911.5" y="1883.3" font-size="27.8" stroke="#000" stroke-width="0.3">1.0</text>
<line x1="824.4" y1="1959.6" x2="837.8" y2="1959.6" stroke="#fff" stroke-width="1.3"/>
<line x1="877.9" y1="1959.6" x2="891.3" y2="1959.6" stroke="#fff" stroke-width="1.3"/>
<text x="911.5" y="1969.4" font-size="27.8" stroke="#000" stroke-width="0.3">0.5</text>
<text x="911.5" y="2055.5" font-size="27.8" stroke="#000" stroke-width="0.3">0.0</text>
<line x1="824.4" y1="2131.8" x2="837.8" y2="2131.8" stroke="#fff" stroke-width="1.3"/>
<line x1="877.9" y1="2131.8" x2="891.3" y2="2131.8" stroke="#fff" stroke-width="1.3"/>
<text x="911.5" y="2141.6" font-size="27.8" stroke="#000" stroke-width="0.3">-0.5</text>
<text x="911.5" y="2227.7" font-size="27.8" stroke="#000" stroke-width="0.3">-1.0</text>
</g>
</svg>
</body></html>
